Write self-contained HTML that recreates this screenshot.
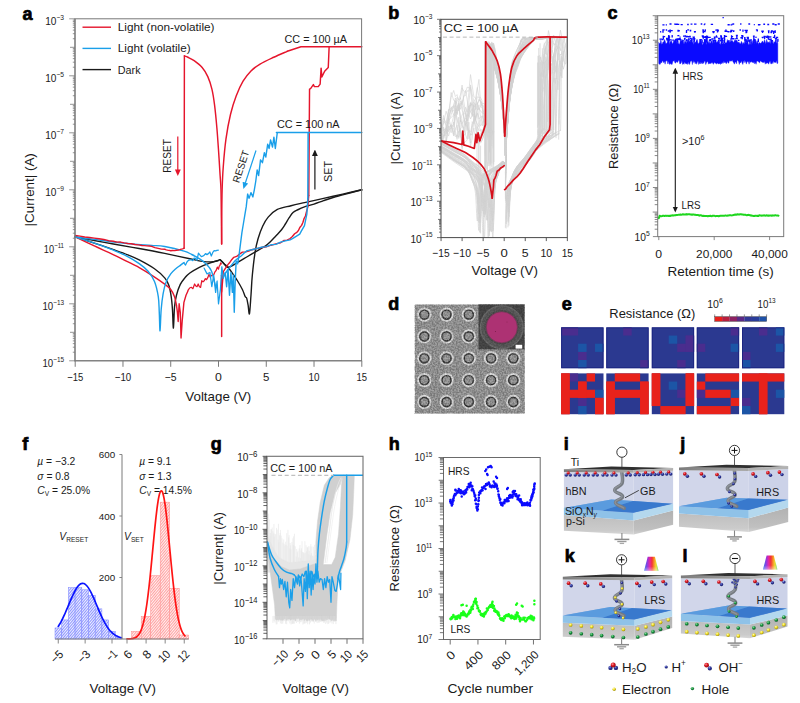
<!DOCTYPE html>
<html><head><meta charset="utf-8"><title>Figure</title>
<style>html,body{margin:0;padding:0;background:#fff;}svg{display:block;}</style>
</head><body>
<svg width="800" height="703" viewBox="0 0 800 703" font-family='"Liberation Sans", Arial, sans-serif'>
<rect width="800" height="703" fill="#fff"/>
<g>
<text x="22.5" y="19.5" font-size="18" font-weight="bold" fill="#000" stroke="#000" stroke-width="0.7">a</text>
<path d="M219.93 259.62 C220.65 260.34 222.88 262.62 224.23 263.9 C225.59 265.18 226.62 265.66 228.05 267.32 C229.49 268.98 231.24 271.6 232.83 273.88 C234.42 276.15 236.01 278.39 237.61 281 C239.2 283.61 241.11 286.94 242.38 289.55 C243.66 292.16 244.53 295.25 245.25 296.68 C245.97 298.1 246.2 296.68 246.68 298.1 C247.16 299.53 247.65 302.61 248.12 305.23 C248.58 307.84 248.98 315.44 249.45 313.77 C249.93 312.11 250.5 301.66 250.98 295.25 C251.46 288.84 251.63 282.47 252.32 275.3 C253 268.13 254.13 258.3 255.09 252.22 C256.04 246.13 256.79 243.14 258.05 238.82 C259.31 234.5 260.95 229.89 262.64 226.28 C264.32 222.67 265.73 219.96 268.18 217.16 C270.63 214.36 273.54 211.37 277.35 209.47 C281.15 207.56 286.49 206.9 291.01 205.76 C295.53 204.62 299.05 203.86 304.48 202.62 C309.91 201.39 317.22 199.78 323.59 198.35 C329.96 196.93 336.32 195.5 342.69 194.08 C349.06 192.65 358.62 190.51 361.8 189.8" fill="none" stroke="#1a1a1a" stroke-width="1.4" stroke-linejoin="round" stroke-linecap="round" />
<path d="M361.8 189.8 C358.62 190.66 347.47 193.65 342.69 194.93 C337.92 196.21 336.32 196.55 333.14 197.5 C329.96 198.44 326.77 199.54 323.59 200.63 C320.4 201.72 317.22 203.01 314.03 204.05 C310.85 205.09 307.19 205.95 304.48 206.9 C301.77 207.85 299.7 208.8 297.79 209.75 C295.88 210.7 294.45 211.27 293.02 212.6 C291.58 213.93 290.47 215.83 289.19 217.73 C287.92 219.63 286.65 222 285.37 224 C284.1 226 283.14 227.71 281.55 229.7 C279.96 231.7 277.57 234.07 275.82 235.97 C274.07 237.87 272.64 239.53 271.04 241.1 C269.45 242.67 268.65 243.71 266.27 245.38 C263.88 247.04 259.9 249.18 256.71 251.08 C253.53 252.98 250.34 254.87 247.16 256.77 C243.98 258.67 240.79 260.72 237.61 262.48 C234.42 264.23 230.28 267.08 228.05 267.32 C225.82 267.56 225.59 265.18 224.23 263.9 C222.88 262.62 220.65 260.34 219.93 259.62" fill="none" stroke="#1a1a1a" stroke-width="1.4" stroke-linejoin="round" stroke-linecap="round" />
<path d="M219.93 259.62 C218.9 259.96 216.35 261.29 213.72 261.62 C211.1 261.95 208.15 262.1 204.17 261.62 C200.19 261.14 196.42 260.15 189.84 258.77 C183.26 257.39 171.08 254.69 164.71 253.36 C158.35 252.03 156.99 251.79 151.63 250.79 C146.26 249.79 138.89 248.51 132.52 247.37 C126.15 246.23 119.78 245.09 113.41 243.95 C107.04 242.81 100.68 241.72 94.31 240.53 C87.94 239.34 78.38 237.44 75.2 236.83" fill="none" stroke="#1a1a1a" stroke-width="1.4" stroke-linejoin="round" stroke-linecap="round" />
<path d="M75.2 236.83 C78.38 237.87 87.91 240.96 94.31 243.09 C100.71 245.23 108.03 247.7 113.6 249.65 C119.18 251.6 123.48 253.07 127.74 254.78 C132.01 256.49 134.75 257.58 139.21 259.91 C143.67 262.24 150.24 265.75 154.49 268.75 C158.74 271.74 162.33 275.11 164.71 277.87 C167.1 280.62 167.74 282.14 168.82 285.27 C169.91 288.41 170.61 292.64 171.21 296.68 C171.82 300.71 172.09 304.27 172.45 309.5 C172.82 314.73 173.06 328.5 173.41 328.02 C173.76 327.55 174.05 312.11 174.55 306.65 C175.06 301.19 175.51 298.95 176.47 295.25 C177.42 291.55 178.85 287.37 180.29 284.42 C181.72 281.48 183.47 279.48 185.06 277.58 C186.66 275.68 187.45 274.73 189.84 273.02 C192.23 271.31 196.21 268.94 199.39 267.32 C202.58 265.7 205.76 264.47 208.95 263.33 C212.13 262.19 216.91 260.96 218.5 260.48" fill="none" stroke="#1a1a1a" stroke-width="1.4" stroke-linejoin="round" stroke-linecap="round" />
<path d="M361.8 46.73 L300.95 46.73 L287.28 51.29" fill="none" stroke="#e5152c" stroke-width="1.45" stroke-linejoin="round" stroke-linecap="round" />
<path d="M287.28 51.29 C285.02 52.29 278.26 55.14 273.72 57.27 C269.18 59.41 263.85 61.83 260.06 64.11 C256.27 66.39 253.82 68.1 250.98 70.95 C248.15 73.81 245.52 77.04 243.05 81.22 C240.58 85.4 238.26 90.53 236.17 96.03 C234.09 101.54 232.24 107.1 230.54 114.27 C228.83 121.45 227.16 130.38 225.95 139.07 C224.74 147.76 223.91 157.97 223.28 166.43 C222.64 174.89 222.39 181.16 222.13 189.8 C221.88 198.45 221.83 209.28 221.75 218.3 C221.67 227.33 221.67 239.68 221.65 243.95" fill="none" stroke="#e5152c" stroke-width="1.45" stroke-linejoin="round" stroke-linecap="round" />
<path d="M221.65 243.95 C221.6 239.68 221.48 227.33 221.37 218.3 C221.25 209.28 221.19 196.93 220.98 189.8 C220.78 182.68 220.51 181.73 220.12 175.55 C219.74 169.38 219.23 160.68 218.69 152.75 C218.15 144.82 217.56 135.89 216.88 127.95 C216.19 120.02 215.41 111.62 214.58 105.16 C213.76 98.69 213.04 93.94 211.91 89.19 C210.78 84.44 209.42 80.27 207.8 76.66 C206.18 73.05 204.44 70.19 202.16 67.53 C199.89 64.88 196.51 62.4 194.14 60.69 C191.77 58.98 189.55 58.08 187.93 57.27 C186.31 56.47 184.98 56.09 184.39 55.85" fill="none" stroke="#e5152c" stroke-width="1.45" stroke-linejoin="round" stroke-linecap="round" />
<path d="M184.39 55.85 L184.11 248.23" fill="none" stroke="#e5152c" stroke-width="1.45" stroke-linejoin="round" stroke-linecap="round" />
<path d="M75.2 236.83 C78.38 238.35 87.91 242.95 94.31 245.95 C100.71 248.94 107.24 251.74 113.6 254.78 C119.97 257.82 128.25 262.05 132.52 264.19 C136.79 266.32 135.98 265.75 139.21 267.61 C142.44 269.46 147.66 272.55 151.91 275.3 C156.16 278.06 161.58 281.76 164.71 284.14 C167.85 286.51 169.09 287.46 170.73 289.55 C172.37 291.64 173.6 294.06 174.55 296.68 C175.51 299.29 176.15 303.8 176.47 305.23" fill="none" stroke="#e5152c" stroke-width="1.4" stroke-linejoin="round" stroke-linecap="round" />
<path d="M176.47 305.23 L177.42 312.35 L178.18 321.47 L179.14 303.8 L180.29 312.35 L181.05 338 L182.2 320.9 L183.92 302.38 L186.02 295.25 L187.93 290.98" fill="none" stroke="#e5152c" stroke-width="1.4" stroke-linejoin="round" stroke-linecap="round" />
<path d="M187.93 290.26 L189.6 288.02 L191.27 287.29 L192.94 288.65 L194.62 283.98 L195.81 286.02 L197 286.67 L198.2 283.96 L199.39 286.78 L200.59 287.36 L201.78 280.63 L202.98 281.91 L204.17 280.83 L205.36 278.62 L206.56 279.66 L207.75 277.69 L208.95 274.38 L210.14 276.98 L211.33 275.66 L212.53 275.03 L213.72 274.75 L214.92 271.96 L216.11 270.5 L217.31 267.17 L218.5 269.16 L219.22 266.13 L219.93 265.31 L220.65 262.95 L221.37 263.9" fill="none" stroke="#e5152c" stroke-width="1.25" stroke-linejoin="round" stroke-linecap="round" />
<path d="M221.65 275.3 L221.65 336.58" fill="none" stroke="#e5152c" stroke-width="1.45" stroke-linejoin="round" stroke-linecap="round" />
<path d="M221.65 292.06 L222.19 285.56 L222.74 279.55 L223.28 271.74 L224.87 269.09 L226.46 266.83 L228.05 264.41 L229.96 262.2 L231.87 259.44 L233.79 257.32 L236.65 256.43 L239.52 254.14 L242.38 252.11 L245.57 251.89 L248.75 250.99 L251.94 249.71 L256.71 248.6 L261.49 247.52 L266.27 246.79 L271.04 245.21 L275.82 243.94 L280.6 242.72 L283.78 240.55 L286.97 240.12 L290.15 238.58 L292.38 236.54 L294.61 233.76 L296.84 232.33 L298.43 230.47 L300.02 227.17 L301.61 225.36 L302.89 222.46 L304.16 218.32 L305.44 216.01 L306.23 212.79 L307.03 209.7 L307.82 207.01 L308.14 203.33 L308.46 199.34 L308.78 195.5" fill="none" stroke="#e5152c" stroke-width="1.4" stroke-linejoin="round" stroke-linecap="round" />
<path d="M308.78 195.5 L309.54 89.19 L310.59 88.62 L313.36 84.63 L314.42 86.63 L318.24 86.63 L320.15 84.06 L321.1 68.11 L321.87 76.94 L324.64 71.24 L328.27 67.53 L329.13 46.73" fill="none" stroke="#e5152c" stroke-width="1.45" stroke-linejoin="round" stroke-linecap="round" />
<path d="M361.8 132.52 L276.39 132.52" fill="none" stroke="#1a9fe9" stroke-width="1.45" stroke-linejoin="round" stroke-linecap="round" />
<path d="M277.25 132.8 L275.34 148.47 L273.91 137.08 L272.48 147.05 L270.57 139.93 L269.13 148.47 L267.7 144.2 L265.79 157.03 L264.36 152.75 L262.45 162.73 L260.53 159.88 L258.62 175.55 L257.19 169.85 L255.76 181.25 L254.32 189.8 L252.89 196.93 L250.98 192.65 L249.07 198.35 L247.64 194.08 L246.2 206.9 L244.77 215.45 L243.34 224 L241.91 232.55 L240.47 243.95 L239.04 255.35 L237.61 263.9 L236.17 261.05 L235.22 281 L234.26 312.35 L233.31 275.3 L232.35 292.4 L230.92 272.45 L229.49 295.25 L228.05 269.6 L226.62 286.7 L225.19 272.45 L223.28 278.15" fill="none" stroke="#1a9fe9" stroke-width="1.4" stroke-linejoin="round" stroke-linecap="round" />
<path d="M223.28 278.15 L221.84 266.75 L220.41 289.55 L218.5 303.8 L217.07 281 L215.63 292.4 L213.72 275.3 L211.81 286.7 L209.9 272.45 L207.04 273.88 L204.17 268.18" fill="none" stroke="#1a9fe9" stroke-width="1.25" stroke-linejoin="round" stroke-linecap="round" />
<path d="M224.23 275.64 L226.14 272.25 L228.05 269.48 L229.96 267.06 L232.51 263.91 L235.06 260.79 L237.61 258.48 L240.79 256.26 L243.98 253.32 L247.16 250.66 L251.94 249.8 L256.71 248.56 L261.49 247.28 L266.27 246.65 L271.04 244.78 L275.82 244.33 L280.6 242.14 L285.37 240.86 L290.15 239.86 L293.33 238.11 L296.52 236.13 L299.7 234.08 L301.3 231.17 L302.89 228.32 L304.48 225.6 L305.28 221.57 L306.07 217.91 L306.87 214.2 L307.19 208.8 L307.51 203.8 L307.82 198.35" fill="none" stroke="#1a9fe9" stroke-width="1.4" stroke-linejoin="round" stroke-linecap="round" />
<path d="M307.82 198.35 L308.11 132.8" fill="none" stroke="#1a9fe9" stroke-width="1.45" stroke-linejoin="round" stroke-linecap="round" />
<path d="M215.63 286.7 C214.93 284.09 213.02 274.82 211.43 271.02 C209.84 267.22 207.98 265.89 206.08 263.9 C204.19 261.9 202.45 260.62 200.06 259.06 C197.67 257.49 194.41 255.82 191.75 254.5 C189.09 253.17 188.61 252.41 184.11 251.08 C179.6 249.75 170.13 247.47 164.71 246.52 C159.3 245.56 156.99 245.8 151.63 245.38 C146.26 244.95 138.89 244.52 132.52 243.95 C126.15 243.38 119.78 242.72 113.41 241.96 C107.04 241.2 100.68 240.25 94.31 239.39 C87.94 238.54 78.38 237.25 75.2 236.83" fill="none" stroke="#1a9fe9" stroke-width="1.4" stroke-linejoin="round" stroke-linecap="round" />
<path d="M75.2 236.83 C77.43 237.54 84.28 239.68 88.57 241.1 C92.87 242.53 96.85 243.86 100.99 245.38 C105.13 246.89 109.19 248.46 113.41 250.22 C117.63 251.98 122.01 253.69 126.31 255.92 C130.61 258.15 135.58 261.05 139.21 263.62 C142.84 266.18 145.54 268.32 148.09 271.31 C150.64 274.3 152.79 277.3 154.49 281.57 C156.2 285.85 157.52 291.83 158.31 296.96 C159.11 302.09 158.98 306.7 159.27 312.35 C159.56 318 159.72 331.35 160.03 330.88 C160.35 330.4 160.67 315.68 161.18 309.5 C161.69 303.32 162.29 298.34 163.09 293.83 C163.89 289.31 164.68 285.75 165.96 282.43 C167.23 279.1 169.14 276.11 170.73 273.88 C172.33 271.64 173.92 270.45 175.51 269.03 C177.1 267.6 178.85 266.42 180.29 265.32 C181.72 264.23 183.47 262.95 184.11 262.48" fill="none" stroke="#1a9fe9" stroke-width="1.4" stroke-linejoin="round" stroke-linecap="round" />
<path d="M184.11 263.32 L185.54 264.99 L186.97 261.96 L188.41 260.34 L189.84 259.92 L191.27 259.82 L192.71 260.58 L194.14 258.05 L195.57 258.49 L197 260.24 L198.44 253.21 L199.87 254.95 L201.3 256.57 L202.71 256.16 L204.12 255.28 L205.53 253.63 L206.94 254.62 L208.4 253.64 L209.85 252 L211.31 256 L212.77 252.46 L214.15 250.67 L215.54 250.93 L216.92 250.31 L218.31 250.22" fill="none" stroke="#1a9fe9" stroke-width="1.25" stroke-linejoin="round" stroke-linecap="round" />
<path d="M184.11 248.16 L182.68 248.85 L181.24 249.17 L179.81 249.64 L178.38 249.99 L176.47 250.24 L174.55 250.64 L172.64 250.54 L170.73 250.76 L169.23 250.35 L167.72 250.18 L166.22 249.91 L164.71 249.23 L161.44 249.15 L158.17 248.35 L154.9 247.64 L151.63 246.38 L149.24 246.01 L146.85 245.87 L144.46 245.61 L142.07 245.45 L138.49 244.86 L134.91 244.51 L131.33 243.72 L127.74 243.46 L124.16 242.91 L120.58 242.07 L117 242.1 L113.41 241.24 L108.64 240.69 L103.86 239.52 L99.08 238.78 L94.31 238.16 L89.53 237.51 L84.75 236.98 L79.98 236.17 L75.2 235.4" fill="none" stroke="#e5152c" stroke-width="1.4" stroke-linejoin="round" stroke-linecap="round" />
<rect x="75" y="18.8" width="286.6" height="342" fill="none" stroke="#787878" stroke-width="1"/>
<line x1="75" y1="18.8" x2="75" y2="361.3" stroke="#7a7a7a" stroke-width="1.1" />
<line x1="74.5" y1="360.8" x2="361.6" y2="360.8" stroke="#7a7a7a" stroke-width="1.1" />
<path d="M69.2 18.8H75M72.8 38.72H75M72.8 33.7H75M72.8 30.14H75M72.8 27.38H75M72.8 25.12H75M72.8 23.21H75M72.8 21.56H75M72.8 20.1H75M70 47.3H75M72.8 67.22H75M72.8 62.2H75M72.8 58.64H75M72.8 55.88H75M72.8 53.62H75M72.8 51.71H75M72.8 50.06H75M72.8 48.6H75M69.2 75.8H75M72.8 95.72H75M72.8 90.7H75M72.8 87.14H75M72.8 84.38H75M72.8 82.12H75M72.8 80.21H75M72.8 78.56H75M72.8 77.1H75M70 104.3H75M72.8 124.22H75M72.8 119.2H75M72.8 115.64H75M72.8 112.88H75M72.8 110.62H75M72.8 108.71H75M72.8 107.06H75M72.8 105.6H75M69.2 132.8H75M72.8 152.72H75M72.8 147.7H75M72.8 144.14H75M72.8 141.38H75M72.8 139.12H75M72.8 137.21H75M72.8 135.56H75M72.8 134.1H75M70 161.3H75M72.8 181.22H75M72.8 176.2H75M72.8 172.64H75M72.8 169.88H75M72.8 167.62H75M72.8 165.71H75M72.8 164.06H75M72.8 162.6H75M69.2 189.8H75M72.8 209.72H75M72.8 204.7H75M72.8 201.14H75M72.8 198.38H75M72.8 196.12H75M72.8 194.21H75M72.8 192.56H75M72.8 191.1H75M70 218.3H75M72.8 238.22H75M72.8 233.2H75M72.8 229.64H75M72.8 226.88H75M72.8 224.62H75M72.8 222.71H75M72.8 221.06H75M72.8 219.6H75M69.2 246.8H75M72.8 266.72H75M72.8 261.7H75M72.8 258.14H75M72.8 255.38H75M72.8 253.12H75M72.8 251.21H75M72.8 249.56H75M72.8 248.1H75M70 275.3H75M72.8 295.22H75M72.8 290.2H75M72.8 286.64H75M72.8 283.88H75M72.8 281.62H75M72.8 279.71H75M72.8 278.06H75M72.8 276.6H75M69.2 303.8H75M72.8 323.72H75M72.8 318.7H75M72.8 315.14H75M72.8 312.38H75M72.8 310.12H75M72.8 308.21H75M72.8 306.56H75M72.8 305.1H75M70 332.3H75M72.8 352.22H75M72.8 347.2H75M72.8 343.64H75M72.8 340.88H75M72.8 338.62H75M72.8 336.71H75M72.8 335.06H75M72.8 333.6H75M69.2 360.8H75" stroke="#7a7a7a" stroke-width="0.8" fill="none"/>
<text x="64" y="24.76" font-size="11" text-anchor="end" fill="#1a1a1a"  textLength="18.84" lengthAdjust="spacingAndGlyphs">10<tspan font-size="7.26" dy="-4.84">−3</tspan></text>
<text x="64" y="81.76" font-size="11" text-anchor="end" fill="#1a1a1a"  textLength="18.84" lengthAdjust="spacingAndGlyphs">10<tspan font-size="7.26" dy="-4.84">−5</tspan></text>
<text x="64" y="138.76" font-size="11" text-anchor="end" fill="#1a1a1a"  textLength="18.84" lengthAdjust="spacingAndGlyphs">10<tspan font-size="7.26" dy="-4.84">−7</tspan></text>
<text x="64" y="195.76" font-size="11" text-anchor="end" fill="#1a1a1a"  textLength="18.84" lengthAdjust="spacingAndGlyphs">10<tspan font-size="7.26" dy="-4.84">−9</tspan></text>
<text x="64" y="252.76" font-size="11" text-anchor="end" fill="#1a1a1a"  textLength="20.15" lengthAdjust="spacingAndGlyphs">10<tspan font-size="7.26" dy="-4.84">−11</tspan></text>
<text x="64" y="309.76" font-size="11" text-anchor="end" fill="#1a1a1a"  textLength="21.6" lengthAdjust="spacingAndGlyphs">10<tspan font-size="7.26" dy="-4.84">−13</tspan></text>
<text x="64" y="366.76" font-size="11" text-anchor="end" fill="#1a1a1a"  textLength="21.6" lengthAdjust="spacingAndGlyphs">10<tspan font-size="7.26" dy="-4.84">−15</tspan></text>
<line x1="75.2" y1="360.8" x2="75.2" y2="366.8" stroke="#7a7a7a" stroke-width="1" />
<text x="75.2" y="381.2" font-size="11" text-anchor="middle" fill="#1a1a1a"  textLength="16.06" lengthAdjust="spacingAndGlyphs">−15</text>
<line x1="122.97" y1="360.8" x2="122.97" y2="366.8" stroke="#7a7a7a" stroke-width="1" />
<text x="122.97" y="381.2" font-size="11" text-anchor="middle" fill="#1a1a1a"  textLength="16.5" lengthAdjust="spacingAndGlyphs">−10</text>
<line x1="170.73" y1="360.8" x2="170.73" y2="366.8" stroke="#7a7a7a" stroke-width="1" />
<text x="170.73" y="381.2" font-size="11" text-anchor="middle" fill="#1a1a1a"  textLength="11.88" lengthAdjust="spacingAndGlyphs">−5</text>
<line x1="218.5" y1="360.8" x2="218.5" y2="366.8" stroke="#7a7a7a" stroke-width="1" />
<text x="218.5" y="381.2" font-size="11" text-anchor="middle" fill="#1a1a1a"  textLength="6.82" lengthAdjust="spacingAndGlyphs">0</text>
<line x1="266.27" y1="360.8" x2="266.27" y2="366.8" stroke="#7a7a7a" stroke-width="1" />
<text x="266.27" y="381.2" font-size="11" text-anchor="middle" fill="#1a1a1a"  textLength="6.38" lengthAdjust="spacingAndGlyphs">5</text>
<line x1="314.03" y1="360.8" x2="314.03" y2="366.8" stroke="#7a7a7a" stroke-width="1" />
<text x="314.03" y="381.2" font-size="11" text-anchor="middle" fill="#1a1a1a"  textLength="11" lengthAdjust="spacingAndGlyphs">10</text>
<line x1="361.8" y1="360.8" x2="361.8" y2="366.8" stroke="#7a7a7a" stroke-width="1" />
<text x="361.8" y="381.2" font-size="11" text-anchor="middle" fill="#1a1a1a"  textLength="10.56" lengthAdjust="spacingAndGlyphs">15</text>
<text x="218.3" y="400.5" font-size="13" text-anchor="middle" fill="#1a1a1a"  textLength="66" lengthAdjust="spacingAndGlyphs">Voltage (V)</text>
<text transform="translate(34,189.8) rotate(-90)" font-size="13.2" text-anchor="middle" fill="#1a1a1a" textLength="73.2" lengthAdjust="spacingAndGlyphs">|Current| (A)</text>
<line x1="82.5" y1="27.2" x2="111" y2="27.2" stroke="#e5152c" stroke-width="1.4" />
<text x="117.8" y="31.1" font-size="11.2" text-anchor="start" fill="#1a1a1a"  textLength="96.7" lengthAdjust="spacingAndGlyphs">Light (non-volatile)</text>
<line x1="82.5" y1="48.4" x2="111" y2="48.4" stroke="#1a9fe9" stroke-width="1.4" />
<text x="117.8" y="52.3" font-size="11.2" text-anchor="start" fill="#1a1a1a"  textLength="72.8" lengthAdjust="spacingAndGlyphs">Light (volatile)</text>
<line x1="82.5" y1="69.6" x2="111" y2="69.6" stroke="#1a1a1a" stroke-width="1.4" />
<text x="117.8" y="73.5" font-size="11.2" text-anchor="start" fill="#1a1a1a"  textLength="22.8" lengthAdjust="spacingAndGlyphs">Dark</text>
<text x="284.5" y="42.5" font-size="10.8" text-anchor="start" fill="#1a1a1a"  textLength="62.6" lengthAdjust="spacingAndGlyphs">CC = 100 µA</text>
<text x="277" y="128" font-size="10.8" text-anchor="start" fill="#1a1a1a"  textLength="62.6" lengthAdjust="spacingAndGlyphs">CC = 100 nA</text>
<defs><marker id="ar" viewBox="0 0 10 10" refX="7" refY="5" markerWidth="5.5" markerHeight="5.5" orient="auto-start-reverse"><path d="M0 0.5L10 5L0 9.5z" fill="context-stroke"/></marker></defs>
<line x1="177.8" y1="136.5" x2="177.8" y2="174" stroke="#e5152c" stroke-width="1.2" marker-end="url(#ar)"/>
<text transform="translate(170.6,156) rotate(-90)" font-size="10" text-anchor="middle" fill="#1a1a1a" textLength="33.6" lengthAdjust="spacingAndGlyphs">RESET</text>
<line x1="256" y1="150.5" x2="244" y2="187" stroke="#1a9fe9" stroke-width="1.2" marker-end="url(#ar)"/>
<text transform="translate(244.3,167.5) rotate(-72)" font-size="10" text-anchor="middle" fill="#1a1a1a" textLength="33.6" lengthAdjust="spacingAndGlyphs">RESET</text>
<line x1="314.9" y1="189.5" x2="314.9" y2="151.5" stroke="#1a1a1a" stroke-width="1.2" marker-end="url(#ar)"/>
<text transform="translate(331.8,171.5) rotate(-90)" font-size="10" text-anchor="middle" fill="#1a1a1a" textLength="21" lengthAdjust="spacingAndGlyphs">SET</text>
</g>
<g>
<text x="388.2" y="18.8" font-size="18" font-weight="bold" fill="#000" stroke="#000" stroke-width="0.7">b</text>
<clipPath id="cb"><rect x="441" y="19.3" width="126.3" height="218.3"/></clipPath>
<g clip-path="url(#cb)">
<path d="M567.35 37.49 C563.87 37.49 551.03 37.42 546.5 37.49 C541.97 37.56 542.27 37.71 540.15 37.93 C538.04 38.15 535.92 38.42 533.81 38.8 C531.69 39.17 530.33 37.21 527.46 40.16 C524.6 43.11 519.11 51.35 516.61 56.5 C514.11 61.65 513.72 64.52 512.48 71.06 C511.23 77.59 510.06 87.35 509.17 95.7 C508.27 104.06 507.64 112.08 507.1 121.17 C506.55 130.27 506.16 141.39 505.88 150.28 C505.61 159.17 505.53 170.47 505.46 174.5" fill="none" stroke="#d2d2d2" stroke-width="0.7" stroke-linejoin="round" stroke-linecap="round" />
<path d="M505.46 155.74 C505.25 151.19 504.76 137.24 504.2 128.45 C503.64 119.66 502.96 110.86 502.13 102.98 C501.3 95.1 500.27 87.52 499.23 81.15 C498.2 74.78 497.01 68.86 495.92 64.78 C494.84 60.7 493.72 59.55 492.71 56.68 C491.69 53.82 490.31 49.1 489.83 47.59" fill="none" stroke="#d2d2d2" stroke-width="0.7" stroke-linejoin="round" stroke-linecap="round" />
<path d="M489.83 47.59 L489.83 165.53" fill="none" stroke="#d2d2d2" stroke-width="0.7" stroke-linejoin="round" stroke-linecap="round" />
<path d="M441.05 150.99 C443.16 152.46 449.47 156.93 453.68 159.81 C457.89 162.7 462.07 164.73 466.31 168.32 C470.55 171.9 476.3 177.15 479.14 181.33 C481.98 185.5 482.3 187.99 483.35 193.39 C484.4 198.79 484.75 214.86 485.46 213.74 C486.16 212.62 486.65 193.3 487.56 186.66 C488.47 180.03 488.58 178.04 490.93 173.93 C493.28 169.82 499.46 163.83 501.67 162.01 C503.89 160.19 503.78 162.85 504.2 163.01" fill="none" stroke="#d2d2d2" stroke-width="0.7" stroke-linejoin="round" stroke-linecap="round" />
<path d="M441.05 127.83 L443.58 115.46 L446.1 127.62 L448.63 136.06 L451.15 126.12 L453.68 132.59 L455.36 136.62 L457.05 135.05 L458.73 137.15 L460.42 120.12 L462.1 125.78 L463.78 127.85 L465.47 134.67 L467.15 139.01 L468.84 122.14 L470.52 143 L472.2 121.69 L473.89 123.71 L475.57 104.2 L477.26 103.91 L478.94 100.37 L481.12 101.19 L483.3 110.43 L485.48 121 L487.65 125.26 L489.83 132.09" fill="none" stroke="#d2d2d2" stroke-width="0.6" stroke-linejoin="round" stroke-linecap="round" />
<path d="M507.96 226.98 C508.24 220.56 508.52 197.95 509.65 188.48 C510.77 179.01 512.12 175.5 514.73 170.17 C517.33 164.84 521.74 161.2 525.25 156.5 C528.76 151.79 531.84 146.64 535.77 141.94 C539.71 137.25 546.7 130.6 548.89 128.33" fill="none" stroke="#d2d2d2" stroke-width="0.7" stroke-linejoin="round" stroke-linecap="round" />
<path d="M548.89 131.73 L549.17 113.13 L549.45 86.1 L549.73 55.64 L550.29 65.51 L550.85 47.65 L551.41 53.6 L552.11 50.12 L552.82 52.95 L553.52 56.47 L554.92 49.15 L556.32 45.43 L557.73 37.49" fill="none" stroke="#d2d2d2" stroke-width="0.7" stroke-linejoin="round" stroke-linecap="round" />
<path d="M567.35 37.49 C561.99 37.49 541.31 37.42 535.17 37.49 C529.04 37.57 532.08 37.71 530.53 37.93 C528.98 38.16 527.43 38.44 525.88 38.82 C524.33 39.2 522.71 36.36 521.24 40.22 C519.76 44.08 518.43 55.91 517.01 61.96 C515.59 68.01 514.02 70.89 512.74 76.51 C511.46 82.14 510.25 88.26 509.32 95.7 C508.4 103.15 507.76 112.08 507.19 121.17 C506.62 130.27 506.17 138.38 505.88 150.28 C505.6 162.18 505.53 185.52 505.46 192.57" fill="none" stroke="#d2d2d2" stroke-width="0.7" stroke-linejoin="round" stroke-linecap="round" />
<path d="M505.46 155.74 C505.25 151.19 504.77 137.24 504.2 128.45 C503.63 119.66 502.92 110.86 502.07 102.98 C501.21 95.1 500.14 87.52 499.08 81.15 C498.01 74.78 497.24 69.77 495.66 64.78 C494.08 59.79 491.21 55 489.59 51.23 C487.97 47.45 486.55 43.65 485.94 42.13" fill="none" stroke="#d2d2d2" stroke-width="0.7" stroke-linejoin="round" stroke-linecap="round" />
<path d="M485.94 42.13 L485.94 162.93" fill="none" stroke="#d2d2d2" stroke-width="0.7" stroke-linejoin="round" stroke-linecap="round" />
<path d="M441.05 146.63 C443.16 147.92 449.47 151.75 453.68 154.36 C457.89 156.98 463.42 158.64 466.31 162.32 C469.2 166 469.54 171.61 471.03 176.42 C472.51 181.24 474.18 183.78 475.24 191.21 C476.29 198.63 476.64 221.74 477.34 220.98 C478.04 220.23 478.53 194.51 479.45 186.66 C480.36 178.82 479.11 177.13 482.81 173.93 C486.52 170.73 498.11 169.29 501.67 167.47 C505.24 165.65 503.78 163.76 504.2 163.01" fill="none" stroke="#d2d2d2" stroke-width="0.7" stroke-linejoin="round" stroke-linecap="round" />
<path d="M507.83 211.86 C508.11 207.97 508.37 194.22 509.51 188.48 C510.66 182.75 512.1 181.26 514.73 177.45 C517.35 173.63 521.74 169.99 525.25 165.59 C528.76 161.19 531.15 156.04 535.77 151.04 C540.4 146.04 550.14 138.18 553.01 135.61" fill="none" stroke="#d2d2d2" stroke-width="0.7" stroke-linejoin="round" stroke-linecap="round" />
<path d="M553.01 128.01 L553.29 126.48 L553.57 117.74 L553.85 107.45 L554.41 83.21 L554.97 63.24 L555.53 52.58 L556.24 47.16 L556.94 45.39 L557.64 48.78 L559.04 40.17 L560.45 30.17 L561.85 37.49" fill="none" stroke="#d2d2d2" stroke-width="0.7" stroke-linejoin="round" stroke-linecap="round" />
<path d="M567.35 37.49 C562.95 37.49 546.29 37.42 540.97 37.49 C535.66 37.56 537.29 37.71 535.46 37.91 C533.62 38.11 531.78 38.37 529.94 38.71 C528.1 39.04 526.89 36.36 524.42 39.94 C521.95 43.52 517.28 54.36 515.12 60.16 C512.97 65.95 512.57 68.79 511.48 74.71 C510.39 80.64 509.36 87.96 508.57 95.7 C507.78 103.45 507.2 112.08 506.75 121.17 C506.3 130.27 506.1 137.47 505.88 150.28 C505.67 163.09 505.53 190.07 505.46 198.02" fill="none" stroke="#d2d2d2" stroke-width="0.7" stroke-linejoin="round" stroke-linecap="round" />
<path d="M505.46 155.74 C505.25 151.19 504.71 137.24 504.2 128.45 C503.69 119.66 503.11 110.86 502.38 102.98 C501.65 95.1 500.74 87.52 499.83 81.15 C498.92 74.78 497.91 69.47 496.92 64.78 C495.92 60.09 494.8 56.5 493.85 53.03 C492.91 49.55 491.7 45.45 491.27 43.93" fill="none" stroke="#d2d2d2" stroke-width="0.7" stroke-linejoin="round" stroke-linecap="round" />
<path d="M491.27 43.93 L491.27 139.08" fill="none" stroke="#d2d2d2" stroke-width="0.7" stroke-linejoin="round" stroke-linecap="round" />
<path d="M441.05 145.97 C443.16 147.23 449.47 150.96 453.68 153.53 C457.89 156.1 462.38 157.71 466.31 161.4 C470.24 165.09 474.74 170.76 477.26 175.67 C479.79 180.58 480.42 186.11 481.47 190.87 C482.53 195.64 482.88 204.98 483.58 204.28 C484.28 203.57 484.77 191.72 485.68 186.66 C486.59 181.61 486.39 177.43 489.05 173.93 C491.72 170.43 499.15 167.49 501.67 165.67 C504.2 163.85 503.78 163.46 504.2 163.01" fill="none" stroke="#d2d2d2" stroke-width="0.7" stroke-linejoin="round" stroke-linecap="round" />
<path d="M441.05 138.4 L443.58 121.09 L446.1 124.49 L448.63 112.01 L451.15 97.4 L453.68 90.44 L455.36 96.52 L457.05 94.63 L458.73 102.73 L460.42 97.67 L462.1 105.05 L463.78 115.93 L465.47 125.14 L467.15 122.36 L468.84 138.74 L470.52 133.59 L472.2 135.04 L473.89 128.13 L475.57 140.78 L477.26 126.77 L478.94 130.35 L481.41 129.79 L483.87 130.94 L486.34 128.46 L488.8 132.92 L491.27 132.09" fill="none" stroke="#d2d2d2" stroke-width="0.6" stroke-linejoin="round" stroke-linecap="round" />
<path d="M508.87 211.4 C509.15 207.58 509.58 194.54 510.56 188.48 C511.53 182.42 512.28 179.36 514.73 175.04 C517.17 170.73 521.74 167.09 525.25 162.59 C528.76 158.09 530.2 152.93 535.77 148.04 C541.35 143.14 554.86 135.68 558.68 133.2" fill="none" stroke="#d2d2d2" stroke-width="0.7" stroke-linejoin="round" stroke-linecap="round" />
<path d="M558.68 139.25 L558.96 107.21 L559.24 84.11 L559.52 60.94 L560.09 62.07 L560.65 63.75 L561.21 72.49 L561.91 77.98 L562.61 66.06 L563.31 69.22 L564.66 64.27 L566 52.04 L567.35 37.49" fill="none" stroke="#d2d2d2" stroke-width="0.7" stroke-linejoin="round" stroke-linecap="round" />
<path d="M567.35 37.49 C563.14 37.49 547.23 37.42 542.07 37.49 C536.91 37.56 538.28 37.7 536.39 37.9 C534.5 38.09 532.6 38.33 530.71 38.65 C528.82 38.97 527.78 36.18 525.03 39.81 C522.28 43.44 516.58 54.57 514.22 60.43 C511.86 66.29 511.88 69.11 510.88 74.98 C509.88 80.86 508.93 88.01 508.21 95.7 C507.49 103.4 506.93 112.08 506.54 121.17 C506.15 130.27 506.06 144.25 505.88 150.28 C505.7 156.31 505.53 156.19 505.46 157.37" fill="none" stroke="#d2d2d2" stroke-width="0.7" stroke-linejoin="round" stroke-linecap="round" />
<path d="M505.46 155.74 C505.25 151.19 504.69 137.24 504.2 128.45 C503.71 119.66 503.2 110.86 502.53 102.98 C501.86 95.1 501.03 87.52 500.19 81.15 C499.36 74.78 498.48 69.51 497.52 64.78 C496.55 60.05 495.33 56.27 494.4 52.75 C493.47 49.23 492.36 45.18 491.95 43.66" fill="none" stroke="#d2d2d2" stroke-width="0.7" stroke-linejoin="round" stroke-linecap="round" />
<path d="M491.95 43.66 L491.95 139.45" fill="none" stroke="#d2d2d2" stroke-width="0.7" stroke-linejoin="round" stroke-linecap="round" />
<path d="M441.05 142.43 C443.16 143.55 449.47 146.76 453.68 149.11 C457.89 151.47 463.17 152.78 466.31 156.55 C469.45 160.31 470.77 166.27 472.51 171.7 C474.24 177.12 475.66 179.31 476.72 189.11 C477.77 198.9 478.12 230.89 478.82 230.48 C479.52 230.07 480.01 196.09 480.93 186.66 C481.84 177.24 480.84 177.38 484.29 173.93 C487.75 170.48 498.36 167.76 501.67 165.94 C504.99 164.12 503.78 163.5 504.2 163.01" fill="none" stroke="#d2d2d2" stroke-width="0.7" stroke-linejoin="round" stroke-linecap="round" />
<path d="M506.93 221.57 C507.21 216.05 507.31 196.18 508.61 188.48 C509.91 180.79 511.95 179.65 514.73 175.41 C517.5 171.17 521.74 167.53 525.25 163.04 C528.76 158.56 531.09 153.4 535.77 148.49 C540.46 143.58 550.43 136.05 553.36 133.57" fill="none" stroke="#d2d2d2" stroke-width="0.7" stroke-linejoin="round" stroke-linecap="round" />
<path d="M553.36 135.08 L553.64 114.98 L553.92 93.84 L554.2 78.09 L554.76 79.92 L555.32 83.62 L555.89 78.01 L556.59 79.14 L557.29 70 L557.99 52.78 L559.39 46.6 L560.8 50.74 L562.2 37.49" fill="none" stroke="#d2d2d2" stroke-width="0.7" stroke-linejoin="round" stroke-linecap="round" />
<path d="M567.35 37.49 C565.82 37.49 561.07 37.42 558.2 37.49 C555.32 37.56 552.8 37.71 550.1 37.91 C547.4 38.12 544.7 38.38 542 38.72 C539.3 39.06 538.33 36.3 533.9 39.98 C529.46 43.65 519.08 54.88 515.38 60.77 C511.67 66.66 512.77 69.5 511.65 75.33 C510.53 81.15 509.48 88.06 508.67 95.7 C507.86 103.35 507.27 112.08 506.81 121.17 C506.34 130.27 506.11 143.03 505.88 150.28 C505.66 157.53 505.53 162.28 505.46 164.68" fill="none" stroke="#d2d2d2" stroke-width="0.7" stroke-linejoin="round" stroke-linecap="round" />
<path d="M505.46 155.74 C505.25 151.19 504.72 137.24 504.2 128.45 C503.68 119.66 503.08 110.86 502.34 102.98 C501.59 95.1 500.66 87.52 499.73 81.15 C498.8 74.78 498.1 69.57 496.75 64.78 C495.4 59.99 493.01 55.99 491.63 52.41 C490.25 48.84 489.01 44.83 488.49 43.32" fill="none" stroke="#d2d2d2" stroke-width="0.7" stroke-linejoin="round" stroke-linecap="round" />
<path d="M488.49 43.32 L488.49 160.1" fill="none" stroke="#d2d2d2" stroke-width="0.7" stroke-linejoin="round" stroke-linecap="round" />
<path d="M441.05 146.06 C443.16 147.33 449.47 151.07 453.68 153.65 C457.89 156.23 461.02 157.85 466.31 161.53 C471.6 165.22 481.53 170.88 485.42 175.78 C489.31 180.68 488.58 181.54 489.63 190.92 C490.68 200.3 491.03 232.75 491.74 232.04 C492.44 231.33 492.93 196.35 493.84 186.66 C494.75 176.98 495.9 177.33 497.21 173.93 C498.51 170.53 500.51 168.1 501.67 166.28 C502.84 164.47 503.78 163.56 504.2 163.01" fill="none" stroke="#d2d2d2" stroke-width="0.7" stroke-linejoin="round" stroke-linecap="round" />
<path d="M441.05 133.59 L443.58 135.37 L446.1 135.78 L448.63 109.66 L451.15 108.39 L453.68 105.01 L455.36 97.93 L457.05 104.28 L458.73 108.93 L460.42 102.84 L462.1 109.86 L463.78 117.11 L465.47 125.11 L467.15 126.14 L468.84 130.67 L470.52 131.9 L472.2 124.51 L473.89 120.09 L475.57 105.47 L477.26 90.02 L478.94 79.41 L480.85 106.64 L482.76 108.7 L484.67 115.89 L486.58 109.43 L488.49 132.09" fill="none" stroke="#d2d2d2" stroke-width="0.6" stroke-linejoin="round" stroke-linecap="round" />
<path d="M505.94 219.11 C506.22 214 506.16 195.69 507.62 188.48 C509.09 181.28 511.79 180.01 514.73 175.86 C517.66 171.72 521.74 168.08 525.25 163.61 C528.76 159.15 533.25 153.99 535.77 149.06 C538.3 144.13 539.63 136.53 540.4 134.02" fill="none" stroke="#d2d2d2" stroke-width="0.7" stroke-linejoin="round" stroke-linecap="round" />
<path d="M540.4 134.57 L540.68 113.37 L540.96 97.54 L541.24 71.87 L541.81 72.4 L542.37 77.28 L542.93 69.93 L543.63 77.51 L544.33 70.34 L545.03 61.9 L546.44 60.94 L547.84 53.8 L549.24 37.49" fill="none" stroke="#d2d2d2" stroke-width="0.7" stroke-linejoin="round" stroke-linecap="round" />
<path d="M567.35 37.49 C564.27 37.49 553.06 37.42 548.86 37.49 C544.66 37.56 544.39 37.71 542.16 37.91 C539.93 38.11 537.69 38.37 535.46 38.71 C533.23 39.05 532.14 36.65 528.76 39.95 C525.39 43.26 518.08 53.03 515.21 58.55 C512.34 64.08 512.64 66.91 511.54 73.11 C510.44 79.3 509.4 87.69 508.6 95.7 C507.81 103.72 507.22 112.08 506.77 121.17 C506.32 130.27 506.1 139.76 505.88 150.28 C505.67 160.8 505.53 178.64 505.46 184.31" fill="none" stroke="#d2d2d2" stroke-width="0.7" stroke-linejoin="round" stroke-linecap="round" />
<path d="M505.46 155.74 C505.25 151.19 504.72 137.24 504.2 128.45 C503.68 119.66 503.1 110.86 502.37 102.98 C501.63 95.1 500.71 87.52 499.8 81.15 C498.88 74.78 498.65 69.2 496.86 64.78 C495.07 60.36 491 57.84 489.07 54.63 C487.14 51.43 485.92 47.05 485.29 45.54" fill="none" stroke="#d2d2d2" stroke-width="0.7" stroke-linejoin="round" stroke-linecap="round" />
<path d="M485.29 45.54 L485.29 153.32" fill="none" stroke="#d2d2d2" stroke-width="0.7" stroke-linejoin="round" stroke-linecap="round" />
<path d="M441.05 148.29 C443.16 149.65 449.47 153.72 453.68 156.44 C457.89 159.15 460.81 160.96 466.31 164.6 C471.81 168.24 482.58 173.71 486.67 178.29 C490.77 182.86 489.83 185.06 490.88 192.04 C491.93 199.01 492.29 221.01 492.99 220.12 C493.69 219.22 494.18 194.36 495.09 186.66 C496 178.97 497.36 177.7 498.46 173.93 C499.56 170.16 500.72 165.88 501.67 164.06 C502.63 162.24 503.78 163.19 504.2 163.01" fill="none" stroke="#d2d2d2" stroke-width="0.7" stroke-linejoin="round" stroke-linecap="round" />
<path d="M508.48 219.43 C508.77 214.27 509.13 196.24 510.17 188.48 C511.21 180.73 512.21 177.66 514.73 172.9 C517.24 168.14 521.74 164.5 525.25 159.91 C528.76 155.32 533.43 150.17 535.77 145.36 C538.12 140.55 538.72 133.45 539.31 131.06" fill="none" stroke="#d2d2d2" stroke-width="0.7" stroke-linejoin="round" stroke-linecap="round" />
<path d="M539.31 132.92 L539.59 122.52 L539.87 118.7 L540.16 107.47 L540.72 88.14 L541.28 73.11 L541.84 59.78 L542.54 54.35 L543.24 50.42 L543.94 44.79 L545.35 43.06 L546.75 39.39 L548.15 37.49" fill="none" stroke="#d2d2d2" stroke-width="0.7" stroke-linejoin="round" stroke-linecap="round" />
<path d="M567.35 37.49 C563.51 37.49 549.16 37.42 544.32 37.49 C539.47 37.57 540.3 37.71 538.3 37.94 C536.29 38.17 534.29 38.46 532.28 38.85 C530.28 39.24 528.73 37.31 526.26 40.29 C523.8 43.28 519.69 51.59 517.48 56.75 C515.28 61.92 514.38 64.82 513.06 71.31 C511.73 77.8 510.47 87.39 509.51 95.7 C508.55 104.02 507.9 112.08 507.3 121.17 C506.69 130.27 506.19 137.73 505.88 150.28 C505.58 162.83 505.53 188.79 505.46 196.49" fill="none" stroke="#d2d2d2" stroke-width="0.7" stroke-linejoin="round" stroke-linecap="round" />
<path d="M505.46 155.74 C505.25 151.19 504.78 137.24 504.2 128.45 C503.62 119.66 502.87 110.86 501.99 102.98 C501.1 95.1 499.99 87.52 498.89 81.15 C497.78 74.78 495.87 68.9 495.34 64.78 C494.82 60.66 496.02 59.34 495.73 56.43 C495.44 53.52 493.97 48.85 493.61 47.34" fill="none" stroke="#d2d2d2" stroke-width="0.7" stroke-linejoin="round" stroke-linecap="round" />
<path d="M493.61 47.34 L493.61 172.17" fill="none" stroke="#d2d2d2" stroke-width="0.7" stroke-linejoin="round" stroke-linecap="round" />
<path d="M441.05 149.9 C443.16 151.32 449.47 155.63 453.68 158.45 C457.89 161.26 460.8 163.2 466.31 166.81 C471.82 170.42 482.63 175.76 486.73 180.1 C490.84 184.43 489.89 184.38 490.94 192.84 C491.99 201.3 492.34 231.86 493.05 230.83 C493.75 229.8 494.24 196.15 495.15 186.66 C496.06 177.18 497.43 178 498.52 173.93 C499.61 169.86 500.73 164.09 501.67 162.27 C502.62 160.45 503.78 162.89 504.2 163.01" fill="none" stroke="#d2d2d2" stroke-width="0.7" stroke-linejoin="round" stroke-linecap="round" />
<path d="M441.05 122.7 L443.58 130.28 L446.1 132.63 L448.63 128.72 L451.15 124.79 L453.68 127.16 L455.36 115.32 L457.05 105.89 L458.73 110.89 L460.42 101.17 L462.1 104.75 L463.78 96.86 L465.47 90.36 L467.15 99.54 L468.84 113.86 L470.52 105.29 L472.2 103.99 L473.89 110.66 L475.57 120.72 L477.26 124.23 L478.94 126.27 L481.87 134.15 L484.81 131.6 L487.74 129.3 L490.68 133.73 L493.61 132.09" fill="none" stroke="#d2d2d2" stroke-width="0.6" stroke-linejoin="round" stroke-linecap="round" />
<path d="M505.78 202.3 C506.06 199.99 505.97 193.78 507.46 188.48 C508.96 183.18 511.76 175.77 514.73 170.51 C517.69 165.25 521.74 161.61 525.25 156.92 C528.76 152.23 532.91 147.07 535.77 142.36 C538.64 137.65 541.32 130.95 542.42 128.67" fill="none" stroke="#d2d2d2" stroke-width="0.7" stroke-linejoin="round" stroke-linecap="round" />
<path d="M542.42 138.71 L542.71 130.27 L542.99 124.77 L543.27 110.64 L543.83 103.42 L544.39 95.97 L544.95 80.91 L545.65 77.86 L546.35 67.47 L547.06 60.21 L548.46 49.37 L549.86 54.04 L551.27 37.49" fill="none" stroke="#d2d2d2" stroke-width="0.7" stroke-linejoin="round" stroke-linecap="round" />
<path d="M567.35 37.49 C562.6 37.49 544.44 37.41 538.82 37.49 C533.2 37.57 535.36 37.72 533.63 37.97 C531.9 38.21 530.17 38.53 528.44 38.97 C526.7 39.41 524.74 37.02 523.24 40.59 C521.75 44.15 520.94 54.65 519.47 60.37 C517.99 66.09 515.9 69.03 514.38 74.92 C512.85 80.81 511.41 88 510.31 95.7 C509.2 103.41 508.5 112.08 507.76 121.17 C507.02 130.27 506.27 137.07 505.88 150.28 C505.5 163.49 505.53 192.1 505.46 200.46" fill="none" stroke="#d2d2d2" stroke-width="0.7" stroke-linejoin="round" stroke-linecap="round" />
<path d="M505.46 155.74 C505.25 151.19 504.83 137.24 504.2 128.45 C503.57 119.66 502.67 110.86 501.66 102.98 C500.64 95.1 499.37 87.52 498.09 81.15 C496.82 74.78 494.85 69.5 494.02 64.78 C493.2 60.06 493.74 56.33 493.13 52.82 C492.52 49.31 490.82 45.24 490.36 43.72" fill="none" stroke="#d2d2d2" stroke-width="0.7" stroke-linejoin="round" stroke-linecap="round" />
<path d="M490.36 43.72 L490.36 161.69" fill="none" stroke="#d2d2d2" stroke-width="0.7" stroke-linejoin="round" stroke-linecap="round" />
<path d="M441.05 143.36 C443.16 144.52 449.47 147.87 453.68 150.28 C457.89 152.69 462.25 154.08 466.31 157.83 C470.37 161.57 475.37 167.45 478.03 172.74 C480.68 178.03 481.18 178.6 482.24 189.57 C483.29 200.55 483.64 239.08 484.34 238.6 C485.04 238.11 485.53 197.44 486.45 186.66 C487.36 175.89 487.28 177.39 489.81 173.93 C492.35 170.47 499.28 167.7 501.67 165.88 C504.07 164.06 503.78 163.49 504.2 163.01" fill="none" stroke="#d2d2d2" stroke-width="0.7" stroke-linejoin="round" stroke-linecap="round" />
<path d="M508.79 192.83 C509.07 192.11 509.49 191.4 510.48 188.48 C511.47 185.56 512.26 179.58 514.73 175.32 C517.19 171.07 521.74 167.43 525.25 162.94 C528.76 158.45 530.15 153.3 535.77 148.39 C541.4 143.48 555.12 135.97 558.99 133.48" fill="none" stroke="#d2d2d2" stroke-width="0.7" stroke-linejoin="round" stroke-linecap="round" />
<path d="M558.99 124.05 L559.27 111.17 L559.55 97.99 L559.83 79.79 L560.39 72.1 L560.96 66.17 L561.52 56.22 L562.22 67.17 L562.92 59.89 L563.62 60.17 L564.86 46.17 L566.11 42.85 L567.35 37.49" fill="none" stroke="#d2d2d2" stroke-width="0.7" stroke-linejoin="round" stroke-linecap="round" />
<path d="M567.35 37.49 C564.69 37.49 555.22 37.41 551.38 37.49 C547.53 37.57 546.66 37.72 544.3 37.97 C541.94 38.21 539.58 38.53 537.22 38.97 C534.86 39.4 533.11 36.75 530.15 40.58 C527.18 44.41 522.05 55.96 519.42 61.94 C516.79 67.93 515.87 70.87 514.35 76.5 C512.82 82.12 511.39 88.26 510.29 95.7 C509.19 103.15 508.49 112.08 507.75 121.17 C507.02 130.27 506.27 144.24 505.88 150.28 C505.5 156.32 505.53 156.24 505.46 157.43" fill="none" stroke="#d2d2d2" stroke-width="0.7" stroke-linejoin="round" stroke-linecap="round" />
<path d="M505.46 155.74 C505.25 151.19 504.83 137.24 504.2 128.45 C503.57 119.66 502.68 110.86 501.66 102.98 C500.65 95.1 499.38 87.52 498.11 81.15 C496.84 74.78 495.63 69.76 494.05 64.78 C492.47 59.79 490.19 55.01 488.64 51.24 C487.09 47.47 485.4 43.66 484.75 42.15" fill="none" stroke="#d2d2d2" stroke-width="0.7" stroke-linejoin="round" stroke-linecap="round" />
<path d="M484.75 42.15 L484.75 172.96" fill="none" stroke="#d2d2d2" stroke-width="0.7" stroke-linejoin="round" stroke-linecap="round" />
<path d="M441.05 150.22 C443.16 151.66 449.47 156.01 453.68 158.85 C457.89 161.69 461.72 163.65 466.31 167.25 C470.9 170.85 478.04 176.17 481.23 180.46 C484.42 184.75 484.39 186.38 485.44 193 C486.5 199.62 486.85 221.24 487.55 220.18 C488.25 219.13 488.74 194.37 489.65 186.66 C490.57 178.95 491.02 177.13 493.02 173.93 C495.02 170.73 499.81 169.27 501.67 167.45 C503.54 165.64 503.78 163.75 504.2 163.01" fill="none" stroke="#d2d2d2" stroke-width="0.7" stroke-linejoin="round" stroke-linecap="round" />
<path d="M441.05 137.19 L443.58 145.31 L446.1 141.2 L448.63 122.16 L451.15 126.5 L453.68 125.03 L455.36 107.12 L457.05 100.84 L458.73 98.69 L460.42 94.91 L462.1 85.09 L463.78 101.53 L465.47 111.9 L467.15 123.1 L468.84 132.72 L470.52 146 L472.2 138.65 L473.89 120.62 L475.57 119 L477.26 110.57 L478.94 104.84 L480.1 114.19 L481.27 118.99 L482.43 125.79 L483.59 119.78 L484.75 132.09" fill="none" stroke="#d2d2d2" stroke-width="0.6" stroke-linejoin="round" stroke-linecap="round" />
<path d="M508.14 195.75 C508.43 194.54 508.73 191.54 509.83 188.48 C510.93 185.43 512.15 181.24 514.73 177.42 C517.3 173.6 521.74 169.97 525.25 165.56 C528.76 161.16 533.15 156.01 535.77 151.01 C538.4 146.01 540.13 138.15 541 135.58" fill="none" stroke="#d2d2d2" stroke-width="0.7" stroke-linejoin="round" stroke-linecap="round" />
<path d="M541 127.14 L541.28 112.11 L541.57 91.51 L541.85 71.18 L542.41 68.48 L542.97 62 L543.53 64.15 L544.23 58.76 L544.93 52.99 L545.64 46.65 L547.04 44.7 L548.44 30.56 L549.85 37.49" fill="none" stroke="#d2d2d2" stroke-width="0.7" stroke-linejoin="round" stroke-linecap="round" />
<path d="M567.35 37.49 C565.4 37.49 558.91 37.41 555.67 37.49 C552.44 37.57 550.53 37.72 547.95 37.97 C545.38 38.21 542.81 38.53 540.23 38.96 C537.66 39.4 535.99 37.41 532.51 40.57 C529.03 43.73 522.4 52.62 519.36 57.94 C516.33 63.26 515.82 66.2 514.31 72.49 C512.79 78.79 511.36 87.59 510.26 95.7 C509.17 103.82 508.47 112.08 507.74 121.17 C507.01 130.27 506.26 140.1 505.88 150.28 C505.5 160.46 505.53 176.92 505.46 182.24" fill="none" stroke="#d2d2d2" stroke-width="0.7" stroke-linejoin="round" stroke-linecap="round" />
<path d="M505.46 155.74 C505.25 151.19 504.83 137.24 504.2 128.45 C503.57 119.66 502.68 110.86 501.67 102.98 C500.66 95.1 499.4 87.52 498.14 81.15 C496.87 74.78 495.27 69.1 494.09 64.78 C492.92 60.46 492.14 58.35 491.1 55.25 C490.05 52.14 488.37 47.67 487.82 46.15" fill="none" stroke="#d2d2d2" stroke-width="0.7" stroke-linejoin="round" stroke-linecap="round" />
<path d="M487.82 46.15 L487.82 137.98" fill="none" stroke="#d2d2d2" stroke-width="0.7" stroke-linejoin="round" stroke-linecap="round" />
<path d="M441.05 148.92 C443.16 150.3 449.47 154.46 453.68 157.21 C457.89 159.97 461.08 161.83 466.31 165.46 C471.54 169.09 481.23 174.51 485.06 178.99 C488.89 183.47 488.22 186.14 489.27 192.35 C490.32 198.55 490.67 217.18 491.38 216.23 C492.08 215.28 492.57 193.71 493.48 186.66 C494.39 179.61 495.48 177.8 496.85 173.93 C498.21 170.06 500.45 165.27 501.67 163.45 C502.9 161.63 503.78 163.09 504.2 163.01" fill="none" stroke="#d2d2d2" stroke-width="0.7" stroke-linejoin="round" stroke-linecap="round" />
<path d="M507.73 192.36 C508.01 191.72 508.25 191.86 509.42 188.48 C510.58 185.1 512.09 177.02 514.73 172.08 C517.36 167.15 521.74 163.51 525.25 158.89 C528.76 154.26 529.89 149.11 535.77 144.33 C541.66 139.56 556.44 132.59 560.57 130.24" fill="none" stroke="#d2d2d2" stroke-width="0.7" stroke-linejoin="round" stroke-linecap="round" />
<path d="M560.57 130.44 L560.85 118.47 L561.13 84.97 L561.41 67.74 L561.98 62.8 L562.54 65.76 L563.1 50.77 L563.8 57.8 L564.5 62.32 L565.2 64.27 L565.92 63.08 L566.63 46.91 L567.35 37.49" fill="none" stroke="#d2d2d2" stroke-width="0.7" stroke-linejoin="round" stroke-linecap="round" />
<path d="M567.35 37.49 C562.09 37.49 541.84 37.41 535.79 37.49 C529.74 37.57 532.63 37.72 531.05 37.96 C529.47 38.2 527.89 38.51 526.31 38.94 C524.73 39.37 522.8 37.1 521.57 40.51 C520.35 43.92 520.22 53.83 518.97 59.41 C517.71 64.98 515.52 67.91 514.04 73.96 C512.57 80.01 511.17 87.84 510.11 95.7 C509.04 103.57 508.35 112.08 507.65 121.17 C506.94 130.27 506.25 142.63 505.88 150.28 C505.52 157.93 505.53 164.29 505.46 167.1" fill="none" stroke="#d2d2d2" stroke-width="0.7" stroke-linejoin="round" stroke-linecap="round" />
<path d="M505.46 155.74 C505.25 151.19 504.82 137.24 504.2 128.45 C503.58 119.66 502.72 110.86 501.74 102.98 C500.75 95.1 499.52 87.52 498.29 81.15 C497.06 74.78 495.26 69.34 494.36 64.78 C493.45 60.22 493.59 57.13 492.87 53.78 C492.15 50.43 490.51 46.2 490.04 44.68" fill="none" stroke="#d2d2d2" stroke-width="0.7" stroke-linejoin="round" stroke-linecap="round" />
<path d="M490.04 44.68 L490.04 172.57" fill="none" stroke="#d2d2d2" stroke-width="0.7" stroke-linejoin="round" stroke-linecap="round" />
<path d="M441.05 144.03 C443.16 145.21 449.47 148.66 453.68 151.11 C457.89 153.56 461.82 155.01 466.31 158.74 C470.8 162.47 477.55 168.3 480.65 173.49 C483.74 178.69 483.8 182.12 484.86 189.91 C485.91 197.7 486.26 220.78 486.96 220.24 C487.66 219.7 488.15 194.38 489.07 186.66 C489.98 178.94 490.33 177.55 492.43 173.93 C494.54 170.3 499.71 166.74 501.67 164.92 C503.64 163.1 503.78 163.33 504.2 163.01" fill="none" stroke="#d2d2d2" stroke-width="0.7" stroke-linejoin="round" stroke-linecap="round" />
<path d="M441.05 144.23 L443.58 134.74 L446.1 128.73 L448.63 119.63 L451.15 109.38 L453.68 105.79 L455.36 100.74 L457.05 114.92 L458.73 106.82 L460.42 116.04 L462.1 128.28 L463.78 114.25 L465.47 113.15 L467.15 116.55 L468.84 108.56 L470.52 102.07 L472.2 103.73 L473.89 101.68 L475.57 98.64 L477.26 87.56 L478.94 96.51 L481.16 104.95 L483.38 105.57 L485.6 115.69 L487.82 121.08 L490.04 132.09" fill="none" stroke="#d2d2d2" stroke-width="0.6" stroke-linejoin="round" stroke-linecap="round" />
<path d="M506.12 228.09 C506.4 221.49 506.37 197.49 507.8 188.48 C509.24 179.47 511.82 178.57 514.73 174.04 C517.63 169.52 521.74 165.88 525.25 161.34 C528.76 156.79 530.65 151.64 535.77 146.78 C540.9 141.93 552.65 134.63 556.03 132.2" fill="none" stroke="#d2d2d2" stroke-width="0.7" stroke-linejoin="round" stroke-linecap="round" />
<path d="M556.03 137.74 L556.31 118.63 L556.59 113.52 L556.87 98.27 L557.43 84.84 L557.99 77.91 L558.55 67.79 L559.25 64.14 L559.96 63.18 L560.66 70.86 L562.06 57.37 L563.46 48.77 L564.87 37.49" fill="none" stroke="#d2d2d2" stroke-width="0.7" stroke-linejoin="round" stroke-linecap="round" />
<path d="M567.35 37.49 C565.49 37.49 559.35 37.42 556.2 37.49 C553.04 37.56 551 37.71 548.4 37.93 C545.8 38.14 543.2 38.42 540.6 38.79 C538 39.16 536.82 36.92 532.8 40.14 C528.78 43.36 519.87 52.67 516.46 58.09 C513.06 63.51 513.6 66.37 512.38 72.64 C511.15 78.91 509.99 87.62 509.11 95.7 C508.22 103.79 507.6 112.08 507.06 121.17 C506.52 130.27 506.15 139.42 505.88 150.28 C505.62 161.14 505.53 180.34 505.46 186.35" fill="none" stroke="#d2d2d2" stroke-width="0.7" stroke-linejoin="round" stroke-linecap="round" />
<path d="M505.46 155.74 C505.25 151.19 504.75 137.24 504.2 128.45 C503.65 119.66 502.97 110.86 502.16 102.98 C501.34 95.1 500.32 87.52 499.29 81.15 C498.27 74.78 496.68 69.12 496.02 64.78 C495.37 60.44 495.86 58.23 495.39 55.1 C494.91 51.97 493.55 47.52 493.18 46" fill="none" stroke="#d2d2d2" stroke-width="0.7" stroke-linejoin="round" stroke-linecap="round" />
<path d="M493.18 46 L493.18 143.64" fill="none" stroke="#d2d2d2" stroke-width="0.7" stroke-linejoin="round" stroke-linecap="round" />
<path d="M441.05 151.15 C443.16 152.63 449.47 157.12 453.68 160.01 C457.89 162.91 462.95 164.95 466.31 168.54 C469.67 172.12 471.9 177.35 473.86 181.51 C475.82 185.66 477.02 186.65 478.07 193.47 C479.13 200.29 479.48 223.56 480.18 222.43 C480.88 221.29 481.37 194.75 482.28 186.66 C483.2 178.58 482.42 177.77 485.65 173.93 C488.88 170.09 498.58 165.42 501.67 163.6 C504.77 161.78 503.78 163.11 504.2 163.01" fill="none" stroke="#d2d2d2" stroke-width="0.7" stroke-linejoin="round" stroke-linecap="round" />
<path d="M506.37 223.55 C506.66 217.71 506.67 197.03 508.06 188.48 C509.45 179.94 511.86 177.18 514.73 172.28 C517.59 167.39 521.74 163.76 525.25 159.14 C528.76 154.52 533.03 149.37 535.77 144.59 C538.52 139.8 540.75 132.8 541.74 130.44" fill="none" stroke="#d2d2d2" stroke-width="0.7" stroke-linejoin="round" stroke-linecap="round" />
<path d="M541.74 131.16 L542.02 113.69 L542.3 103.16 L542.59 85.81 L543.15 83.27 L543.71 69.33 L544.27 55.06 L544.97 51 L545.67 47.45 L546.37 43.88 L547.78 42.84 L549.18 42.05 L550.58 37.49" fill="none" stroke="#d2d2d2" stroke-width="0.7" stroke-linejoin="round" stroke-linecap="round" />
<path d="M567.35 37.49 C563.63 37.49 549.79 37.42 545.05 37.49 C540.32 37.56 540.97 37.71 538.93 37.9 C536.88 38.1 534.84 38.35 532.8 38.68 C530.75 39.01 529.68 36.26 526.67 39.88 C523.66 43.5 517.31 54.55 514.74 60.39 C512.17 66.23 512.28 69.06 511.23 74.94 C510.17 80.83 509.18 88 508.42 95.7 C507.65 103.41 507.08 112.08 506.66 121.17 C506.24 130.27 506.08 139.03 505.88 150.28 C505.68 161.53 505.53 182.3 505.46 188.7" fill="none" stroke="#d2d2d2" stroke-width="0.7" stroke-linejoin="round" stroke-linecap="round" />
<path d="M505.46 155.74 C505.25 151.19 504.7 137.24 504.2 128.45 C503.7 119.66 503.15 110.86 502.44 102.98 C501.74 95.1 500.86 87.52 499.98 81.15 C499.11 74.78 497.88 69.5 497.17 64.78 C496.46 60.05 496.32 56.31 495.73 52.8 C495.14 49.28 493.96 45.22 493.61 43.7" fill="none" stroke="#d2d2d2" stroke-width="0.7" stroke-linejoin="round" stroke-linecap="round" />
<path d="M493.61 43.7 L493.61 164.19" fill="none" stroke="#d2d2d2" stroke-width="0.7" stroke-linejoin="round" stroke-linecap="round" />
<path d="M441.05 147.29 C443.16 148.61 449.47 152.53 453.68 155.19 C457.89 157.84 462.34 159.57 466.31 163.23 C470.28 166.89 474.93 172.45 477.49 177.16 C480.06 181.88 480.65 185.41 481.7 191.54 C482.75 197.66 483.1 214.73 483.81 213.92 C484.51 213.11 485 193.33 485.91 186.66 C486.82 180 486.65 177.39 489.28 173.93 C491.91 170.47 499.19 167.72 501.67 165.9 C504.16 164.08 503.78 163.5 504.2 163.01" fill="none" stroke="#d2d2d2" stroke-width="0.7" stroke-linejoin="round" stroke-linecap="round" />
<path d="M441.05 143.68 L443.58 140.14 L446.1 143.98 L448.63 126.15 L451.15 125.93 L453.68 136.03 L455.36 108.36 L457.05 110.73 L458.73 109.83 L460.42 105.39 L462.1 102.3 L463.78 95.83 L465.47 95.61 L467.15 90.8 L468.84 91.15 L470.52 74.59 L472.2 85.98 L473.89 96.75 L475.57 97.96 L477.26 104.26 L478.94 118.98 L481.87 115.84 L484.81 125.51 L487.74 129.32 L490.68 130.37 L493.61 132.09" fill="none" stroke="#d2d2d2" stroke-width="0.6" stroke-linejoin="round" stroke-linecap="round" />
<path d="M505.36 227.36 C505.64 220.88 505.48 197.15 507.04 188.48 C508.6 179.81 511.69 179.6 514.73 175.35 C517.76 171.1 521.74 167.46 525.25 162.97 C528.76 158.48 530.75 153.33 535.77 148.42 C540.8 143.51 552.15 136 555.42 133.51" fill="none" stroke="#d2d2d2" stroke-width="0.7" stroke-linejoin="round" stroke-linecap="round" />
<path d="M555.42 134.12 L555.71 108.9 L555.99 80.91 L556.27 63.66 L556.83 74.42 L557.39 79.31 L557.95 89.86 L558.65 80.49 L559.35 61.21 L560.06 54.52 L561.46 54.59 L562.86 40.1 L564.27 37.49" fill="none" stroke="#d2d2d2" stroke-width="0.7" stroke-linejoin="round" stroke-linecap="round" />
<path d="M567.35 37.49 C562.31 37.49 542.97 37.42 537.1 37.49 C531.24 37.56 533.81 37.7 532.17 37.89 C530.52 38.08 528.88 38.32 527.23 38.62 C525.59 38.93 524.54 36.63 522.3 39.74 C520.06 42.85 515.74 51.95 513.79 57.3 C511.84 62.65 511.55 65.45 510.6 71.85 C509.64 78.25 508.73 87.48 508.04 95.7 C507.34 103.93 506.8 112.08 506.44 121.17 C506.08 130.27 506.05 140.39 505.88 150.28 C505.72 160.17 505.53 175.49 505.46 180.53" fill="none" stroke="#d2d2d2" stroke-width="0.7" stroke-linejoin="round" stroke-linecap="round" />
<path d="M505.46 155.74 C505.25 151.19 504.68 137.24 504.2 128.45 C503.72 119.66 503.24 110.86 502.6 102.98 C501.96 95.1 501.16 87.52 500.36 81.15 C499.56 74.78 499.4 68.99 497.8 64.78 C496.2 60.57 492.5 58.89 490.76 55.89 C489.03 52.89 487.97 48.31 487.41 46.79" fill="none" stroke="#d2d2d2" stroke-width="0.7" stroke-linejoin="round" stroke-linecap="round" />
<path d="M487.41 46.79 L487.41 172.8" fill="none" stroke="#d2d2d2" stroke-width="0.7" stroke-linejoin="round" stroke-linecap="round" />
<path d="M441.05 142.93 C443.16 144.06 449.47 147.35 453.68 149.73 C457.89 152.11 461.17 153.47 466.31 157.22 C471.45 160.98 480.76 166.9 484.49 172.25 C488.22 177.61 487.65 179.58 488.7 189.35 C489.75 199.12 490.1 231.32 490.81 230.87 C491.51 230.42 492 196.15 492.91 186.66 C493.82 177.17 494.82 177.9 496.28 173.93 C497.74 169.95 500.35 164.63 501.67 162.81 C502.99 160.99 503.78 162.98 504.2 163.01" fill="none" stroke="#d2d2d2" stroke-width="0.7" stroke-linejoin="round" stroke-linecap="round" />
<path d="M507.8 199.13 C508.08 197.35 508.33 193.13 509.48 188.48 C510.64 183.83 512.1 176.34 514.73 171.23 C517.35 166.12 521.74 162.48 525.25 157.82 C528.76 153.16 531.34 148.01 535.77 143.27 C540.21 138.53 549.19 131.7 551.87 129.39" fill="none" stroke="#d2d2d2" stroke-width="0.7" stroke-linejoin="round" stroke-linecap="round" />
<path d="M551.87 133.81 L552.15 108.48 L552.43 91.85 L552.71 56.25 L553.28 56.92 L553.84 63.01 L554.4 64.38 L555.1 59.97 L555.8 61.19 L556.5 68.87 L557.91 58.63 L559.31 42.34 L560.71 37.49" fill="none" stroke="#d2d2d2" stroke-width="0.7" stroke-linejoin="round" stroke-linecap="round" />
<path d="M567.35 37.49 C564.74 37.49 555.5 37.42 551.71 37.49 C547.92 37.56 546.96 37.71 544.58 37.93 C542.21 38.15 539.83 38.43 537.46 38.8 C535.08 39.17 533.8 36.3 530.33 40.17 C526.86 44.03 519.63 55.92 516.65 61.99 C513.68 68.05 513.75 70.92 512.5 76.54 C511.26 82.16 510.08 88.27 509.18 95.7 C508.28 103.14 507.66 112.08 507.11 121.17 C506.56 130.27 506.16 138.3 505.88 150.28 C505.61 162.26 505.53 185.94 505.46 193.07" fill="none" stroke="#d2d2d2" stroke-width="0.7" stroke-linejoin="round" stroke-linecap="round" />
<path d="M505.46 155.74 C505.25 151.19 504.76 137.24 504.2 128.45 C503.64 119.66 502.95 110.86 502.12 102.98 C501.29 95.1 500.26 87.52 499.22 81.15 C498.18 74.78 497.47 69.77 495.9 64.78 C494.32 59.79 491.38 54.98 489.75 51.2 C488.13 47.42 486.75 43.62 486.14 42.1" fill="none" stroke="#d2d2d2" stroke-width="0.7" stroke-linejoin="round" stroke-linecap="round" />
<path d="M486.14 42.1 L486.14 161.54" fill="none" stroke="#d2d2d2" stroke-width="0.7" stroke-linejoin="round" stroke-linecap="round" />
<path d="M441.05 147.62 C443.16 148.95 449.47 152.92 453.68 155.6 C457.89 158.27 462.53 160.02 466.31 163.68 C470.09 167.34 473.97 172.86 476.34 177.53 C478.72 182.2 479.5 186.16 480.55 191.7 C481.6 197.24 481.96 211.63 482.66 210.79 C483.36 209.95 483.85 192.81 484.76 186.66 C485.67 180.52 485.31 177.12 488.13 173.93 C490.95 170.73 499 169.32 501.67 167.5 C504.35 165.68 503.78 163.76 504.2 163.01" fill="none" stroke="#d2d2d2" stroke-width="0.7" stroke-linejoin="round" stroke-linecap="round" />
<path d="M441.05 145.41 L443.58 135.9 L446.1 133.1 L448.63 122.41 L451.15 114.75 L453.68 105.6 L455.36 112.06 L457.05 113.17 L458.73 103.8 L460.42 109.29 L462.1 100.7 L463.78 107.82 L465.47 114.19 L467.15 120.99 L468.84 114.49 L470.52 119.01 L472.2 115.58 L473.89 102.32 L475.57 105.11 L477.26 96.87 L478.94 97.32 L480.38 97.14 L481.82 100.23 L483.26 117.63 L484.7 126.07 L486.14 132.09" fill="none" stroke="#d2d2d2" stroke-width="0.6" stroke-linejoin="round" stroke-linecap="round" />
<path d="M508.86 225.33 C509.14 219.19 509.56 196.46 510.54 188.48 C511.52 180.51 512.27 181.29 514.73 177.48 C517.18 173.67 521.74 170.04 525.25 165.64 C528.76 161.24 531.74 156.08 535.77 151.08 C539.81 146.08 547.18 138.21 549.46 135.64" fill="none" stroke="#d2d2d2" stroke-width="0.7" stroke-linejoin="round" stroke-linecap="round" />
<path d="M549.46 129.89 L549.74 111.61 L550.02 82.92 L550.3 57.55 L550.86 62.07 L551.43 54.07 L551.99 57.82 L552.69 63.55 L553.39 70.14 L554.09 69.21 L555.5 60.3 L556.9 45.66 L558.3 37.49" fill="none" stroke="#d2d2d2" stroke-width="0.7" stroke-linejoin="round" stroke-linecap="round" />
<path d="M567.35 37.49 C564.13 37.49 552.35 37.42 548.04 37.49 C543.72 37.56 543.65 37.71 541.46 37.92 C539.27 38.13 537.08 38.4 534.89 38.76 C532.69 39.12 531.45 37.11 528.31 40.08 C525.17 43.05 518.75 51.41 516.05 56.59 C513.35 61.76 513.29 64.62 512.1 71.14 C510.92 77.66 509.8 87.37 508.94 95.7 C508.08 104.04 507.47 112.08 506.97 121.17 C506.46 130.27 506.13 143.6 505.88 150.28 C505.63 156.96 505.53 159.4 505.46 161.23" fill="none" stroke="#d2d2d2" stroke-width="0.7" stroke-linejoin="round" stroke-linecap="round" />
<path d="M505.46 155.74 C505.25 151.19 504.74 137.24 504.2 128.45 C503.66 119.66 503.01 110.86 502.22 102.98 C501.43 95.1 500.45 87.52 499.46 81.15 C498.47 74.78 497.34 68.87 496.3 64.78 C495.26 60.69 494.19 59.48 493.22 56.6 C492.24 53.72 490.93 49.02 490.47 47.5" fill="none" stroke="#d2d2d2" stroke-width="0.7" stroke-linejoin="round" stroke-linecap="round" />
<path d="M490.47 47.5 L490.47 137.69" fill="none" stroke="#d2d2d2" stroke-width="0.7" stroke-linejoin="round" stroke-linecap="round" />
<path d="M441.05 149.24 C443.16 150.64 449.47 154.85 453.68 157.62 C457.89 160.4 460.85 162.28 466.31 165.91 C471.77 169.53 482.37 174.92 486.42 179.36 C490.47 183.79 489.58 185.57 490.63 192.51 C491.68 199.45 492.03 221.97 492.74 220.99 C493.44 220.02 493.93 194.51 494.84 186.66 C495.75 178.82 497.07 178.02 498.21 173.93 C499.35 169.84 500.68 163.92 501.67 162.1 C502.67 160.28 503.78 162.86 504.2 163.01" fill="none" stroke="#d2d2d2" stroke-width="0.7" stroke-linejoin="round" stroke-linecap="round" />
<path d="M508.06 220.74 C508.34 215.37 508.64 196.89 509.75 188.48 C510.86 180.07 512.14 175.59 514.73 170.28 C517.31 164.98 521.74 161.34 525.25 156.64 C528.76 151.94 531.83 146.78 535.77 142.09 C539.72 137.39 546.73 130.72 548.92 128.44" fill="none" stroke="#d2d2d2" stroke-width="0.7" stroke-linejoin="round" stroke-linecap="round" />
<path d="M548.92 140.7 L549.2 108.72 L549.48 84.38 L549.76 60.05 L550.32 54.44 L550.88 51 L551.44 51.82 L552.14 47.54 L552.84 45.78 L553.55 42.96 L554.95 45.25 L556.35 41.52 L557.76 37.49" fill="none" stroke="#d2d2d2" stroke-width="0.7" stroke-linejoin="round" stroke-linecap="round" />
<path d="M567.35 37.49 C565.34 37.49 558.57 37.41 555.29 37.49 C552 37.57 550.18 37.72 547.62 37.97 C545.07 38.21 542.52 38.53 539.96 38.97 C537.41 39.4 535.72 37.05 532.3 40.58 C528.87 44.11 522.41 54.44 519.42 60.13 C516.43 65.81 515.87 68.75 514.35 74.68 C512.82 80.61 511.39 87.96 510.29 95.7 C509.19 103.45 508.49 112.08 507.75 121.17 C507.02 130.27 506.27 139.58 505.88 150.28 C505.5 160.98 505.53 179.52 505.46 185.37" fill="none" stroke="#d2d2d2" stroke-width="0.7" stroke-linejoin="round" stroke-linecap="round" />
<path d="M505.46 155.74 C505.25 151.19 504.83 137.24 504.2 128.45 C503.57 119.66 502.68 110.86 501.66 102.98 C500.65 95.1 499.38 87.52 498.11 81.15 C496.84 74.78 494.66 69.46 494.05 64.78 C493.45 60.1 494.83 56.53 494.5 53.06 C494.17 49.59 492.47 45.48 492.07 43.96" fill="none" stroke="#d2d2d2" stroke-width="0.7" stroke-linejoin="round" stroke-linecap="round" />
<path d="M492.07 43.96 L492.07 170.16" fill="none" stroke="#d2d2d2" stroke-width="0.7" stroke-linejoin="round" stroke-linecap="round" />
<path d="M441.05 150.69 C443.16 152.14 449.47 156.56 453.68 159.43 C457.89 162.3 462.27 164.3 466.31 167.89 C470.35 171.49 475.3 176.76 477.94 180.98 C480.59 185.21 481.1 187.2 482.15 193.23 C483.21 199.27 483.56 218.31 484.26 217.21 C484.96 216.12 485.45 193.88 486.36 186.66 C487.28 179.45 487.18 177.43 489.73 173.93 C492.28 170.43 499.26 167.46 501.67 165.64 C504.09 163.82 503.78 163.45 504.2 163.01" fill="none" stroke="#d2d2d2" stroke-width="0.7" stroke-linejoin="round" stroke-linecap="round" />
<path d="M441.05 139.52 L443.58 138.23 L446.1 128.82 L448.63 118.49 L451.15 126.21 L453.68 115.93 L455.36 114.41 L457.05 130.18 L458.73 132.1 L460.42 128.14 L462.1 149.61 L463.78 133.8 L465.47 127.16 L467.15 114.27 L468.84 103.11 L470.52 86.69 L472.2 108.23 L473.89 112.47 L475.57 119.83 L477.26 131.97 L478.94 139.55 L481.57 141.12 L484.19 134.47 L486.82 134.73 L489.44 122.81 L492.07 132.09" fill="none" stroke="#d2d2d2" stroke-width="0.6" stroke-linejoin="round" stroke-linecap="round" />
<path d="M508.41 222.21 C508.69 216.59 509.04 196.35 510.09 188.48 C511.15 180.61 512.2 179.33 514.73 175 C517.25 170.68 521.74 167.04 525.25 162.54 C528.76 158.03 531.48 152.88 535.77 147.98 C540.07 143.09 548.48 135.63 551.02 133.16" fill="none" stroke="#d2d2d2" stroke-width="0.7" stroke-linejoin="round" stroke-linecap="round" />
<path d="M551.02 130.4 L551.3 123.44 L551.58 114.73 L551.86 96.57 L552.43 84.09 L552.99 77.45 L553.55 56.36 L554.25 64.56 L554.95 72.29 L555.65 69.69 L557.06 63.76 L558.46 45.33 L559.86 37.49" fill="none" stroke="#d2d2d2" stroke-width="0.7" stroke-linejoin="round" stroke-linecap="round" />
<path d="M567.35 37.49 C564.64 37.49 554.97 37.41 551.08 37.49 C547.2 37.57 546.4 37.72 544.05 37.96 C541.71 38.2 539.36 38.52 537.02 38.94 C534.67 39.37 532.99 37.39 529.99 40.51 C526.98 43.64 521.63 52.42 518.98 57.71 C516.32 63 515.53 65.93 514.05 72.26 C512.57 78.59 511.18 87.55 510.11 95.7 C509.04 103.86 508.35 112.08 507.65 121.17 C506.94 130.27 506.25 144.11 505.88 150.28 C505.52 156.45 505.53 156.88 505.46 158.2" fill="none" stroke="#d2d2d2" stroke-width="0.7" stroke-linejoin="round" stroke-linecap="round" />
<path d="M505.46 155.74 C505.25 151.19 504.82 137.24 504.2 128.45 C503.58 119.66 502.72 110.86 501.74 102.98 C500.75 95.1 499.52 87.52 498.29 81.15 C497.06 74.78 495.33 69.06 494.35 64.78 C493.36 60.5 493.19 58.55 492.37 55.48 C491.55 52.41 489.91 47.9 489.41 46.38" fill="none" stroke="#d2d2d2" stroke-width="0.7" stroke-linejoin="round" stroke-linecap="round" />
<path d="M489.41 46.38 L489.41 151.53" fill="none" stroke="#d2d2d2" stroke-width="0.7" stroke-linejoin="round" stroke-linecap="round" />
<path d="M441.05 143.92 C443.16 145.1 449.47 148.53 453.68 150.97 C457.89 153.42 460.84 154.86 466.31 158.59 C471.78 162.33 482.44 168.16 486.5 173.37 C490.57 178.58 489.66 179.17 490.71 189.85 C491.77 200.54 492.12 238.01 492.82 237.48 C493.52 236.95 494.01 197.26 494.92 186.66 C495.84 176.07 497.17 177.84 498.29 173.93 C499.42 170.02 500.69 165.04 501.67 163.22 C502.66 161.4 503.78 163.05 504.2 163.01" fill="none" stroke="#d2d2d2" stroke-width="0.7" stroke-linejoin="round" stroke-linecap="round" />
<path d="M507.24 197.81 C507.52 196.26 507.68 192.82 508.93 188.48 C510.17 184.14 512 176.77 514.73 171.78 C517.45 166.78 521.74 163.14 525.25 158.5 C528.76 153.87 533.11 148.71 535.77 143.95 C538.44 139.19 540.31 132.27 541.21 129.94" fill="none" stroke="#d2d2d2" stroke-width="0.7" stroke-linejoin="round" stroke-linecap="round" />
<path d="M541.21 133.55 L541.5 120.92 L541.78 100.9 L542.06 78.56 L542.62 91.91 L543.18 89.04 L543.74 70.52 L544.44 72.84 L545.14 69.21 L545.85 65.95 L547.25 56.56 L548.65 44.6 L550.06 37.49" fill="none" stroke="#d2d2d2" stroke-width="0.7" stroke-linejoin="round" stroke-linecap="round" />
<path d="M567.35 37.49 C565.81 37.49 561.02 37.41 558.13 37.49 C555.25 37.57 552.74 37.72 550.04 37.96 C547.35 38.2 544.65 38.52 541.95 38.94 C539.26 39.37 537.68 36.88 533.86 40.52 C530.05 44.17 522.34 55 519.05 60.8 C515.75 66.61 515.58 69.54 514.1 75.35 C512.61 81.17 511.21 88.07 510.14 95.7 C509.07 103.34 508.37 112.08 507.66 121.17 C506.95 130.27 506.25 140.91 505.88 150.28 C505.52 159.65 505.53 172.86 505.46 177.38" fill="none" stroke="#d2d2d2" stroke-width="0.7" stroke-linejoin="round" stroke-linecap="round" />
<path d="M505.46 155.74 C505.25 151.19 504.82 137.24 504.2 128.45 C503.58 119.66 502.72 110.86 501.73 102.98 C500.74 95.1 499.5 87.52 498.26 81.15 C497.02 74.78 494.79 69.57 494.3 64.78 C493.82 59.98 495.54 55.97 495.35 52.39 C495.15 48.8 493.5 44.81 493.13 43.29" fill="none" stroke="#d2d2d2" stroke-width="0.7" stroke-linejoin="round" stroke-linecap="round" />
<path d="M493.13 43.29 L493.13 147.87" fill="none" stroke="#d2d2d2" stroke-width="0.7" stroke-linejoin="round" stroke-linecap="round" />
<path d="M441.05 147.41 C443.16 148.73 449.47 152.67 453.68 155.33 C457.89 157.99 462.94 159.73 466.31 163.39 C469.68 167.05 471.94 172.59 473.9 177.29 C475.87 181.99 477.06 184.84 478.11 191.59 C479.17 198.35 479.52 218.66 480.22 217.84 C480.92 217.02 481.41 193.98 482.32 186.66 C483.24 179.34 482.47 177.32 485.69 173.93 C488.92 170.54 498.59 168.13 501.67 166.31 C504.76 164.49 503.78 163.56 504.2 163.01" fill="none" stroke="#d2d2d2" stroke-width="0.7" stroke-linejoin="round" stroke-linecap="round" />
<path d="M441.05 137.21 L443.58 136.06 L446.1 133.78 L448.63 116.23 L451.15 109.61 L453.68 107.7 L455.36 104.89 L457.05 120.03 L458.73 125.9 L460.42 137.09 L462.1 138.08 L463.78 125.82 L465.47 116.91 L467.15 107.27 L468.84 92.84 L470.52 84.87 L472.2 94 L473.89 101.62 L475.57 109.66 L477.26 102.66 L478.94 109.93 L481.78 103.62 L484.62 129.55 L487.46 120.44 L490.29 127.91 L493.13 132.09" fill="none" stroke="#d2d2d2" stroke-width="0.6" stroke-linejoin="round" stroke-linecap="round" />
<path d="M506.73 199.36 C507.01 197.55 507.08 192.39 508.41 188.48 C509.75 184.57 511.92 180.04 514.73 175.9 C517.53 171.76 521.74 168.13 525.25 163.66 C528.76 159.19 530.18 154.04 535.77 149.11 C541.37 144.17 554.97 136.57 558.81 134.06" fill="none" stroke="#d2d2d2" stroke-width="0.7" stroke-linejoin="round" stroke-linecap="round" />
<path d="M558.81 134.18 L559.09 110.46 L559.37 101.56 L559.65 83.41 L560.21 71.92 L560.77 76.09 L561.34 75.41 L562.04 57.12 L562.74 61.78 L563.44 53.34 L564.74 49.4 L566.05 44.26 L567.35 37.49" fill="none" stroke="#d2d2d2" stroke-width="0.7" stroke-linejoin="round" stroke-linecap="round" />
<path d="M567.35 37.49 C565.62 37.49 560.04 37.41 557 37.49 C553.95 37.57 551.72 37.72 549.08 37.97 C546.44 38.22 543.8 38.54 541.16 38.99 C538.52 39.43 536.81 37.19 533.24 40.62 C529.66 44.05 522.83 53.98 519.72 59.57 C516.6 65.15 516.09 68.1 514.54 74.12 C512.99 80.14 511.53 87.86 510.41 95.7 C509.29 103.55 508.57 112.08 507.82 121.17 C507.07 130.27 506.28 138.98 505.88 150.28 C505.49 161.58 505.53 182.52 505.46 188.97" fill="none" stroke="#d2d2d2" stroke-width="0.7" stroke-linejoin="round" stroke-linecap="round" />
<path d="M505.46 155.74 C505.25 151.19 504.84 137.24 504.2 128.45 C503.56 119.66 502.65 110.86 501.61 102.98 C500.58 95.1 499.29 87.52 497.99 81.15 C496.7 74.78 494.77 69.37 493.86 64.78 C492.95 60.19 493.25 57 492.54 53.62 C491.84 50.24 490.12 46.04 489.63 44.52" fill="none" stroke="#d2d2d2" stroke-width="0.7" stroke-linejoin="round" stroke-linecap="round" />
<path d="M489.63 44.52 L489.63 152.41" fill="none" stroke="#d2d2d2" stroke-width="0.7" stroke-linejoin="round" stroke-linecap="round" />
<path d="M441.05 151.27 C443.16 152.76 449.47 157.26 453.68 160.16 C457.89 163.07 463.15 165.12 466.31 168.7 C469.47 172.28 470.9 177.51 472.66 181.64 C474.42 185.78 475.82 186.75 476.87 193.53 C477.92 200.3 478.27 223.45 478.97 222.3 C479.67 221.16 480.17 194.73 481.08 186.66 C481.99 178.6 481.01 177.53 484.45 173.93 C487.88 170.33 498.38 166.9 501.67 165.08 C504.97 163.26 503.78 163.36 504.2 163.01" fill="none" stroke="#d2d2d2" stroke-width="0.7" stroke-linejoin="round" stroke-linecap="round" />
<path d="M507.64 194.84 C507.92 193.78 508.15 191.91 509.33 188.48 C510.51 185.05 512.07 178.74 514.73 174.26 C517.38 169.78 521.74 166.14 525.25 161.6 C528.76 157.07 533.46 151.91 535.77 147.05 C538.09 142.18 538.57 134.85 539.12 132.41" fill="none" stroke="#d2d2d2" stroke-width="0.7" stroke-linejoin="round" stroke-linecap="round" />
<path d="M539.12 134.58 L539.4 126.51 L539.68 113.27 L539.97 112.82 L540.53 94.14 L541.09 71.73 L541.65 61.13 L542.35 61.96 L543.05 66.79 L543.75 76.35 L545.16 66.56 L546.56 46.63 L547.96 37.49" fill="none" stroke="#d2d2d2" stroke-width="0.7" stroke-linejoin="round" stroke-linecap="round" />
<path d="M567.35 37.49 C563.23 37.49 547.72 37.42 542.65 37.49 C537.57 37.56 538.8 37.71 536.88 37.92 C534.96 38.13 533.03 38.39 531.11 38.74 C529.19 39.09 527.91 36.83 525.35 40.03 C522.78 43.22 517.95 52.52 515.71 57.93 C513.46 63.33 513.02 66.18 511.87 72.48 C510.72 78.78 509.63 87.59 508.8 95.7 C507.97 103.82 507.37 112.08 506.88 121.17 C506.4 130.27 506.12 141.64 505.88 150.28 C505.65 158.92 505.53 169.24 505.46 173.03" fill="none" stroke="#d2d2d2" stroke-width="0.7" stroke-linejoin="round" stroke-linecap="round" />
<path d="M505.46 155.74 C505.25 151.19 504.73 137.24 504.2 128.45 C503.67 119.66 503.05 110.86 502.28 102.98 C501.52 95.1 500.56 87.52 499.6 81.15 C498.64 74.78 498.11 69.09 496.53 64.78 C494.95 60.46 491.78 58.36 490.13 55.26 C488.48 52.16 487.2 47.68 486.61 46.16" fill="none" stroke="#d2d2d2" stroke-width="0.7" stroke-linejoin="round" stroke-linecap="round" />
<path d="M486.61 46.16 L486.61 169.16" fill="none" stroke="#d2d2d2" stroke-width="0.7" stroke-linejoin="round" stroke-linecap="round" />
<path d="M441.05 147.5 C443.16 148.82 449.47 152.78 453.68 155.44 C457.89 158.11 461.45 159.85 466.31 163.51 C471.17 167.17 479.37 172.71 482.83 177.39 C486.28 182.08 485.99 181.89 487.04 191.64 C488.09 201.39 488.44 236.71 489.14 235.88 C489.84 235.05 490.34 196.99 491.25 186.66 C492.16 176.34 492.88 177.8 494.62 173.93 C496.35 170.06 500.08 165.26 501.67 163.44 C503.27 161.62 503.78 163.08 504.2 163.01" fill="none" stroke="#d2d2d2" stroke-width="0.7" stroke-linejoin="round" stroke-linecap="round" />
<path d="M441.05 135.08 L443.58 126.98 L446.1 141.4 L448.63 125.83 L451.15 132.75 L453.68 122 L455.36 130.83 L457.05 139.41 L458.73 117.15 L460.42 129.22 L462.1 135.43 L463.78 128.11 L465.47 120.88 L467.15 130.63 L468.84 115.92 L470.52 102.94 L472.2 116.56 L473.89 104.8 L475.57 120.29 L477.26 112.77 L478.94 117.51 L480.47 126.15 L482.01 123.49 L483.54 119.01 L485.08 120.55 L486.61 132.09" fill="none" stroke="#d2d2d2" stroke-width="0.6" stroke-linejoin="round" stroke-linecap="round" />
<path d="M506.62 213.46 C506.9 209.3 506.96 195.38 508.31 188.48 C509.66 181.58 511.9 177 514.73 172.07 C517.55 167.13 521.74 163.49 525.25 158.87 C528.76 154.24 532.92 149.09 535.77 144.32 C538.63 139.54 541.26 132.58 542.36 130.23" fill="none" stroke="#d2d2d2" stroke-width="0.7" stroke-linejoin="round" stroke-linecap="round" />
<path d="M542.36 136.82 L542.64 119.57 L542.92 97.87 L543.2 89.09 L543.77 87.45 L544.33 87.87 L544.89 76.06 L545.59 78.04 L546.29 77 L546.99 70.49 L548.4 61.06 L549.8 37.68 L551.2 37.49" fill="none" stroke="#d2d2d2" stroke-width="0.7" stroke-linejoin="round" stroke-linecap="round" />
<path d="M567.35 37.49 C564.31 37.49 553.28 37.41 549.12 37.49 C544.96 37.57 544.63 37.72 542.38 37.96 C540.14 38.2 537.89 38.52 535.65 38.95 C533.4 39.37 531.67 37.2 528.91 40.53 C526.14 43.85 521.52 53.39 519.05 58.87 C516.58 64.35 515.58 67.29 514.1 73.42 C512.61 79.56 511.21 87.75 510.14 95.7 C509.07 103.66 508.37 112.08 507.66 121.17 C506.96 130.27 506.25 143.43 505.88 150.28 C505.52 157.13 505.53 160.26 505.46 162.25" fill="none" stroke="#d2d2d2" stroke-width="0.7" stroke-linejoin="round" stroke-linecap="round" />
<path d="M505.46 155.74 C505.25 151.19 504.82 137.24 504.2 128.45 C503.58 119.66 502.72 110.86 501.73 102.98 C500.74 95.1 499.5 87.52 498.26 81.15 C497.02 74.78 495.13 69.25 494.3 64.78 C493.48 60.31 493.93 57.57 493.32 54.31 C492.7 51.05 491.05 46.73 490.6 45.22" fill="none" stroke="#d2d2d2" stroke-width="0.7" stroke-linejoin="round" stroke-linecap="round" />
<path d="M490.6 45.22 L490.6 163.35" fill="none" stroke="#d2d2d2" stroke-width="0.7" stroke-linejoin="round" stroke-linecap="round" />
<path d="M441.05 152.35 C443.16 153.88 449.47 158.54 453.68 161.51 C457.89 164.48 461.42 166.62 466.31 170.18 C471.2 173.74 479.51 178.87 482.99 182.85 C486.48 186.83 486.15 190.23 487.2 194.07 C488.26 197.9 488.61 207.09 489.31 205.85 C490.01 204.62 490.5 191.98 491.41 186.66 C492.33 181.34 493.07 177.64 494.78 173.93 C496.49 170.22 500.1 166.2 501.67 164.38 C503.24 162.56 503.78 163.24 504.2 163.01" fill="none" stroke="#d2d2d2" stroke-width="0.7" stroke-linejoin="round" stroke-linecap="round" />
<path d="M509.25 196.21 C509.53 194.92 510.02 192.3 510.93 188.48 C511.84 184.67 512.34 178 514.73 173.33 C517.11 168.66 521.74 165.02 525.25 160.44 C528.76 155.87 531.08 150.72 535.77 145.89 C540.47 141.06 550.47 133.89 553.41 131.49" fill="none" stroke="#d2d2d2" stroke-width="0.7" stroke-linejoin="round" stroke-linecap="round" />
<path d="M553.41 123.66 L553.69 129.97 L553.97 119.23 L554.25 110.88 L554.81 99.98 L555.37 92.41 L555.93 79.91 L556.63 67.45 L557.34 58.52 L558.04 49.02 L559.44 44.32 L560.84 37.49 L562.25 37.49" fill="none" stroke="#d2d2d2" stroke-width="0.7" stroke-linejoin="round" stroke-linecap="round" />
<path d="M567.35 37.49 C565.06 37.49 557.15 37.42 553.62 37.49 C550.1 37.56 548.68 37.71 546.21 37.93 C543.74 38.14 541.27 38.41 538.8 38.78 C536.33 39.15 535.13 37.07 531.38 40.12 C527.64 43.17 519.52 51.81 516.34 57.05 C513.15 62.3 513.5 65.17 512.29 71.61 C511.08 78.05 509.93 87.44 509.05 95.7 C508.18 103.97 507.56 112.08 507.03 121.17 C506.5 130.27 506.15 137.89 505.88 150.28 C505.62 162.67 505.53 187.95 505.46 195.49" fill="none" stroke="#d2d2d2" stroke-width="0.7" stroke-linejoin="round" stroke-linecap="round" />
<path d="M505.46 155.74 C505.25 151.19 504.75 137.24 504.2 128.45 C503.65 119.66 502.99 110.86 502.18 102.98 C501.37 95.1 500.36 87.52 499.35 81.15 C498.33 74.78 497.81 68.95 496.11 64.78 C494.41 60.61 490.91 59.09 489.12 56.13 C487.33 53.17 485.98 48.55 485.35 47.04" fill="none" stroke="#d2d2d2" stroke-width="0.7" stroke-linejoin="round" stroke-linecap="round" />
<path d="M485.35 47.04 L485.35 155.61" fill="none" stroke="#d2d2d2" stroke-width="0.7" stroke-linejoin="round" stroke-linecap="round" />
<path d="M441.05 143.67 C443.16 144.83 449.47 148.23 453.68 150.66 C457.89 153.09 461.58 154.51 466.31 158.25 C471.04 161.98 478.73 167.84 482.06 173.09 C485.39 178.33 485.22 178.5 486.27 189.73 C487.32 200.95 487.67 240.97 488.37 240.46 C489.08 239.95 489.57 197.75 490.48 186.66 C491.39 175.57 491.98 177.95 493.85 173.93 C495.71 169.91 499.95 164.39 501.67 162.57 C503.4 160.75 503.78 162.94 504.2 163.01" fill="none" stroke="#d2d2d2" stroke-width="0.7" stroke-linejoin="round" stroke-linecap="round" />
<path d="M441.05 133.17 L443.58 118.25 L446.1 122.9 L448.63 109.34 L451.15 110.98 L453.68 110.9 L455.36 103.56 L457.05 97.4 L458.73 99.8 L460.42 98.81 L462.1 87.91 L463.78 91.2 L465.47 92.71 L467.15 87.21 L468.84 87.61 L470.52 88.54 L472.2 98.94 L473.89 109.88 L475.57 118.54 L477.26 124.39 L478.94 135.98 L480.22 133.92 L481.5 132.91 L482.79 132.78 L484.07 124.26 L485.35 132.09" fill="none" stroke="#d2d2d2" stroke-width="0.6" stroke-linejoin="round" stroke-linecap="round" />
<path d="M507.17 200.92 C507.45 198.85 507.6 193.48 508.85 188.48 C510.11 183.48 511.99 176.08 514.73 170.91 C517.46 165.73 521.74 162.09 525.25 157.42 C528.76 152.74 532.65 147.59 535.77 142.86 C538.9 138.14 542.64 131.37 544.01 129.07" fill="none" stroke="#d2d2d2" stroke-width="0.7" stroke-linejoin="round" stroke-linecap="round" />
<path d="M544.01 130.76 L544.29 117.08 L544.58 98.36 L544.86 87.25 L545.42 81 L545.98 69.88 L546.54 70.44 L547.24 53.67 L547.94 65.24 L548.64 60.73 L550.05 61.77 L551.45 58.29 L552.85 37.49" fill="none" stroke="#d2d2d2" stroke-width="0.7" stroke-linejoin="round" stroke-linecap="round" />
<path d="M567.35 37.49 C563.9 37.49 551.18 37.42 546.67 37.49 C542.17 37.57 542.43 37.71 540.3 37.94 C538.18 38.16 536.06 38.45 533.93 38.83 C531.81 39.21 530.36 36.41 527.56 40.24 C524.76 44.08 519.61 55.8 517.16 61.83 C514.7 67.85 514.13 70.73 512.84 76.38 C511.54 82.03 510.32 88.24 509.38 95.7 C508.45 103.17 507.81 112.08 507.22 121.17 C506.64 130.27 506.18 141.25 505.88 150.28 C505.59 159.31 505.53 171.17 505.46 175.35" fill="none" stroke="#d2d2d2" stroke-width="0.7" stroke-linejoin="round" stroke-linecap="round" />
<path d="M505.46 155.74 C505.25 151.19 504.77 137.24 504.2 128.45 C503.63 119.66 502.9 110.86 502.04 102.98 C501.18 95.1 500.1 87.52 499.02 81.15 C497.94 74.78 497.2 69.74 495.56 64.78 C493.93 59.81 490.88 55.11 489.19 51.36 C487.51 47.61 486.07 43.78 485.44 42.26" fill="none" stroke="#d2d2d2" stroke-width="0.7" stroke-linejoin="round" stroke-linecap="round" />
<path d="M485.44 42.26 L485.44 167.26" fill="none" stroke="#d2d2d2" stroke-width="0.7" stroke-linejoin="round" stroke-linecap="round" />
<path d="M441.05 151.58 C443.16 153.07 449.47 157.62 453.68 160.54 C457.89 163.47 462.99 165.55 466.31 169.12 C469.63 172.69 471.71 177.89 473.63 181.98 C475.55 186.08 476.79 185.29 477.84 193.68 C478.89 202.07 479.24 233.5 479.94 232.34 C480.64 231.17 481.14 196.4 482.05 186.66 C482.96 176.93 482.14 177.15 485.42 173.93 C488.69 170.71 498.54 169.16 501.67 167.34 C504.8 165.52 503.78 163.73 504.2 163.01" fill="none" stroke="#d2d2d2" stroke-width="0.7" stroke-linejoin="round" stroke-linecap="round" />
<path d="M509.05 211.69 C509.33 207.82 509.79 194.22 510.73 188.48 C511.68 182.75 512.31 181.12 514.73 177.27 C517.14 173.42 521.74 169.78 525.25 165.37 C528.76 160.96 533.44 155.81 535.77 150.82 C538.11 145.82 538.66 137.99 539.24 135.43" fill="none" stroke="#d2d2d2" stroke-width="0.7" stroke-linejoin="round" stroke-linecap="round" />
<path d="M539.24 124.4 L539.52 115.04 L539.8 97.26 L540.08 74.35 L540.64 76.3 L541.21 72.94 L541.77 74.94 L542.47 75.23 L543.17 61.91 L543.87 52.18 L545.28 48.13 L546.68 54.77 L548.08 37.49" fill="none" stroke="#d2d2d2" stroke-width="0.7" stroke-linejoin="round" stroke-linecap="round" />
<path d="M567.35 37.49 C564.69 37.49 555.22 37.42 551.38 37.49 C547.54 37.56 546.66 37.7 544.3 37.89 C541.94 38.08 539.58 38.31 537.22 38.62 C534.87 38.93 534.06 36.43 530.15 39.74 C526.24 43.04 517.02 52.9 513.76 58.44 C510.49 63.99 511.53 66.79 510.57 73 C509.62 79.21 508.71 87.68 508.02 95.7 C507.33 103.73 506.79 112.08 506.43 121.17 C506.07 130.27 506.05 143.34 505.88 150.28 C505.72 157.22 505.53 160.73 505.46 162.82" fill="none" stroke="#d2d2d2" stroke-width="0.7" stroke-linejoin="round" stroke-linecap="round" />
<path d="M505.46 155.74 C505.25 151.19 504.68 137.24 504.2 128.45 C503.72 119.66 503.24 110.86 502.61 102.98 C501.97 95.1 501.17 87.52 500.38 81.15 C499.58 74.78 499.28 69.18 497.83 64.78 C496.38 60.38 493.24 57.93 491.7 54.74 C490.16 51.55 489.1 47.16 488.58 45.65" fill="none" stroke="#d2d2d2" stroke-width="0.7" stroke-linejoin="round" stroke-linecap="round" />
<path d="M488.58 45.65 L488.58 165.69" fill="none" stroke="#d2d2d2" stroke-width="0.7" stroke-linejoin="round" stroke-linecap="round" />
<path d="M441.05 146.2 C443.16 147.47 449.47 151.23 453.68 153.82 C457.89 156.41 462.23 158.04 466.31 161.72 C470.39 165.41 475.49 171.05 478.16 175.93 C480.84 180.81 481.32 185.48 482.37 190.99 C483.43 196.49 483.78 209.68 484.48 208.96 C485.18 208.24 485.67 192.5 486.58 186.66 C487.5 180.83 487.44 177.71 489.95 173.93 C492.47 170.14 499.3 165.77 501.67 163.95 C504.05 162.14 503.78 163.17 504.2 163.01" fill="none" stroke="#d2d2d2" stroke-width="0.7" stroke-linejoin="round" stroke-linecap="round" />
<path d="M441.05 144.23 L443.58 129.85 L446.1 128.31 L448.63 131.78 L451.15 125.55 L453.68 134.51 L455.36 128.9 L457.05 125.18 L458.73 138.49 L460.42 130.35 L462.1 135.7 L463.78 130.06 L465.47 124.08 L467.15 122.8 L468.84 113.24 L470.52 103.01 L472.2 107.16 L473.89 117.84 L475.57 126.35 L477.26 135.99 L478.94 142.35 L480.87 142.86 L482.79 138.68 L484.72 132.12 L486.65 130.54 L488.58 132.09" fill="none" stroke="#d2d2d2" stroke-width="0.6" stroke-linejoin="round" stroke-linecap="round" />
<path d="M508.8 199.34 C509.08 197.53 509.5 192.91 510.49 188.48 C511.47 184.05 512.26 177.55 514.73 172.76 C517.19 167.97 521.74 164.33 525.25 159.73 C528.76 155.13 531.57 149.98 535.77 145.18 C539.98 140.37 548.03 133.29 550.48 130.92" fill="none" stroke="#d2d2d2" stroke-width="0.7" stroke-linejoin="round" stroke-linecap="round" />
<path d="M550.48 123.61 L550.76 112.21 L551.04 95.63 L551.32 76.61 L551.88 67.33 L552.44 60.46 L553 58.23 L553.7 54.52 L554.4 57.39 L555.11 56.74 L556.51 49.62 L557.91 48.36 L559.32 37.49" fill="none" stroke="#d2d2d2" stroke-width="0.7" stroke-linejoin="round" stroke-linecap="round" />
<path d="M567.35 37.49 C565.12 37.49 557.47 37.41 554 37.49 C550.53 37.57 549.02 37.72 546.53 37.97 C544.04 38.22 541.55 38.55 539.06 39 C536.57 39.44 534.79 37.31 531.59 40.65 C528.39 43.99 522.7 53.54 519.88 59.02 C517.06 64.51 516.22 67.46 514.65 73.58 C513.08 79.69 511.6 87.77 510.47 95.7 C509.34 103.64 508.62 112.08 507.86 121.17 C507.09 130.27 506.28 138.9 505.88 150.28 C505.48 161.66 505.53 182.94 505.46 189.47" fill="none" stroke="#d2d2d2" stroke-width="0.7" stroke-linejoin="round" stroke-linecap="round" />
<path d="M505.46 155.74 C505.25 151.19 504.85 137.24 504.2 128.45 C503.55 119.66 502.63 110.86 501.59 102.98 C500.54 95.1 499.24 87.52 497.93 81.15 C496.62 74.78 494.57 69.28 493.75 64.78 C492.93 60.28 493.6 57.45 493.02 54.16 C492.43 50.88 490.69 46.58 490.22 45.07" fill="none" stroke="#d2d2d2" stroke-width="0.7" stroke-linejoin="round" stroke-linecap="round" />
<path d="M490.22 45.07 L490.22 132.48" fill="none" stroke="#d2d2d2" stroke-width="0.7" stroke-linejoin="round" stroke-linecap="round" />
<path d="M441.05 151.26 C443.16 152.74 449.47 157.24 453.68 160.15 C457.89 163.05 461.41 165.1 466.31 168.68 C471.21 172.26 479.56 177.49 483.06 181.63 C486.55 185.77 486.21 189.25 487.27 193.52 C488.32 197.8 488.67 208.41 489.37 207.27 C490.07 206.13 490.56 192.22 491.48 186.66 C492.39 181.11 493.14 177.62 494.84 173.93 C496.54 170.24 500.11 166.35 501.67 164.53 C503.23 162.72 503.78 163.27 504.2 163.01" fill="none" stroke="#d2d2d2" stroke-width="0.7" stroke-linejoin="round" stroke-linecap="round" />
<path d="M508.27 200.66 C508.55 198.63 508.88 193 509.96 188.48 C511.03 183.96 512.18 178.16 514.73 173.53 C517.27 168.9 521.74 165.26 525.25 160.7 C528.76 156.13 532.04 150.98 535.77 146.14 C539.51 141.31 545.69 134.1 547.68 131.69" fill="none" stroke="#d2d2d2" stroke-width="0.7" stroke-linejoin="round" stroke-linecap="round" />
<path d="M547.68 133.43 L547.96 116.78 L548.24 108.02 L548.52 100.01 L549.08 85.01 L549.64 76.56 L550.2 60.91 L550.9 66.31 L551.61 67.16 L552.31 73.4 L553.71 65.49 L555.11 43.17 L556.52 37.49" fill="none" stroke="#d2d2d2" stroke-width="0.7" stroke-linejoin="round" stroke-linecap="round" />
<path d="M567.35 37.49 C564.43 37.49 553.87 37.42 549.8 37.49 C545.74 37.56 545.24 37.71 542.96 37.92 C540.68 38.13 538.4 38.4 536.12 38.75 C533.84 39.11 532.65 36.19 529.28 40.06 C525.91 43.93 518.8 55.91 515.92 61.99 C513.04 68.07 513.18 70.92 512.01 76.54 C510.84 82.16 509.73 88.27 508.89 95.7 C508.04 103.14 507.43 112.08 506.93 121.17 C506.43 130.27 506.13 141.67 505.88 150.28 C505.64 158.89 505.53 169.08 505.46 172.84" fill="none" stroke="#d2d2d2" stroke-width="0.7" stroke-linejoin="round" stroke-linecap="round" />
<path d="M505.46 155.74 C505.25 151.19 504.74 137.24 504.2 128.45 C503.66 119.66 503.03 110.86 502.25 102.98 C501.47 95.1 500.49 87.52 499.51 81.15 C498.54 74.78 497.64 69.77 496.39 64.78 C495.14 59.79 493.24 54.98 492 51.2 C490.76 47.42 489.46 43.62 488.95 42.1" fill="none" stroke="#d2d2d2" stroke-width="0.7" stroke-linejoin="round" stroke-linecap="round" />
<path d="M488.95 42.1 L488.95 163.37" fill="none" stroke="#d2d2d2" stroke-width="0.7" stroke-linejoin="round" stroke-linecap="round" />
<path d="M441.05 145.36 C443.16 146.6 449.47 150.24 453.68 152.77 C457.89 155.31 460.85 156.87 466.31 160.57 C471.77 164.28 482.37 169.99 486.43 174.99 C490.48 179.99 489.59 184.38 490.64 190.57 C491.69 196.77 492.04 212.81 492.74 212.16 C493.45 211.51 493.94 193.03 494.85 186.66 C495.76 180.29 497.08 177.12 498.22 173.93 C499.35 170.74 500.68 169.32 501.67 167.5 C502.67 165.68 503.78 163.76 504.2 163.01" fill="none" stroke="#d2d2d2" stroke-width="0.7" stroke-linejoin="round" stroke-linecap="round" />
<path d="M441.05 146.12 L443.58 139.37 L446.1 127.06 L448.63 120.12 L451.15 117.33 L453.68 115.15 L455.36 110.06 L457.05 110.31 L458.73 102.69 L460.42 121.86 L462.1 114.38 L463.78 113.22 L465.47 107.2 L467.15 111.91 L468.84 106.12 L470.52 111.36 L472.2 115.06 L473.89 114.6 L475.57 117.57 L477.26 113.63 L478.94 126.76 L480.94 118.84 L482.95 115.51 L484.95 126.16 L486.95 125.77 L488.95 132.09" fill="none" stroke="#d2d2d2" stroke-width="0.6" stroke-linejoin="round" stroke-linecap="round" />
<path d="M509.25 205.14 C509.53 202.36 510.02 193.09 510.94 188.48 C511.85 183.87 512.34 181.29 514.73 177.48 C517.11 173.68 521.74 170.04 525.25 165.64 C528.76 161.24 532.3 156.08 535.77 151.08 C539.25 146.08 544.37 138.22 546.09 135.64" fill="none" stroke="#d2d2d2" stroke-width="0.7" stroke-linejoin="round" stroke-linecap="round" />
<path d="M546.09 128.05 L546.37 111.54 L546.65 95 L546.93 69.98 L547.49 68.86 L548.06 69.81 L548.62 61.54 L549.32 53.12 L550.02 49.16 L550.72 43.09 L552.13 41.35 L553.53 42.45 L554.93 37.49" fill="none" stroke="#d2d2d2" stroke-width="0.7" stroke-linejoin="round" stroke-linecap="round" />
<path d="M567.35 37.49 C563.43 37.49 548.73 37.42 543.81 37.49 C538.9 37.56 539.85 37.71 537.87 37.91 C535.89 38.12 533.91 38.37 531.93 38.72 C529.95 39.06 528.76 36.82 525.99 39.97 C523.21 43.12 517.69 52.25 515.29 57.62 C512.89 62.98 512.7 65.82 511.6 72.17 C510.49 78.52 509.44 87.54 508.64 95.7 C507.84 103.87 507.25 112.08 506.79 121.17 C506.33 130.27 506.1 137.32 505.88 150.28 C505.66 163.24 505.53 190.81 505.46 198.92" fill="none" stroke="#d2d2d2" stroke-width="0.7" stroke-linejoin="round" stroke-linecap="round" />
<path d="M505.46 155.74 C505.25 151.19 504.72 137.24 504.2 128.45 C503.68 119.66 503.09 110.86 502.35 102.98 C501.61 95.1 500.69 87.52 499.76 81.15 C498.84 74.78 497.91 69.04 496.8 64.78 C495.7 60.52 494.21 58.62 493.14 55.57 C492.07 52.52 490.83 47.99 490.37 46.47" fill="none" stroke="#d2d2d2" stroke-width="0.7" stroke-linejoin="round" stroke-linecap="round" />
<path d="M490.37 46.47 L490.37 165.04" fill="none" stroke="#d2d2d2" stroke-width="0.7" stroke-linejoin="round" stroke-linecap="round" />
<path d="M441.05 144.29 C443.16 145.48 449.47 148.96 453.68 151.43 C457.89 153.9 462.45 155.37 466.31 159.1 C470.17 162.82 474.39 168.63 476.85 173.78 C479.3 178.94 480 179.51 481.06 190.03 C482.11 200.56 482.46 237.5 483.16 236.94 C483.86 236.38 484.35 197.17 485.27 186.66 C486.18 176.16 485.9 177.85 488.63 173.93 C491.37 170.01 499.08 164.95 501.67 163.13 C504.27 161.31 503.78 163.03 504.2 163.01" fill="none" stroke="#d2d2d2" stroke-width="0.7" stroke-linejoin="round" stroke-linecap="round" />
<path d="M507.43 192.3 C507.71 191.66 507.9 191.92 509.12 188.48 C510.33 185.04 512.04 176.68 514.73 171.65 C517.41 166.63 521.74 162.99 525.25 158.35 C528.76 153.71 533.64 148.55 535.77 143.8 C537.91 139.04 537.66 132.14 538.04 129.81" fill="none" stroke="#d2d2d2" stroke-width="0.7" stroke-linejoin="round" stroke-linecap="round" />
<path d="M538.04 132.83 L538.32 121.51 L538.6 102.23 L538.88 77.49 L539.44 73.23 L540 65.21 L540.56 56.93 L541.26 59.65 L541.96 61.28 L542.67 69.38 L544.07 54 L545.47 53.73 L546.88 37.49" fill="none" stroke="#d2d2d2" stroke-width="0.7" stroke-linejoin="round" stroke-linecap="round" />
<path d="M567.35 37.49 C562.41 37.49 543.49 37.41 537.71 37.49 C531.93 37.57 534.36 37.72 532.68 37.97 C531.01 38.22 529.33 38.54 527.66 38.98 C525.98 39.41 523.98 36.8 522.63 40.6 C521.28 44.4 520.91 55.82 519.55 61.78 C518.18 67.74 515.97 70.68 514.43 76.33 C512.9 81.99 511.45 88.23 510.34 95.7 C509.23 103.18 508.52 112.08 507.78 121.17 C507.04 130.27 506.27 140.52 505.88 150.28 C505.5 160.04 505.53 174.85 505.46 179.76" fill="none" stroke="#d2d2d2" stroke-width="0.7" stroke-linejoin="round" stroke-linecap="round" />
<path d="M505.46 155.74 C505.25 151.19 504.84 137.24 504.2 128.45 C503.56 119.66 502.67 110.86 501.64 102.98 C500.62 95.1 499.34 87.52 498.06 81.15 C496.78 74.78 494.6 69.74 493.97 64.78 C493.33 59.82 494.62 55.15 494.25 51.41 C493.88 47.66 492.18 43.83 491.76 42.31" fill="none" stroke="#d2d2d2" stroke-width="0.7" stroke-linejoin="round" stroke-linecap="round" />
<path d="M491.76 42.31 L491.76 166.24" fill="none" stroke="#d2d2d2" stroke-width="0.7" stroke-linejoin="round" stroke-linecap="round" />
<path d="M441.05 141.91 C443.16 143 449.47 146.14 453.68 148.46 C457.89 150.78 462.11 152.05 466.31 155.82 C470.51 159.6 476.07 165.6 478.86 171.11 C481.66 176.61 482.02 181.6 483.07 188.84 C484.13 196.09 484.48 214.92 485.18 214.55 C485.88 214.19 486.37 193.43 487.28 186.66 C488.2 179.89 488.25 177.16 490.65 173.93 C493.05 170.7 499.42 169.11 501.67 167.29 C503.93 165.47 503.78 163.73 504.2 163.01" fill="none" stroke="#d2d2d2" stroke-width="0.7" stroke-linejoin="round" stroke-linecap="round" />
<path d="M441.05 148.42 L443.58 128.78 L446.1 130.87 L448.63 117.42 L451.15 92.5 L453.68 100.32 L455.36 101.26 L457.05 113.62 L458.73 103.24 L460.42 118.14 L462.1 123.69 L463.78 120.54 L465.47 118.35 L467.15 120.72 L468.84 105.95 L470.52 105.17 L472.2 103.56 L473.89 106.89 L475.57 105.79 L477.26 109.8 L478.94 108.45 L481.5 112.27 L484.07 113.72 L486.63 119.89 L489.2 131.86 L491.76 132.09" fill="none" stroke="#d2d2d2" stroke-width="0.6" stroke-linejoin="round" stroke-linecap="round" />
<path d="M506.58 218.11 C506.86 213.17 506.91 195.3 508.27 188.48 C509.62 181.67 511.89 181.07 514.73 177.21 C517.56 173.34 521.74 169.7 525.25 165.29 C528.76 160.88 531.22 155.73 535.77 150.74 C540.33 145.75 549.76 137.93 552.55 135.37" fill="none" stroke="#d2d2d2" stroke-width="0.7" stroke-linejoin="round" stroke-linecap="round" />
<path d="M552.55 135.14 L552.83 114.34 L553.11 94.5 L553.39 83.85 L553.96 71.91 L554.52 73.53 L555.08 72.2 L555.78 65.7 L556.48 69.24 L557.18 60.64 L558.59 59.95 L559.99 47.5 L561.39 37.49" fill="none" stroke="#d2d2d2" stroke-width="0.7" stroke-linejoin="round" stroke-linecap="round" />
<path d="M567.35 37.49 C561.92 37.49 540.95 37.42 534.75 37.49 C528.55 37.56 531.7 37.71 530.17 37.91 C528.64 38.11 527.11 38.37 525.59 38.71 C524.06 39.05 522.73 36.08 521 39.95 C519.28 43.83 516.8 55.87 515.22 61.97 C513.64 68.06 512.65 70.9 511.55 76.52 C510.44 82.14 509.4 88.26 508.61 95.7 C507.81 103.15 507.23 112.08 506.77 121.17 C506.32 130.27 506.1 138.13 505.88 150.28 C505.67 162.43 505.53 186.79 505.46 194.1" fill="none" stroke="#d2d2d2" stroke-width="0.7" stroke-linejoin="round" stroke-linecap="round" />
<path d="M505.46 155.74 C505.25 151.19 504.72 137.24 504.2 128.45 C503.68 119.66 503.1 110.86 502.36 102.98 C501.63 95.1 500.71 87.52 499.79 81.15 C498.87 74.78 498.37 69.77 496.85 64.78 C495.33 59.79 492.26 55 490.66 51.22 C489.07 47.44 487.84 43.64 487.28 42.12" fill="none" stroke="#d2d2d2" stroke-width="0.7" stroke-linejoin="round" stroke-linecap="round" />
<path d="M487.28 42.12 L487.28 139.61" fill="none" stroke="#d2d2d2" stroke-width="0.7" stroke-linejoin="round" stroke-linecap="round" />
<path d="M441.05 150.44 C443.16 151.89 449.47 156.27 453.68 159.12 C457.89 161.98 462.41 163.96 466.31 167.56 C470.21 171.15 474.59 176.45 477.09 180.71 C479.58 184.96 480.24 189.55 481.3 193.11 C482.35 196.67 482.7 203.13 483.4 202.05 C484.1 200.98 484.59 191.35 485.51 186.66 C486.42 181.98 486.18 177.13 488.87 173.93 C491.57 170.73 499.12 169.3 501.67 167.48 C504.23 165.66 503.78 163.76 504.2 163.01" fill="none" stroke="#d2d2d2" stroke-width="0.7" stroke-linejoin="round" stroke-linecap="round" />
<path d="M508.85 212.88 C509.14 208.81 509.56 194.39 510.54 188.48 C511.52 182.58 512.27 181.27 514.73 177.46 C517.18 173.64 521.74 170 525.25 165.6 C528.76 161.2 530.72 156.05 535.77 151.05 C540.83 146.05 552.26 138.19 555.56 135.61" fill="none" stroke="#d2d2d2" stroke-width="0.7" stroke-linejoin="round" stroke-linecap="round" />
<path d="M555.56 134.81 L555.84 116.24 L556.12 98.86 L556.4 93.33 L556.96 79.45 L557.53 68.85 L558.09 53.01 L558.79 52.87 L559.49 54.1 L560.19 63.74 L561.59 54.02 L563 43.85 L564.4 37.49" fill="none" stroke="#d2d2d2" stroke-width="0.7" stroke-linejoin="round" stroke-linecap="round" />
<path d="M567.35 37.49 C565.86 37.49 561.24 37.42 558.4 37.49 C555.55 37.56 552.98 37.71 550.27 37.93 C547.56 38.15 544.85 38.42 542.14 38.8 C539.43 39.17 538.26 37.01 534.01 40.16 C529.76 43.32 520.22 52.36 516.63 57.71 C513.04 63.06 513.73 65.93 512.49 72.26 C511.24 78.6 510.07 87.55 509.17 95.7 C508.27 103.86 507.65 112.08 507.1 121.17 C506.55 130.27 506.16 143.13 505.88 150.28 C505.61 157.43 505.53 161.78 505.46 164.07" fill="none" stroke="#d2d2d2" stroke-width="0.7" stroke-linejoin="round" stroke-linecap="round" />
<path d="M505.46 155.74 C505.25 151.19 504.76 137.24 504.2 128.45 C503.64 119.66 502.96 110.86 502.13 102.98 C501.3 95.1 500.26 87.52 499.23 81.15 C498.19 74.78 496.51 69.06 495.91 64.78 C495.31 60.5 496.03 58.54 495.63 55.47 C495.23 52.41 493.85 47.89 493.49 46.38" fill="none" stroke="#d2d2d2" stroke-width="0.7" stroke-linejoin="round" stroke-linecap="round" />
<path d="M493.49 46.38 L493.49 146.48" fill="none" stroke="#d2d2d2" stroke-width="0.7" stroke-linejoin="round" stroke-linecap="round" />
<path d="M441.05 146.82 C443.16 148.12 449.47 151.97 453.68 154.6 C457.89 157.22 463.18 158.91 466.31 162.58 C469.44 166.25 470.73 171.85 472.46 176.63 C474.18 181.42 475.62 185.08 476.67 191.3 C477.72 197.53 478.07 214.76 478.77 213.98 C479.47 213.21 479.97 193.34 480.88 186.66 C481.79 179.99 480.78 177.84 484.25 173.93 C487.71 170.02 498.35 165.04 501.67 163.22 C505 161.4 503.78 163.05 504.2 163.01" fill="none" stroke="#d2d2d2" stroke-width="0.7" stroke-linejoin="round" stroke-linecap="round" />
<path d="M441.05 135.09 L443.58 132.89 L446.1 128.98 L448.63 130.26 L451.15 127.74 L453.68 128.61 L455.36 133.86 L457.05 137.46 L458.73 131.8 L460.42 130.26 L462.1 147.49 L463.78 135.11 L465.47 134.26 L467.15 114.71 L468.84 115.46 L470.52 111.44 L472.2 108.94 L473.89 118.42 L475.57 129.47 L477.26 136.08 L478.94 143.51 L481.85 130.53 L484.76 127.15 L487.67 136.07 L490.58 137.48 L493.49 132.09" fill="none" stroke="#d2d2d2" stroke-width="0.6" stroke-linejoin="round" stroke-linecap="round" />
<path d="M506.91 204.2 C507.19 201.58 507.29 193.89 508.59 188.48 C509.89 183.08 511.95 176.78 514.73 171.78 C517.5 166.79 521.74 163.15 525.25 158.51 C528.76 153.87 531.54 148.72 535.77 143.96 C540.01 139.2 548.2 132.28 550.68 129.94" fill="none" stroke="#d2d2d2" stroke-width="0.7" stroke-linejoin="round" stroke-linecap="round" />
<path d="M550.68 132.86 L550.96 112.97 L551.24 107.39 L551.52 93.52 L552.08 89.32 L552.64 81.92 L553.21 81.84 L553.91 75.53 L554.61 61.88 L555.31 48.49 L556.71 51.06 L558.12 45.54 L559.52 37.49" fill="none" stroke="#d2d2d2" stroke-width="0.7" stroke-linejoin="round" stroke-linecap="round" />
<path d="M567.35 37.49 C565.75 37.49 560.67 37.41 557.73 37.49 C554.79 37.57 552.38 37.72 549.7 37.97 C547.03 38.23 544.35 38.55 541.67 39 C539 39.45 537.26 37.35 533.64 40.66 C530.03 43.97 523.13 53.41 519.97 58.86 C516.82 64.32 516.29 67.28 514.72 73.42 C513.14 79.56 511.65 87.75 510.51 95.7 C509.37 103.66 508.65 112.08 507.88 121.17 C507.11 130.27 506.29 142.51 505.88 150.28 C505.48 158.05 505.53 164.9 505.46 167.82" fill="none" stroke="#d2d2d2" stroke-width="0.7" stroke-linejoin="round" stroke-linecap="round" />
<path d="M505.46 155.74 C505.25 151.19 504.85 137.24 504.2 128.45 C503.55 119.66 502.62 110.86 501.57 102.98 C500.52 95.1 499.21 87.52 497.89 81.15 C496.58 74.78 494.27 69.25 493.68 64.78 C493.1 60.31 494.69 57.58 494.4 54.32 C494.11 51.06 492.35 46.74 491.95 45.23" fill="none" stroke="#d2d2d2" stroke-width="0.7" stroke-linejoin="round" stroke-linecap="round" />
<path d="M491.95 45.23 L491.95 163.09" fill="none" stroke="#d2d2d2" stroke-width="0.7" stroke-linejoin="round" stroke-linecap="round" />
<path d="M441.05 150.89 C443.16 152.35 449.47 156.8 453.68 159.68 C457.89 162.56 463.18 164.58 466.31 168.17 C469.44 171.76 470.71 177.01 472.44 181.21 C474.16 185.4 475.6 189.82 476.65 193.33 C477.7 196.84 478.05 203.37 478.75 202.26 C479.45 201.15 479.95 191.39 480.86 186.66 C481.77 181.94 480.76 177.64 484.23 173.93 C487.69 170.21 498.34 166.19 501.67 164.38 C505 162.56 503.78 163.24 504.2 163.01" fill="none" stroke="#d2d2d2" stroke-width="0.7" stroke-linejoin="round" stroke-linecap="round" />
<path d="M507.42 206.98 C507.7 203.89 507.89 194.09 509.1 188.48 C510.32 182.87 512.03 177.99 514.73 173.32 C517.42 168.64 521.74 165.01 525.25 160.43 C528.76 155.86 531.97 150.7 535.77 145.88 C539.58 141.05 546.01 133.88 548.06 131.48" fill="none" stroke="#d2d2d2" stroke-width="0.7" stroke-linejoin="round" stroke-linecap="round" />
<path d="M548.06 127.67 L548.34 111.4 L548.62 93.43 L548.9 82.47 L549.46 76.65 L550.02 60.37 L550.58 62.88 L551.28 65.67 L551.99 62.74 L552.69 62.06 L554.09 54.85 L555.49 45.13 L556.9 37.49" fill="none" stroke="#d2d2d2" stroke-width="0.7" stroke-linejoin="round" stroke-linecap="round" />
<path d="M567.35 37.49 C561.9 37.49 540.88 37.41 534.67 37.49 C528.46 37.57 531.62 37.72 530.1 37.96 C528.57 38.21 527.05 38.52 525.53 38.96 C524 39.39 522.01 37.62 520.96 40.55 C519.91 43.48 520.35 51.46 519.22 56.55 C518.1 61.65 515.72 64.58 514.21 71.11 C512.71 77.63 511.29 87.36 510.21 95.7 C509.12 104.05 508.43 112.08 507.71 121.17 C506.98 130.27 506.26 137.4 505.88 150.28 C505.51 163.16 505.53 190.42 505.46 198.45" fill="none" stroke="#d2d2d2" stroke-width="0.7" stroke-linejoin="round" stroke-linecap="round" />
<path d="M505.46 155.74 C505.25 151.19 504.83 137.24 504.2 128.45 C503.57 119.66 502.7 110.86 501.7 102.98 C500.69 95.1 499.44 87.52 498.19 81.15 C496.94 74.78 494.56 68.87 494.19 64.78 C493.81 60.69 496.01 59.51 495.96 56.63 C495.91 53.76 494.24 49.05 493.9 47.54" fill="none" stroke="#d2d2d2" stroke-width="0.7" stroke-linejoin="round" stroke-linecap="round" />
<path d="M493.9 47.54 L493.9 161.61" fill="none" stroke="#d2d2d2" stroke-width="0.7" stroke-linejoin="round" stroke-linecap="round" />
<path d="M441.05 142.45 C443.16 143.57 449.47 146.78 453.68 149.14 C457.89 151.49 462.31 152.81 466.31 156.57 C470.31 160.33 475.08 166.29 477.68 171.72 C480.28 177.14 480.84 182.07 481.89 189.12 C482.94 196.17 483.29 214.43 484 214.02 C484.7 213.61 485.19 193.35 486.1 186.66 C487.01 179.98 486.87 178.03 489.47 173.93 C492.06 169.83 499.22 163.88 501.67 162.06 C504.13 160.25 503.78 162.86 504.2 163.01" fill="none" stroke="#d2d2d2" stroke-width="0.7" stroke-linejoin="round" stroke-linecap="round" />
<path d="M441.05 130.03 L443.58 123.05 L446.1 111.23 L448.63 119.06 L451.15 106.75 L453.68 115.47 L455.36 110.58 L457.05 118.82 L458.73 123.69 L460.42 130.92 L462.1 145.8 L463.78 143.27 L465.47 141.72 L467.15 140.01 L468.84 130.37 L470.52 135.21 L472.2 127.97 L473.89 118.76 L475.57 119.11 L477.26 105.78 L478.94 98.86 L481.93 103.12 L484.92 103.99 L487.92 123.19 L490.91 132.81 L493.9 132.09" fill="none" stroke="#d2d2d2" stroke-width="0.6" stroke-linejoin="round" stroke-linecap="round" />
<path d="M507.36 205.54 C507.64 202.7 507.82 194.37 509.04 188.48 C510.27 182.6 512.02 175.55 514.73 170.24 C517.43 164.92 521.74 161.28 525.25 156.58 C528.76 151.88 532.69 146.72 535.77 142.03 C538.86 137.33 542.42 130.67 543.75 128.4" fill="none" stroke="#d2d2d2" stroke-width="0.7" stroke-linejoin="round" stroke-linecap="round" />
<path d="M543.75 132.79 L544.03 116.02 L544.31 96.94 L544.59 96.28 L545.15 92.32 L545.71 80.5 L546.27 74.88 L546.98 75.82 L547.68 73.14 L548.38 65.6 L549.78 61.61 L551.19 50.55 L552.59 37.49" fill="none" stroke="#d2d2d2" stroke-width="0.7" stroke-linejoin="round" stroke-linecap="round" />
<path d="M567.35 37.49 C562.24 37.49 542.62 37.42 536.7 37.49 C530.77 37.56 533.45 37.7 531.82 37.9 C530.2 38.09 528.57 38.33 526.95 38.65 C525.32 38.96 524.21 36.73 522.07 39.79 C519.94 42.86 516.02 51.72 514.14 57.02 C512.27 62.31 511.82 65.12 510.83 71.57 C509.83 78.02 508.89 87.44 508.18 95.7 C507.46 103.97 506.9 112.08 506.52 121.17 C506.14 130.27 506.06 143.07 505.88 150.28 C505.71 157.49 505.53 162.06 505.46 164.42" fill="none" stroke="#d2d2d2" stroke-width="0.7" stroke-linejoin="round" stroke-linecap="round" />
<path d="M505.46 155.74 C505.25 151.19 504.69 137.24 504.2 128.45 C503.71 119.66 503.21 110.86 502.54 102.98 C501.88 95.1 501.05 87.52 500.22 81.15 C499.39 74.78 498.59 68.94 497.57 64.78 C496.56 60.62 495.13 59.12 494.14 56.17 C493.15 53.22 492.04 48.59 491.63 47.07" fill="none" stroke="#d2d2d2" stroke-width="0.7" stroke-linejoin="round" stroke-linecap="round" />
<path d="M491.63 47.07 L491.63 145.56" fill="none" stroke="#d2d2d2" stroke-width="0.7" stroke-linejoin="round" stroke-linecap="round" />
<path d="M441.05 146.43 C443.16 147.71 449.47 151.51 453.68 154.11 C457.89 156.72 461.35 158.37 466.31 162.05 C471.27 165.73 479.9 171.35 483.47 176.2 C487.03 181.04 486.62 181.82 487.68 191.11 C488.73 200.4 489.08 232.67 489.78 231.93 C490.48 231.19 490.97 196.33 491.89 186.66 C492.8 177 493.62 177.95 495.25 173.93 C496.89 169.91 500.18 164.35 501.67 162.53 C503.17 160.71 503.78 162.93 504.2 163.01" fill="none" stroke="#d2d2d2" stroke-width="0.7" stroke-linejoin="round" stroke-linecap="round" />
<path d="M509.21 216.67 C509.49 211.97 509.97 196.12 510.89 188.48 C511.81 180.85 512.33 176.04 514.73 170.86 C517.12 165.67 521.74 162.03 525.25 157.35 C528.76 152.68 532.29 147.52 535.77 142.8 C539.26 138.08 544.41 131.31 546.14 129.01" fill="none" stroke="#d2d2d2" stroke-width="0.7" stroke-linejoin="round" stroke-linecap="round" />
<path d="M546.14 138.58 L546.42 120.75 L546.7 98.51 L546.98 85.82 L547.54 83.17 L548.11 65.65 L548.67 61.23 L549.37 59.56 L550.07 55.12 L550.77 47.47 L552.18 37.48 L553.58 35.08 L554.98 37.49" fill="none" stroke="#d2d2d2" stroke-width="0.7" stroke-linejoin="round" stroke-linecap="round" />
<path d="M540.45 134.27 L540.45 62.48" fill="none" stroke="#d2d2d2" stroke-width="0.7" stroke-linejoin="round" stroke-linecap="round" />
<path d="M546.67 141.15 L546.67 62.82" fill="none" stroke="#d2d2d2" stroke-width="0.7" stroke-linejoin="round" stroke-linecap="round" />
<path d="M542.35 131.54 L542.35 48.57" fill="none" stroke="#d2d2d2" stroke-width="0.7" stroke-linejoin="round" stroke-linecap="round" />
<path d="M538.66 124.66 L538.66 62.98" fill="none" stroke="#d2d2d2" stroke-width="0.7" stroke-linejoin="round" stroke-linecap="round" />
<path d="M537.47 127.35 L537.47 62.85" fill="none" stroke="#d2d2d2" stroke-width="0.7" stroke-linejoin="round" stroke-linecap="round" />
<path d="M538.73 125.86 L538.73 48.37" fill="none" stroke="#d2d2d2" stroke-width="0.7" stroke-linejoin="round" stroke-linecap="round" />
<path d="M538.44 139.62 L538.44 56.32" fill="none" stroke="#d2d2d2" stroke-width="0.7" stroke-linejoin="round" stroke-linecap="round" />
<path d="M544.6 134.34 L544.6 62" fill="none" stroke="#d2d2d2" stroke-width="0.7" stroke-linejoin="round" stroke-linecap="round" />
<path d="M544.37 129.54 L544.37 43.06" fill="none" stroke="#d2d2d2" stroke-width="0.7" stroke-linejoin="round" stroke-linecap="round" />
<path d="M547.57 121.4 L547.57 54.42" fill="none" stroke="#d2d2d2" stroke-width="0.7" stroke-linejoin="round" stroke-linecap="round" />
<path d="M545.67 135.8 L545.67 57.27" fill="none" stroke="#d2d2d2" stroke-width="0.7" stroke-linejoin="round" stroke-linecap="round" />
<path d="M540.06 120.9 L540.06 43.62" fill="none" stroke="#d2d2d2" stroke-width="0.7" stroke-linejoin="round" stroke-linecap="round" />
<path d="M537.96 134.45 L537.96 56.13" fill="none" stroke="#d2d2d2" stroke-width="0.7" stroke-linejoin="round" stroke-linecap="round" />
<path d="M539.56 133.65 L539.56 55.61" fill="none" stroke="#d2d2d2" stroke-width="0.7" stroke-linejoin="round" stroke-linecap="round" />
<path d="M479.02 210.37 L479.02 135.83" fill="none" stroke="#d2d2d2" stroke-width="0.7" stroke-linejoin="round" stroke-linecap="round" />
<path d="M485.13 198.97 L485.13 144.36" fill="none" stroke="#d2d2d2" stroke-width="0.7" stroke-linejoin="round" stroke-linecap="round" />
<path d="M478.69 202.21 L478.69 132.78" fill="none" stroke="#d2d2d2" stroke-width="0.7" stroke-linejoin="round" stroke-linecap="round" />
<path d="M480.55 233.03 L480.55 146.07" fill="none" stroke="#d2d2d2" stroke-width="0.7" stroke-linejoin="round" stroke-linecap="round" />
<path d="M485.19 210.22 L485.19 129.67" fill="none" stroke="#d2d2d2" stroke-width="0.7" stroke-linejoin="round" stroke-linecap="round" />
<path d="M487.09 200.31 L487.09 162.5" fill="none" stroke="#d2d2d2" stroke-width="0.7" stroke-linejoin="round" stroke-linecap="round" />
<path d="M485.24 200.99 L485.24 161.78" fill="none" stroke="#d2d2d2" stroke-width="0.7" stroke-linejoin="round" stroke-linecap="round" />
<path d="M477.02 203.12 L477.02 132.12" fill="none" stroke="#d2d2d2" stroke-width="0.7" stroke-linejoin="round" stroke-linecap="round" />
<path d="M567.35 37.13 C562.47 37.13 543.75 36.55 538.05 37.13 C532.34 37.7 535.3 38.83 533.12 40.58 C530.94 42.34 527.68 45.13 524.96 47.68 C522.23 50.23 518.97 52.59 516.79 55.87 C514.61 59.14 513.22 62.14 511.86 67.33 C510.5 72.51 509.55 79.33 508.62 86.97 C507.69 94.61 506.96 104.98 506.31 113.17 C505.65 121.36 504.97 132.27 504.71 136.09" fill="none" stroke="#d6101c" stroke-width="1.7" stroke-linejoin="round" stroke-linecap="round" />
<path d="M504.71 136.09 C504.54 132.82 504.08 123.54 503.69 116.44 C503.31 109.35 502.94 100.62 502.39 93.52 C501.84 86.43 501.28 79.33 500.41 73.88 C499.54 68.42 498.53 64.6 497.17 60.78 C495.81 56.96 493.74 53.56 492.24 50.95 C490.75 48.35 489.29 46.65 488.2 45.13 C487.11 43.62 486.13 42.4 485.72 41.86" fill="none" stroke="#d6101c" stroke-width="1.7" stroke-linejoin="round" stroke-linecap="round" />
<path d="M485.72 41.86 L485.47 124.63 L483.4 131.18 L481.47 136.09 L479.78 141 L478.1 132.82 L476.83 142.64 L475.99 134.45 L474.31 148.46 L468.42 146.28 L463.78 144.82 L462.82 131.18 L462.1 144.46 L453.68 142.64 L441.47 141" fill="none" stroke="#d6101c" stroke-width="1.7" stroke-linejoin="round" stroke-linecap="round" />
<path d="M441.47 141 C443.65 142.09 450.15 145.4 454.52 147.55 C458.89 149.7 463.87 151.64 467.7 153.92 C471.53 156.19 474.78 158.74 477.51 161.2 C480.24 163.65 482.27 165.74 484.08 168.65 C485.88 171.56 487.24 175.35 488.33 178.66 C489.42 181.96 489.95 185.24 490.6 188.48 C491.25 191.73 491.97 196.52 492.24 198.12" fill="none" stroke="#d6101c" stroke-width="1.7" stroke-linejoin="round" stroke-linecap="round" />
<path d="M492.24 198.25 L492.79 192.38 L493.34 187.51 L493.89 179.87 L494.98 178.14 L496.07 175.22 L497.17 171.27 L498.25 170.49 L499.33 169.77 L500.41 168.22 L501.67 167.42 L502.94 166.77 L504.2 165.56" fill="none" stroke="#d6101c" stroke-width="1.7" stroke-linejoin="round" stroke-linecap="round" />
<path d="M504.62 189.61 L505.67 188.94 L506.73 187.32 L508.47 185.26 L510.22 183.6 L513.5 179.88 L516.79 176.95 L520.05 173.3 L523.31 168.48 L527.4 162.05 L531.48 156.03 L535.59 149.86 L539.69 144.71 L544.59 136.4 L549.5 129.79 L549.79 126.97 L550.09 124.49 L550.09 81.68 L550.09 37.13" fill="none" stroke="#d6101c" stroke-width="1.7" stroke-linejoin="round" stroke-linecap="round" />
</g>
<line x1="443" y1="37.13" x2="537.88" y2="37.13" stroke="#b8b8b8" stroke-width="1.0" stroke-dasharray="4 2.6"/>
<rect x="441" y="19.3" width="126.3" height="218.3" fill="none" stroke="#4a4a4a" stroke-width="1"/>
<path d="M437 19.3H441M439 32.02H441M439 28.81H441M439 26.54H441M439 24.78H441M439 23.34H441M439 22.12H441M439 21.06H441M439 20.13H441M438 37.49H441M439 50.21H441M439 47H441M439 44.73H441M439 42.97H441M439 41.53H441M439 40.31H441M439 39.25H441M439 38.32H441M437 55.68H441M439 68.4H441M439 65.2H441M439 62.92H441M439 61.16H441M439 59.72H441M439 58.5H441M439 57.45H441M439 56.52H441M438 73.88H441M439 86.59H441M439 83.39H441M439 81.11H441M439 79.35H441M439 77.91H441M439 76.69H441M439 75.64H441M439 74.71H441M437 92.07H441M439 104.78H441M439 101.58H441M439 99.31H441M439 97.54H441M439 96.1H441M439 94.88H441M439 93.83H441M439 92.9H441M438 110.26H441M439 122.97H441M439 119.77H441M439 117.5H441M439 115.73H441M439 114.29H441M439 113.08H441M439 112.02H441M439 111.09H441M437 128.45H441M439 141.17H441M439 137.96H441M439 135.69H441M439 133.93H441M439 132.49H441M439 131.27H441M439 130.21H441M439 129.28H441M438 146.64H441M439 159.36H441M439 156.15H441M439 153.88H441M439 152.12H441M439 150.68H441M439 149.46H441M439 148.4H441M439 147.47H441M437 164.83H441M439 177.55H441M439 174.35H441M439 172.07H441M439 170.31H441M439 168.87H441M439 167.65H441M439 166.6H441M439 165.67H441M438 183.03H441M439 195.74H441M439 192.54H441M439 190.26H441M439 188.5H441M439 187.06H441M439 185.84H441M439 184.79H441M439 183.86H441M437 201.22H441M439 213.93H441M439 210.73H441M439 208.46H441M439 206.69H441M439 205.25H441M439 204.03H441M439 202.98H441M439 202.05H441M438 219.41H441M439 232.12H441M439 228.92H441M439 226.65H441M439 224.88H441M439 223.44H441M439 222.23H441M439 221.17H441M439 220.24H441M437 237.6H441" stroke="#4a4a4a" stroke-width="0.75" fill="none"/>
<text x="432.5" y="24.28" font-size="11.6" text-anchor="end" fill="#1a1a1a"  textLength="19.37" lengthAdjust="spacingAndGlyphs">10<tspan font-size="7.19" dy="-5.29">−3</tspan></text>
<text x="432.5" y="60.66" font-size="11.6" text-anchor="end" fill="#1a1a1a"  textLength="19.37" lengthAdjust="spacingAndGlyphs">10<tspan font-size="7.19" dy="-5.29">−5</tspan></text>
<text x="432.5" y="97.04" font-size="11.6" text-anchor="end" fill="#1a1a1a"  textLength="19.37" lengthAdjust="spacingAndGlyphs">10<tspan font-size="7.19" dy="-5.29">−7</tspan></text>
<text x="432.5" y="133.43" font-size="11.6" text-anchor="end" fill="#1a1a1a"  textLength="19.37" lengthAdjust="spacingAndGlyphs">10<tspan font-size="7.19" dy="-5.29">−9</tspan></text>
<text x="432.5" y="169.81" font-size="11.6" text-anchor="end" fill="#1a1a1a"  textLength="20.66" lengthAdjust="spacingAndGlyphs">10<tspan font-size="7.19" dy="-5.29">−11</tspan></text>
<text x="432.5" y="206.19" font-size="11.6" text-anchor="end" fill="#1a1a1a"  textLength="22.1" lengthAdjust="spacingAndGlyphs">10<tspan font-size="7.19" dy="-5.29">−13</tspan></text>
<text x="432.5" y="242.58" font-size="11.6" text-anchor="end" fill="#1a1a1a"  textLength="22.1" lengthAdjust="spacingAndGlyphs">10<tspan font-size="7.19" dy="-5.29">−15</tspan></text>
<line x1="441.05" y1="237.6" x2="441.05" y2="241.1" stroke="#4a4a4a" stroke-width="0.9" />
<text x="441.05" y="256.5" font-size="11.8" text-anchor="middle" fill="#1a1a1a"  textLength="17.23" lengthAdjust="spacingAndGlyphs">−15</text>
<line x1="462.1" y1="237.6" x2="462.1" y2="241.1" stroke="#4a4a4a" stroke-width="0.9" />
<text x="462.1" y="256.5" font-size="11.8" text-anchor="middle" fill="#1a1a1a"  textLength="17.7" lengthAdjust="spacingAndGlyphs">−10</text>
<line x1="483.15" y1="237.6" x2="483.15" y2="241.1" stroke="#4a4a4a" stroke-width="0.9" />
<text x="483.15" y="256.5" font-size="11.8" text-anchor="middle" fill="#1a1a1a"  textLength="12.74" lengthAdjust="spacingAndGlyphs">−5</text>
<line x1="504.2" y1="237.6" x2="504.2" y2="241.1" stroke="#4a4a4a" stroke-width="0.9" />
<text x="504.2" y="256.5" font-size="11.8" text-anchor="middle" fill="#1a1a1a"  textLength="7.32" lengthAdjust="spacingAndGlyphs">0</text>
<line x1="525.25" y1="237.6" x2="525.25" y2="241.1" stroke="#4a4a4a" stroke-width="0.9" />
<text x="525.25" y="256.5" font-size="11.8" text-anchor="middle" fill="#1a1a1a"  textLength="6.84" lengthAdjust="spacingAndGlyphs">5</text>
<line x1="546.3" y1="237.6" x2="546.3" y2="241.1" stroke="#4a4a4a" stroke-width="0.9" />
<text x="546.3" y="256.5" font-size="11.8" text-anchor="middle" fill="#1a1a1a"  textLength="11.8" lengthAdjust="spacingAndGlyphs">10</text>
<line x1="567.35" y1="237.6" x2="567.35" y2="241.1" stroke="#4a4a4a" stroke-width="0.9" />
<text x="567.35" y="256.5" font-size="11.8" text-anchor="middle" fill="#1a1a1a"  textLength="11.33" lengthAdjust="spacingAndGlyphs">15</text>
<text x="504.8" y="275" font-size="13.4" text-anchor="middle" fill="#1a1a1a"  textLength="66.4" lengthAdjust="spacingAndGlyphs">Voltage (V)</text>
<text transform="translate(400.4,128.2) rotate(-90)" font-size="13" text-anchor="middle" fill="#1a1a1a" textLength="72.7" lengthAdjust="spacingAndGlyphs">|Current| (A)</text>
<text x="443.8" y="32.2" font-size="11.8" text-anchor="start" fill="#1a1a1a"  textLength="74.5" lengthAdjust="spacingAndGlyphs">CC = 100 µA</text>
</g>
<g>
<text x="607.5" y="19" font-size="18" font-weight="bold" fill="#000" stroke="#000" stroke-width="0.7">c</text>
<path d="M658.8 42.64 L659.5 43.54 L660.2 43.25 L660.9 39.55 L661.6 44.31 L662.3 44.08 L663 41.84 L663.7 42.23 L664.4 39.47 L665.1 40.85 L665.8 43.38 L666.5 43.55 L667.2 42.61 L667.9 39.41 L668.6 40.49 L669.3 44.51 L670 40.9 L670.7 42.2 L671.4 40.46 L672.1 42.99 L672.8 44.05 L673.5 41.28 L674.2 40.16 L674.9 40.97 L675.6 39.42 L676.3 41.16 L677 43.66 L677.7 41.04 L678.4 43.06 L679.1 44.47 L679.8 43.3 L680.5 39.49 L681.2 41.3 L681.9 39.45 L682.6 40.34 L683.3 40.42 L684 44.23 L684.7 41.19 L685.4 42.13 L686.1 39.96 L686.8 43.55 L687.5 39.59 L688.2 39.87 L688.9 42.58 L689.6 41.17 L690.3 42.23 L691 41.05 L691.7 39.81 L692.4 42.98 L693.1 40.24 L693.8 44.53 L694.5 41.51 L695.2 42.49 L695.9 41.77 L696.6 39.69 L697.3 39.57 L698 43.76 L698.7 43.2 L699.4 42.68 L700.1 39.95 L700.8 40.18 L701.5 40.93 L702.2 44.6 L702.9 44.48 L703.6 41.94 L704.3 41.89 L705 41.5 L705.7 41.36 L706.4 44.39 L707.1 42 L707.8 39.86 L708.5 43.47 L709.2 41.28 L709.9 43.43 L710.6 42.85 L711.3 41.29 L712 40.86 L712.7 43.4 L713.4 40.93 L714.1 42.78 L714.8 39.46 L715.5 40.7 L716.2 41.81 L716.9 42.77 L717.6 41.21 L718.3 43.24 L719 41.22 L719.7 43.92 L720.4 44.48 L721.1 42.09 L721.8 40.26 L722.5 44.27 L723.2 43 L723.9 43.2 L724.6 43.46 L725.3 42.86 L726 42.64 L726.7 42.71 L727.4 39.54 L728.1 41.69 L728.8 40.54 L729.5 42.68 L730.2 41.85 L730.9 39.68 L731.6 41.05 L732.3 40.41 L733 41.82 L733.7 42.58 L734.4 40.64 L735.1 39.4 L735.8 40.85 L736.5 40 L737.2 41.34 L737.9 42.59 L738.6 42.24 L739.3 42.42 L740 43.66 L740.7 43.63 L741.4 41.32 L742.1 42.5 L742.8 44.38 L743.5 42.56 L744.2 44.05 L744.9 39.96 L745.6 42.6 L746.3 42.67 L747 41.35 L747.7 40.58 L748.4 44.46 L749.1 44.4 L749.8 42.5 L750.5 44.5 L751.2 41.56 L751.9 44.52 L752.6 40.89 L753.3 40.03 L754 41.71 L754.7 43.46 L755.4 39.47 L756.1 40.82 L756.8 43.47 L757.5 40.79 L758.2 44.54 L758.9 42.56 L759.6 42.75 L760.3 43.27 L761 43.35 L761.7 42.17 L762.4 40.94 L763.1 41.81 L763.8 43.27 L764.5 39.59 L765.2 41.77 L765.9 44.02 L766.6 39.48 L767.3 41.62 L768 43.08 L768.7 41.91 L769.4 41.4 L770.1 43.83 L770.8 40.94 L771.5 39.74 L772.2 43.01 L772.9 40.89 L773.6 44.14 L774.3 41.89 L775 41.99 L775.7 40.2 L776.4 43.62 L777.1 40.6 L777.8 43.52 L777.8 63.12 L777.1 63.81 L776.4 60.5 L775.7 62.78 L775 61.66 L774.3 62.62 L773.6 60.83 L772.9 63.64 L772.2 62.1 L771.5 63.88 L770.8 63.85 L770.1 61.06 L769.4 61.92 L768.7 64.21 L768 62.98 L767.3 62.73 L766.6 63.62 L765.9 62.6 L765.2 64.23 L764.5 61.31 L763.8 62.8 L763.1 61.79 L762.4 62.53 L761.7 61.68 L761 61.52 L760.3 60.72 L759.6 62.86 L758.9 62.29 L758.2 61.49 L757.5 60.88 L756.8 61.28 L756.1 64.32 L755.4 62.54 L754.7 63.84 L754 61.49 L753.3 62.94 L752.6 62.3 L751.9 62.36 L751.2 61.6 L750.5 62.38 L749.8 61.34 L749.1 64.22 L748.4 61.87 L747.7 61.48 L747 62.1 L746.3 64.12 L745.6 60.82 L744.9 62.69 L744.2 60.2 L743.5 61.74 L742.8 64.46 L742.1 62.68 L741.4 60.83 L740.7 63.03 L740 62.04 L739.3 64.42 L738.6 61.69 L737.9 60.62 L737.2 60.36 L736.5 63.86 L735.8 62 L735.1 61.98 L734.4 64.17 L733.7 62.8 L733 61.87 L732.3 60.36 L731.6 61 L730.9 60.79 L730.2 61.2 L729.5 60.38 L728.8 63.22 L728.1 63.06 L727.4 60.9 L726.7 63.37 L726 63.61 L725.3 62.05 L724.6 62.76 L723.9 60.96 L723.2 63.37 L722.5 62.3 L721.8 63.88 L721.1 62.53 L720.4 64.41 L719.7 63.23 L719 63.91 L718.3 63.84 L717.6 63.03 L716.9 63.71 L716.2 63.79 L715.5 63.16 L714.8 62.61 L714.1 62.75 L713.4 64.36 L712.7 63.24 L712 62.34 L711.3 63.3 L710.6 63.54 L709.9 63.26 L709.2 63.66 L708.5 64.02 L707.8 61.4 L707.1 61.69 L706.4 62.96 L705.7 64.55 L705 60.84 L704.3 61.48 L703.6 63.41 L702.9 62.2 L702.2 63.95 L701.5 62.19 L700.8 63.92 L700.1 62.11 L699.4 63.67 L698.7 64.38 L698 60.77 L697.3 62.37 L696.6 64.23 L695.9 62.06 L695.2 63.84 L694.5 61.24 L693.8 62.55 L693.1 60.41 L692.4 64.59 L691.7 60.86 L691 60.98 L690.3 61.57 L689.6 64.27 L688.9 64.24 L688.2 61.7 L687.5 64.36 L686.8 63.98 L686.1 63.49 L685.4 63.61 L684.7 61.76 L684 64.34 L683.3 63.53 L682.6 64.4 L681.9 60.41 L681.2 62.75 L680.5 63.67 L679.8 63.92 L679.1 60.3 L678.4 60.45 L677.7 62.32 L677 62.32 L676.3 61.56 L675.6 63.18 L674.9 62.85 L674.2 60.49 L673.5 60.93 L672.8 61.51 L672.1 64.45 L671.4 64.34 L670.7 63.18 L670 64.43 L669.3 64.04 L668.6 61.15 L667.9 64.03 L667.2 60.76 L666.5 60.81 L665.8 60.9 L665.1 64.23 L664.4 61.15 L663.7 62.73 L663 61.28 L662.3 60.7 L661.6 63.06 L660.9 62.25 L660.2 64.26 L659.5 64.35 L658.8 63.46 Z" fill="#0a0aff" stroke="#0a0aff" stroke-width="0.4" stroke-linejoin="round" stroke-linecap="round" />
<path d="M662.38 24.88h2.16M777.71 23.95h2.12M759.19 24.55h1.35M772.25 24.03h2.14M694.03 24.05h2.47M731.75 24.06h1.66M733.14 24.01h1.07M704.31 23.96h1.12M727.55 24.78h2.19M675.28 24.21h1.69M730.51 24.84h1.78M703.72 24.6h1.09M677.27 24.41h2.01M767.29 24.52h1.89M690.56 24.15h1.88M748.34 24.03h1.83M687.15 24.64h1.59M680.61 24.56h2.14M669.46 23.99h2.07M674.15 24.14h1.95M763.32 24.22h1.77M753.78 24.63h1.05M665.72 24.85h1.24M740.1 24.02h1.36M774.67 24.72h2.06M675.92 24.25h2M687.22 24.51h1.53M700.69 24.04h1.62M757.89 24.7h2.04M710.74 24.42h2.36M729.61 31.58h1.92M730.57 31.58v1M663.29 29.89h1.32M716.38 29.8h2.22M717.49 29.8v2.65M732.8 30.92h1.69M733.64 30.92v1.12M678.21 30.73h1.6M677.39 30.47h1.41M678.09 30.47v1.4M687.23 29.88h1.77M703.1 31.45h2.5M715.28 30.08h2.51M693.87 31.55h2.08M694.91 31.55v1.22M662.31 29.99h1.37M662.99 29.99v2.83M702.54 30.92h1.5M703.29 30.92v2.32M744.47 30.38h1.26M770.85 30.83h2.03M660.1 31.67h1.1M660.65 31.67v0.89M724.37 31.05h2.58M725.66 31.05v1M667.8 30.98h2.44M665.73 29.92h1.39M666.42 29.92v0.93M689.64 30.53h1.65M690.46 30.53v0.88M774.55 31.02h1.29M775.19 31.02v1.91M669.36 30.06h1.5M670.11 30.06v2.72M730.28 30.31h2.37M731.47 30.31v1.92M717.04 30.7h1.91M745.38 30.54h2.46M746.61 30.54v2.52M685.91 30.55h1.19M686.5 30.55v2.41M756.5 30.11h1.5M757.25 30.11v1.31M669.35 31.18h1.69M670.19 31.18v0.93M742.41 30.28h1.08M742.95 30.28v1.58M671.04 30.55h1.67M725.28 31.37h2.43M727.49 31.76h1.71M772.55 31.48h2.16M773.63 31.48v2.49M704.69 29.96h1.21M705.29 29.96v1.35M739.49 29.95h1.46M725.42 29.92h1.04M725.94 29.92v1.54M761.29 31.27h2.52M762.55 31.27v1.69M702.32 29.83h1.53M703.08 29.83v2.52M745.52 31.07h1.15M746.1 31.07v2.28M712.26 31.71h2.5M713.51 31.71v1.46M767.83 30.84h1.74M768.7 30.84v2.4M770.36 32.13h1.85M771.28 32.13v1.02M755.89 29.93h1.67M663.25 36.56h1.92M705.91 36.06h1.34M706.59 36.06v2.69M701.68 35.98h2.2M702.78 35.98v1.63M775.83 37.44h2.34M706.88 37.4h1.23M707.49 37.4v0.93M679.46 37.12h1.16M682.98 36.18h2.28M761.68 37.32h2M762.68 37.32v0.83M720.02 35.84h1.94M720.99 35.84v1.87M662.56 36.32h1.5M663.31 36.32v3.16M706.67 37.36h2.57M741.49 36.69h2.07M702.37 37.03h1.95M703.34 37.03v1.75M668.57 36.25h1.14M669.14 36.25v3.35M744.06 37.63h1.49M744.8 37.63v3.21M667.89 37.01h2.21M765.72 37.41h2.1M731.79 36.64h1.33M687.7 36.71h2.56M688.98 36.71v0.81M705.61 36.97h1.29M767.26 36.33h1.98M768.25 36.33v3.11M724.97 36.3h2.14M684.57 36.04h1.49M765.73 36.92h1.27M685.99 36.76h1.1M763.52 36.4h2.16M764.6 36.4v2.58M766.62 36.07h1.48M773.95 35.47h1.3M774.6 35.47v2.69M730.9 35.86h1.29M731.54 35.86v2.97M741.18 35.55h2.17M742.27 35.55v3.6M772.84 37.44h1.51M769.22 37.07h1.37M715.87 35.86h1.16M716.45 35.86v1.11M677.37 35.65h1.99M746.64 37.33h2.31M768.91 36.9h2.53M671.6 35.55h1.16M672.19 35.55v2.06M713.73 37.18h2.09M714.78 37.18v2.15M723.79 35.68h1.6M724.59 35.68v2.06M740.41 37.71h1.79M667.91 37.13h2.22M669.02 37.13v1.19M716.14 37.17h1.57M704.65 36.6h1.46M752.89 36.11h1.92M753.86 36.11v3.65M720.91 36.41h1.08M721.45 36.41v3.04M668.05 35.63h1.43M668.77 35.63v4.11M723.54 37.64h1.62M724.34 37.64v2M755.48 37.24h1.01M755.98 37.24v0.86M689.09 36.32h1.73M689.96 36.32v0.98M685.27 36.46h2.56M686.55 36.46v1.09M692.45 37.05h2.53M693.71 37.05v0.98M705.91 36.44h2.25M707.04 36.44v3.83M735.84 35.49h2.02M736.85 35.49v3.39M708.35 37.38h2.4M704.23 37.21h2.6M676.93 39.41h2.25M777.22 39.41h1.35M777.89 39.41v2.38M693.32 38.7h2.07M694.35 38.7v2.34M668.12 40.55h1.61M682.65 40.39h1.03M730.36 38.97h1.22M770.51 38.84h1.05M771.03 38.84v1.7M748.73 40.26h1.6M749.53 40.26v2.54M774.94 38.62h2.12M776 38.62v2.96M703.81 39.55h1.59M704.61 39.55v4.05M687.92 39.03h1.91M688.87 39.03v3.26M675.19 40.09h1.77M676.08 40.09v3.39M709.01 39.87h1.81M666 38.49h1.8M666.9 38.49v1.96M661.89 39.48h1.48M768.99 39.67h1.59M770.48 40.77h2.52M771.74 40.77v1.36M769.84 39.48h1.12M722.04 40.62h1.62M722.85 40.62v2.65M757.72 39.24h1.22M758.33 39.24v2.7M683.94 38.54h1.73M684.8 38.54v1.95M676.4 39.03h2.55M677.67 39.03v3.43M747.22 40.39h1.42M705.43 38.99h2.01M706.43 38.99v3.75M711.36 38.82h2.44M712.58 38.82v0.97M747.05 38.42h1.9M748 38.42v3.57M717.97 38.5h2.39M719.16 38.5v1.19M744.85 39.87h1.98M745.84 39.87v3.99M672.52 40.04h1.1M673.07 40.04v1.02M713.92 40.54h2.04M667.58 40.42h2.03M668.59 40.42v3.34M690.02 38.4h1.48M720.5 39.52h2.44M721.72 39.52v1.53M690.58 38.89h2.51M691.83 38.89v1.99M668.73 39.89h1.68M680.08 39.58h1.22M712.37 40.59h1.92M713.33 40.59v1.7M717.89 40.56h1.86M718.82 40.56v3.03M709.1 40.41h2.25M710.23 40.41v1.16M690.08 40.54h1.57M690.87 40.54v2.91M735.3 38.68h2.53M699.24 39.92h1.16M728.41 40.73h1.08M728.95 40.73v2.94M745.19 39.38h1.42M745.9 39.38v1.12M666.99 39.39h2.15M666.79 38.83h1.48M753.08 39.62h2.43M754.29 39.62v2.2M686.17 39.76h1.04M686.69 39.76v1.16M720 40.67h2.49M721.25 40.67v1.15M750.49 39.69h1.18M751.08 39.69v4.12M723.7 39.05h1.7M724.55 39.05v4.07M710.08 39.64h1.33M704.61 40.6h2.01M705.62 40.6v3.52M722.07 38.53h1.22M714.6 40.6h1.71M715.45 40.6v2.48M693.04 39.01h2.19M694.14 39.01v3.35M731.06 38.89h1.21M745.78 40.79h1.16M746.37 40.79v1.36M669.99 39.89h1.71M678.7 38.65h2.12M679.76 38.65v1.65M701.59 40.13h1.08M702.13 40.13v3.37M699.24 39.93h1.95M700.22 39.93v3.74M768.36 39.2h1.45M675.1 39.4h1.67M674.56 40.22h2.05M659.48 39.15h2.51M737.76 40.41h1.67M699.64 39.61h2.17M732.19 38.78h2.27M733.33 38.78v0.8M753.11 40.41h2.23M754.23 40.41v2.6M722.51 17.6h1.3" stroke="#0a0aff" stroke-width="1.35" fill="none"/>
<path d="M658.8 218.19 L659.63 215.74 L660.46 215.97 L661.29 216.18 L662.12 216.12 L662.95 215.65 L663.79 215.71 L664.62 216.06 L665.45 215.69 L666.28 215.77 L667.11 215.9 L667.94 215.71 L668.77 215.92 L669.6 215.84 L670.43 215.94 L671.26 215.5 L672.1 215.48 L672.93 215.31 L673.76 215.38 L674.59 215.33 L675.42 215.32 L676.25 214.97 L677.08 215.09 L677.91 214.86 L678.74 214.66 L679.57 214.75 L680.41 214.52 L681.24 214.8 L682.07 214.61 L682.9 214.2 L683.73 214.56 L684.56 214.57 L685.39 214.56 L686.22 214.11 L687.05 214.5 L687.88 214.31 L688.72 214.35 L689.55 214.19 L690.38 214.44 L691.21 214.48 L692.04 214.85 L692.87 214.49 L693.7 214.59 L694.53 214.78 L695.36 214.75 L696.19 214.98 L697.03 215.01 L697.86 215.03 L698.69 215.25 L699.52 215.69 L700.35 215.26 L701.18 215.27 L702.01 215.79 L702.84 215.93 L703.67 215.82 L704.5 216 L705.34 215.88 L706.17 216.08 L707 216.03 L707.83 216.18 L708.66 215.95 L709.49 216.04 L710.32 215.8 L711.15 216.01 L711.98 216.15 L712.81 215.7 L713.65 215.73 L714.48 215.86 L715.31 216.14 L716.14 216.03 L716.97 216 L717.8 216.03 L718.63 216.25 L719.46 215.99 L720.29 215.8 L721.12 215.84 L721.96 215.73 L722.79 215.81 L723.62 215.75 L724.45 215.65 L725.28 215.59 L726.11 215.62 L726.94 215.79 L727.77 215.58 L728.6 215.51 L729.43 215.29 L730.27 215.29 L731.1 215.35 L731.93 215.38 L732.76 215.18 L733.59 215.1 L734.42 214.72 L735.25 214.54 L736.08 214.77 L736.91 214.47 L737.74 214.2 L738.58 214.41 L739.41 214.53 L740.24 214.2 L741.07 214.35 L741.9 214.51 L742.73 214.48 L743.56 214.72 L744.39 214.73 L745.22 214.67 L746.05 214.98 L746.89 215.16 L747.72 214.96 L748.55 214.85 L749.38 215.04 L750.21 215.45 L751.04 215.2 L751.87 215.79 L752.7 215.83 L753.53 215.99 L754.37 216.02 L755.2 215.75 L756.03 215.7 L756.86 215.9 L757.69 215.73 L758.52 215.96 L759.35 215.21 L760.18 215.4 L761.01 215.45 L761.84 215.67 L762.67 215.53 L763.51 215.52 L764.34 215.3 L765.17 215.65 L766 215.61 L766.83 215.3 L767.66 215.74 L768.49 215.47 L769.32 215.66 L770.15 215.39 L770.98 215.44 L771.82 215.73 L772.65 215.36 L773.48 215.55 L774.31 215.6 L775.14 215.28 L775.97 215.33 L776.8 215.6 L777.63 215.39 L778.46 215.71" fill="none" stroke="#1ed61e" stroke-width="2.0" stroke-linejoin="round" stroke-linecap="round" />
<rect x="657.7" y="15.7" width="126" height="220.9" fill="none" stroke="#7a7a7a" stroke-width="1"/>
<path d="M652.7 15.7H657.7M654.7 32.86H657.7M654.7 28.53H657.7M654.7 25.47H657.7M654.7 23.09H657.7M654.7 21.15H657.7M654.7 19.5H657.7M654.7 18.08H657.7M654.7 16.82H657.7M652.9 40.24H657.7M654.7 57.4H657.7M654.7 53.08H657.7M654.7 50.01H657.7M654.7 47.63H657.7M654.7 45.69H657.7M654.7 44.05H657.7M654.7 42.62H657.7M654.7 41.37H657.7M652.7 64.79H657.7M654.7 81.94H657.7M654.7 77.62H657.7M654.7 74.56H657.7M654.7 72.18H657.7M654.7 70.23H657.7M654.7 68.59H657.7M654.7 67.17H657.7M654.7 65.91H657.7M652.9 89.33H657.7M654.7 106.49H657.7M654.7 102.17H657.7M654.7 99.1H657.7M654.7 96.72H657.7M654.7 94.78H657.7M654.7 93.14H657.7M654.7 91.71H657.7M654.7 90.46H657.7M652.7 113.88H657.7M654.7 131.03H657.7M654.7 126.71H657.7M654.7 123.64H657.7M654.7 121.27H657.7M654.7 119.32H657.7M654.7 117.68H657.7M654.7 116.26H657.7M654.7 115H657.7M652.9 138.42H657.7M654.7 155.58H657.7M654.7 151.26H657.7M654.7 148.19H657.7M654.7 145.81H657.7M654.7 143.87H657.7M654.7 142.22H657.7M654.7 140.8H657.7M654.7 139.55H657.7M652.7 162.97H657.7M654.7 180.12H657.7M654.7 175.8H657.7M654.7 172.73H657.7M654.7 170.36H657.7M654.7 168.41H657.7M654.7 166.77H657.7M654.7 165.35H657.7M654.7 164.09H657.7M652.9 187.51H657.7M654.7 204.67H657.7M654.7 200.34H657.7M654.7 197.28H657.7M654.7 194.9H657.7M654.7 192.96H657.7M654.7 191.31H657.7M654.7 189.89H657.7M654.7 188.63H657.7M652.7 212.06H657.7M654.7 229.21H657.7M654.7 224.89H657.7M654.7 221.82H657.7M654.7 219.44H657.7M654.7 217.5H657.7M654.7 215.86H657.7M654.7 214.43H657.7M654.7 213.18H657.7M652.9 236.6H657.7" stroke="#6a6a6a" stroke-width="0.8" fill="none"/>
<text x="649.7" y="240.56" font-size="11" text-anchor="end" fill="#1a1a1a"  textLength="15.21" lengthAdjust="spacingAndGlyphs">10<tspan font-size="7.26" dy="-4.84">5</tspan></text>
<text x="649.7" y="191.47" font-size="11" text-anchor="end" fill="#1a1a1a"  textLength="15.21" lengthAdjust="spacingAndGlyphs">10<tspan font-size="7.26" dy="-4.84">7</tspan></text>
<text x="649.7" y="142.38" font-size="11" text-anchor="end" fill="#1a1a1a"  textLength="15.21" lengthAdjust="spacingAndGlyphs">10<tspan font-size="7.26" dy="-4.84">9</tspan></text>
<text x="649.7" y="93.29" font-size="11" text-anchor="end" fill="#1a1a1a"  textLength="16.52" lengthAdjust="spacingAndGlyphs">10<tspan font-size="7.26" dy="-4.84">11</tspan></text>
<text x="649.7" y="44.2" font-size="11" text-anchor="end" fill="#1a1a1a"  textLength="17.97" lengthAdjust="spacingAndGlyphs">10<tspan font-size="7.26" dy="-4.84">13</tspan></text>
<line x1="658.8" y1="236.6" x2="658.8" y2="240.1" stroke="#7a7a7a" stroke-width="0.9" />
<text x="658.8" y="257.8" font-size="11" text-anchor="middle" fill="#1a1a1a"  textLength="6.82" lengthAdjust="spacingAndGlyphs">0</text>
<line x1="714.2" y1="236.6" x2="714.2" y2="240.1" stroke="#7a7a7a" stroke-width="0.9" />
<text x="714.2" y="257.8" font-size="11" text-anchor="middle" fill="#1a1a1a"  textLength="36.3" lengthAdjust="spacingAndGlyphs">20,000</text>
<line x1="769.6" y1="236.6" x2="769.6" y2="240.1" stroke="#7a7a7a" stroke-width="0.9" />
<text x="769.6" y="257.8" font-size="11" text-anchor="middle" fill="#1a1a1a"  textLength="36.3" lengthAdjust="spacingAndGlyphs">40,000</text>
<text x="720.6" y="276" font-size="13" text-anchor="middle" fill="#1a1a1a"  textLength="106.3" lengthAdjust="spacingAndGlyphs">Retention time (s)</text>
<text transform="translate(617.5,126.3) rotate(-90)" font-size="13" text-anchor="middle" fill="#1a1a1a" textLength="85.5" lengthAdjust="spacingAndGlyphs">Resistance (Ω)</text>
<line x1="675.3" y1="69.4" x2="675.3" y2="210.8" stroke="#1a1a1a" stroke-width="1.1" marker-end="url(#ar)" marker-start="url(#ar)"/>
<text x="682.6" y="79.8" font-size="11" text-anchor="start" fill="#1a1a1a"  textLength="20.5" lengthAdjust="spacingAndGlyphs">HRS</text>
<text x="681.6" y="209.4" font-size="11" text-anchor="start" fill="#1a1a1a"  textLength="19" lengthAdjust="spacingAndGlyphs">LRS</text>
<text x="682" y="145.3" font-size="11" text-anchor="start" fill="#1a1a1a"  textLength="22.5" lengthAdjust="spacingAndGlyphs">&gt;10<tspan font-size="7.26" dy="-4.84">6</tspan></text>
</g>
<g>
<text x="388.3" y="310.3" font-size="18" font-weight="bold" fill="#000" stroke="#000" stroke-width="0.7">d</text>
<defs><filter id="nz" x="0" y="0" width="100%" height="100%" color-interpolation-filters="sRGB"><feTurbulence type="fractalNoise" baseFrequency="0.62" numOctaves="2" seed="3" result="t"/><feColorMatrix in="t" type="matrix" values="2.6 0 0 0 -0.8  2.6 0 0 0 -0.8  2.6 0 0 0 -0.8  0 0 0 0 1"/></filter><filter id="bl"><feGaussianBlur stdDeviation="0.55"/></filter></defs>
<rect x="414.9" y="304.6" width="109.8" height="108.9" fill="#909090"/>
<g filter="url(#bl)">
<circle cx="424.3" cy="314.6" r="6.3" fill="none" stroke="#dedede" stroke-width="1.7"/>
<circle cx="424.3" cy="314.6" r="4.5" fill="#929292" stroke="#2e2e2e" stroke-width="1.35"/>
<circle cx="446.55" cy="314.6" r="6.3" fill="none" stroke="#dedede" stroke-width="1.7"/>
<circle cx="446.55" cy="314.6" r="4.5" fill="#929292" stroke="#2e2e2e" stroke-width="1.35"/>
<circle cx="468.8" cy="314.6" r="6.3" fill="none" stroke="#dedede" stroke-width="1.7"/>
<circle cx="468.8" cy="314.6" r="4.5" fill="#929292" stroke="#2e2e2e" stroke-width="1.35"/>
<circle cx="424.3" cy="336.45" r="6.3" fill="none" stroke="#dedede" stroke-width="1.7"/>
<circle cx="424.3" cy="336.45" r="4.5" fill="#929292" stroke="#2e2e2e" stroke-width="1.35"/>
<circle cx="446.55" cy="336.45" r="6.3" fill="none" stroke="#dedede" stroke-width="1.7"/>
<circle cx="446.55" cy="336.45" r="4.5" fill="#929292" stroke="#2e2e2e" stroke-width="1.35"/>
<circle cx="468.8" cy="336.45" r="6.3" fill="none" stroke="#dedede" stroke-width="1.7"/>
<circle cx="468.8" cy="336.45" r="4.5" fill="#929292" stroke="#2e2e2e" stroke-width="1.35"/>
<circle cx="424.3" cy="358.3" r="6.3" fill="none" stroke="#dedede" stroke-width="1.7"/>
<circle cx="424.3" cy="358.3" r="4.5" fill="#929292" stroke="#2e2e2e" stroke-width="1.35"/>
<circle cx="446.55" cy="358.3" r="6.3" fill="none" stroke="#dedede" stroke-width="1.7"/>
<circle cx="446.55" cy="358.3" r="4.5" fill="#929292" stroke="#2e2e2e" stroke-width="1.35"/>
<circle cx="468.8" cy="358.3" r="6.3" fill="none" stroke="#dedede" stroke-width="1.7"/>
<circle cx="468.8" cy="358.3" r="4.5" fill="#929292" stroke="#2e2e2e" stroke-width="1.35"/>
<circle cx="491.05" cy="358.3" r="6.3" fill="none" stroke="#dedede" stroke-width="1.7"/>
<circle cx="491.05" cy="358.3" r="4.5" fill="#929292" stroke="#2e2e2e" stroke-width="1.35"/>
<circle cx="513.3" cy="358.3" r="6.3" fill="none" stroke="#dedede" stroke-width="1.7"/>
<circle cx="513.3" cy="358.3" r="4.5" fill="#929292" stroke="#2e2e2e" stroke-width="1.35"/>
<circle cx="424.3" cy="380.15" r="6.3" fill="none" stroke="#dedede" stroke-width="1.7"/>
<circle cx="424.3" cy="380.15" r="4.5" fill="#929292" stroke="#2e2e2e" stroke-width="1.35"/>
<circle cx="446.55" cy="380.15" r="6.3" fill="none" stroke="#dedede" stroke-width="1.7"/>
<circle cx="446.55" cy="380.15" r="4.5" fill="#929292" stroke="#2e2e2e" stroke-width="1.35"/>
<circle cx="468.8" cy="380.15" r="6.3" fill="none" stroke="#dedede" stroke-width="1.7"/>
<circle cx="468.8" cy="380.15" r="4.5" fill="#929292" stroke="#2e2e2e" stroke-width="1.35"/>
<circle cx="491.05" cy="380.15" r="6.3" fill="none" stroke="#dedede" stroke-width="1.7"/>
<circle cx="491.05" cy="380.15" r="4.5" fill="#929292" stroke="#2e2e2e" stroke-width="1.35"/>
<circle cx="513.3" cy="380.15" r="6.3" fill="none" stroke="#dedede" stroke-width="1.7"/>
<circle cx="513.3" cy="380.15" r="4.5" fill="#929292" stroke="#2e2e2e" stroke-width="1.35"/>
<circle cx="424.3" cy="402" r="6.3" fill="none" stroke="#dedede" stroke-width="1.7"/>
<circle cx="424.3" cy="402" r="4.5" fill="#929292" stroke="#2e2e2e" stroke-width="1.35"/>
<circle cx="446.55" cy="402" r="6.3" fill="none" stroke="#dedede" stroke-width="1.7"/>
<circle cx="446.55" cy="402" r="4.5" fill="#929292" stroke="#2e2e2e" stroke-width="1.35"/>
<circle cx="468.8" cy="402" r="6.3" fill="none" stroke="#dedede" stroke-width="1.7"/>
<circle cx="468.8" cy="402" r="4.5" fill="#929292" stroke="#2e2e2e" stroke-width="1.35"/>
<circle cx="491.05" cy="402" r="6.3" fill="none" stroke="#dedede" stroke-width="1.7"/>
<circle cx="491.05" cy="402" r="4.5" fill="#929292" stroke="#2e2e2e" stroke-width="1.35"/>
<circle cx="513.3" cy="402" r="6.3" fill="none" stroke="#dedede" stroke-width="1.7"/>
<circle cx="513.3" cy="402" r="4.5" fill="#929292" stroke="#2e2e2e" stroke-width="1.35"/>
</g>
<rect x="414.9" y="304.6" width="109.8" height="108.9" filter="url(#nz)" opacity="0.17"/>
<clipPath id="ci"><rect x="478.3" y="304.2" width="46.4" height="45.4"/></clipPath>
<g clip-path="url(#ci)">
<rect x="478.3" y="304.2" width="46.4" height="45.4" fill="#3f3f3f"/>
<circle cx="501.8" cy="327.2" r="21.3" fill="#525252" stroke="#646464" stroke-width="1.4"/>
<circle cx="501.8" cy="327.2" r="17.2" fill="#484848"/>
<rect x="478.3" y="304.2" width="46.4" height="45.4" filter="url(#nz)" opacity="0.06"/>
<circle cx="501.8" cy="327.3" r="15.6" fill="#ad3273" stroke="#6e3a55" stroke-width="0.7"/>
<circle cx="495.5" cy="331.5" r="0.6" fill="#7d1f4b"/><circle cx="507" cy="322" r="0.5" fill="#8a2554"/>
</g>
<rect x="515.6" y="344.8" width="6.6" height="3.8" fill="#fff"/>
</g>
<g>
<text x="561.8" y="310.2" font-size="18" font-weight="bold" fill="#000" stroke="#000" stroke-width="0.7">e</text>
<text x="609.3" y="318.2" font-size="13" text-anchor="start" fill="#1a1a1a"  textLength="86" lengthAdjust="spacingAndGlyphs">Resistance (Ω)</text>
<text x="707.2" y="308.4" font-size="11.5" text-anchor="start" fill="#1a1a1a"  textLength="15.6" lengthAdjust="spacingAndGlyphs">10<tspan font-size="7.59" dy="-5.06">6</tspan></text>
<text x="757.6" y="308.4" font-size="11.5" text-anchor="start" fill="#1a1a1a"  textLength="18" lengthAdjust="spacingAndGlyphs">10<tspan font-size="7.59" dy="-5.06">13</tspan></text>
<rect x="714.7" y="316.6" width="7.61" height="4.8" fill="#e8201a"/>
<rect x="722.11" y="316.6" width="7.61" height="4.8" fill="#b81f3e"/>
<rect x="729.53" y="316.6" width="7.61" height="4.8" fill="#8e2363"/>
<rect x="736.94" y="316.6" width="7.61" height="4.8" fill="#5b2a86"/>
<rect x="744.36" y="316.6" width="7.61" height="4.8" fill="#323896"/>
<rect x="751.77" y="316.6" width="7.61" height="4.8" fill="#2a3d9a"/>
<rect x="759.19" y="316.6" width="7.61" height="4.8" fill="#1f52a8"/>
<rect x="714.7" y="316.6" width="51.9" height="4.8" fill="none" stroke="#555" stroke-width="0.5"/>
<line x1="714.7" y1="314.4" x2="714.7" y2="316.6" stroke="#555" stroke-width="0.6" />
<line x1="722.11" y1="314.4" x2="722.11" y2="316.6" stroke="#555" stroke-width="0.6" />
<line x1="729.53" y1="314.4" x2="729.53" y2="316.6" stroke="#555" stroke-width="0.6" />
<line x1="736.94" y1="314.4" x2="736.94" y2="316.6" stroke="#555" stroke-width="0.6" />
<line x1="744.36" y1="314.4" x2="744.36" y2="316.6" stroke="#555" stroke-width="0.6" />
<line x1="751.77" y1="314.4" x2="751.77" y2="316.6" stroke="#555" stroke-width="0.6" />
<line x1="759.19" y1="314.4" x2="759.19" y2="316.6" stroke="#555" stroke-width="0.6" />
<line x1="766.6" y1="314.4" x2="766.6" y2="316.6" stroke="#555" stroke-width="0.6" />
<rect x="561.2" y="327.4" width="42.3" height="40.8" fill="#2b3990"/>
<rect x="561.2" y="327.4" width="16.92" height="8.16" fill="#4a2d8e"/>
<rect x="578.12" y="351.88" width="8.46" height="8.16" fill="#4a2d8e"/>
<rect x="578.12" y="343.72" width="8.46" height="8.16" fill="#1c55a6"/>
<rect x="595.04" y="343.72" width="8.46" height="8.16" fill="#1c55a6"/>
<rect x="578.12" y="360.04" width="8.46" height="8.16" fill="#1c55a6"/>
<rect x="561.65" y="327.85" width="41.4" height="39.9" fill="none" stroke="#1b2480" stroke-width="0.9"/>
<rect x="606.3" y="327.4" width="42.3" height="40.8" fill="#2b3990"/>
<rect x="623.22" y="327.4" width="8.46" height="8.16" fill="#4a2d8e"/>
<rect x="640.14" y="360.04" width="8.46" height="8.16" fill="#4a2d8e"/>
<rect x="606.75" y="327.85" width="41.4" height="39.9" fill="none" stroke="#1b2480" stroke-width="0.9"/>
<rect x="651.8" y="327.4" width="42.3" height="40.8" fill="#2b3990"/>
<rect x="685.64" y="335.56" width="8.46" height="8.16" fill="#4a2d8e"/>
<rect x="677.18" y="343.72" width="16.92" height="8.16" fill="#4a2d8e"/>
<rect x="677.18" y="360.04" width="8.46" height="8.16" fill="#4a2d8e"/>
<rect x="685.64" y="335.56" width="8.46" height="16.32" fill="#4a2d8e"/>
<rect x="668.72" y="335.56" width="8.46" height="8.16" fill="#1c55a6"/>
<rect x="652.25" y="327.85" width="41.4" height="39.9" fill="none" stroke="#1b2480" stroke-width="0.9"/>
<rect x="696.8" y="327.4" width="42.3" height="40.8" fill="#2b3990"/>
<rect x="730.64" y="327.4" width="8.46" height="8.16" fill="#4a2d8e"/>
<rect x="696.8" y="343.72" width="8.46" height="8.16" fill="#4a2d8e"/>
<rect x="730.64" y="343.72" width="8.46" height="8.16" fill="#1c55a6"/>
<rect x="697.25" y="327.85" width="41.4" height="39.9" fill="none" stroke="#1b2480" stroke-width="0.9"/>
<rect x="742" y="327.4" width="42.3" height="40.8" fill="#2b3990"/>
<rect x="758.92" y="327.4" width="8.46" height="8.16" fill="#4a2d8e"/>
<rect x="742" y="351.88" width="8.46" height="8.16" fill="#4a2d8e"/>
<rect x="775.84" y="327.4" width="8.46" height="8.16" fill="#1c55a6"/>
<rect x="775.84" y="343.72" width="8.46" height="8.16" fill="#1c55a6"/>
<rect x="742" y="360.04" width="8.46" height="8.16" fill="#1c55a6"/>
<rect x="742.45" y="327.85" width="41.4" height="39.9" fill="none" stroke="#1b2480" stroke-width="0.9"/>
<rect x="561.2" y="373.4" width="42.3" height="40.8" fill="#2b3990"/>
<rect x="569.66" y="373.4" width="8.46" height="8.16" fill="#4a2d8e"/>
<rect x="578.12" y="397.88" width="8.46" height="8.16" fill="#4a2d8e"/>
<rect x="595.04" y="389.72" width="8.46" height="8.16" fill="#1c55a6"/>
<rect x="578.12" y="406.04" width="8.46" height="8.16" fill="#1c55a6"/>
<rect x="561.2" y="373.4" width="8.46" height="8.16" fill="#e8221b"/>
<rect x="586.58" y="373.4" width="8.46" height="8.16" fill="#e8221b"/>
<rect x="561.2" y="381.56" width="8.46" height="8.16" fill="#e8221b"/>
<rect x="578.12" y="381.56" width="8.46" height="8.16" fill="#e8221b"/>
<rect x="561.2" y="389.72" width="33.84" height="8.16" fill="#e8221b"/>
<rect x="561.2" y="397.88" width="8.46" height="8.16" fill="#e8221b"/>
<rect x="595.04" y="397.88" width="8.46" height="8.16" fill="#e8221b"/>
<rect x="561.2" y="406.04" width="8.46" height="8.16" fill="#e8221b"/>
<rect x="595.04" y="406.04" width="8.46" height="8.16" fill="#e8221b"/>
<rect x="561.2" y="373.4" width="8.46" height="40.8" fill="#e8221b"/>
<rect x="578.12" y="381.56" width="8.46" height="16.32" fill="#e8221b"/>
<rect x="595.04" y="397.88" width="8.46" height="16.32" fill="#e8221b"/>
<rect x="606.3" y="373.4" width="42.3" height="40.8" fill="#2b3990"/>
<rect x="614.76" y="373.4" width="25.38" height="8.16" fill="#e8221b"/>
<rect x="606.3" y="381.56" width="8.46" height="8.16" fill="#e8221b"/>
<rect x="640.14" y="381.56" width="8.46" height="8.16" fill="#e8221b"/>
<rect x="606.3" y="389.72" width="42.3" height="8.16" fill="#e8221b"/>
<rect x="606.3" y="397.88" width="8.46" height="8.16" fill="#e8221b"/>
<rect x="640.14" y="397.88" width="8.46" height="8.16" fill="#e8221b"/>
<rect x="606.3" y="406.04" width="8.46" height="8.16" fill="#e8221b"/>
<rect x="640.14" y="406.04" width="8.46" height="8.16" fill="#e8221b"/>
<rect x="606.3" y="381.56" width="8.46" height="32.64" fill="#e8221b"/>
<rect x="640.14" y="381.56" width="8.46" height="32.64" fill="#e8221b"/>
<rect x="651.8" y="373.4" width="42.3" height="40.8" fill="#2b3990"/>
<rect x="677.18" y="389.72" width="8.46" height="8.16" fill="#4a2d8e"/>
<rect x="668.72" y="381.56" width="8.46" height="8.16" fill="#1c55a6"/>
<rect x="651.8" y="373.4" width="8.46" height="8.16" fill="#e8221b"/>
<rect x="685.64" y="373.4" width="8.46" height="8.16" fill="#e8221b"/>
<rect x="651.8" y="381.56" width="8.46" height="8.16" fill="#e8221b"/>
<rect x="685.64" y="381.56" width="8.46" height="8.16" fill="#e8221b"/>
<rect x="651.8" y="389.72" width="8.46" height="8.16" fill="#e8221b"/>
<rect x="685.64" y="389.72" width="8.46" height="8.16" fill="#e8221b"/>
<rect x="651.8" y="397.88" width="8.46" height="8.16" fill="#e8221b"/>
<rect x="685.64" y="397.88" width="8.46" height="8.16" fill="#e8221b"/>
<rect x="660.26" y="406.04" width="25.38" height="8.16" fill="#e8221b"/>
<rect x="651.8" y="373.4" width="8.46" height="32.64" fill="#e8221b"/>
<rect x="685.64" y="373.4" width="8.46" height="32.64" fill="#e8221b"/>
<rect x="696.8" y="373.4" width="42.3" height="40.8" fill="#2b3990"/>
<rect x="696.8" y="389.72" width="8.46" height="8.16" fill="#4a2d8e"/>
<rect x="730.64" y="389.72" width="8.46" height="8.16" fill="#1c55a6"/>
<rect x="705.26" y="373.4" width="33.84" height="8.16" fill="#e8221b"/>
<rect x="696.8" y="381.56" width="8.46" height="8.16" fill="#e8221b"/>
<rect x="705.26" y="389.72" width="25.38" height="8.16" fill="#e8221b"/>
<rect x="730.64" y="397.88" width="8.46" height="8.16" fill="#e8221b"/>
<rect x="696.8" y="406.04" width="33.84" height="8.16" fill="#e8221b"/>
<rect x="742" y="373.4" width="42.3" height="40.8" fill="#2b3990"/>
<rect x="742" y="397.88" width="8.46" height="8.16" fill="#4a2d8e"/>
<rect x="775.84" y="389.72" width="8.46" height="8.16" fill="#1c55a6"/>
<rect x="742" y="406.04" width="8.46" height="8.16" fill="#1c55a6"/>
<rect x="742" y="373.4" width="42.3" height="8.16" fill="#e8221b"/>
<rect x="758.92" y="381.56" width="8.46" height="8.16" fill="#e8221b"/>
<rect x="758.92" y="389.72" width="8.46" height="8.16" fill="#e8221b"/>
<rect x="758.92" y="397.88" width="8.46" height="8.16" fill="#e8221b"/>
<rect x="758.92" y="406.04" width="8.46" height="8.16" fill="#e8221b"/>
<rect x="758.92" y="373.4" width="8.46" height="40.8" fill="#e8221b"/>
</g>
<g>
<text x="22.3" y="450" font-size="18" font-weight="bold" fill="#000" stroke="#000" stroke-width="0.7">f</text>
<defs><pattern id="hb" width="2" height="2" patternUnits="userSpaceOnUse" patternTransform="rotate(-50)"><rect width="2" height="2" fill="#eef0ff"/><rect width="2" height="0.75" fill="#6f78ff"/></pattern><pattern id="hr" width="2" height="2" patternUnits="userSpaceOnUse" patternTransform="rotate(-50)"><rect width="2" height="2" fill="#fff0f0"/><rect width="2" height="0.7" fill="#ff7f7f"/></pattern></defs>
<rect x="55" y="627.93" width="6.7" height="11.07" fill="url(#hb)" stroke="#7d86ff" stroke-width="0.5"/>
<rect x="61.7" y="619.93" width="6.7" height="19.07" fill="url(#hb)" stroke="#7d86ff" stroke-width="0.5"/>
<rect x="68.4" y="587.65" width="6.7" height="51.35" fill="url(#hb)" stroke="#7d86ff" stroke-width="0.5"/>
<rect x="75.1" y="587.65" width="6.7" height="51.35" fill="url(#hb)" stroke="#7d86ff" stroke-width="0.5"/>
<rect x="81.8" y="589.8" width="6.7" height="49.2" fill="url(#hb)" stroke="#7d86ff" stroke-width="0.5"/>
<rect x="88.5" y="595.64" width="6.7" height="43.36" fill="url(#hb)" stroke="#7d86ff" stroke-width="0.5"/>
<rect x="95.2" y="608.87" width="6.7" height="30.13" fill="url(#hb)" stroke="#7d86ff" stroke-width="0.5"/>
<rect x="101.9" y="619.93" width="6.7" height="19.07" fill="url(#hb)" stroke="#7d86ff" stroke-width="0.5"/>
<rect x="108.6" y="631.31" width="6.7" height="7.69" fill="url(#hb)" stroke="#7d86ff" stroke-width="0.5"/>
<rect x="115.3" y="637.46" width="6.7" height="1.54" fill="url(#hb)" stroke="#7d86ff" stroke-width="0.5"/>
<rect x="131.7" y="631.31" width="9.5" height="7.69" fill="url(#hr)" stroke="#ff8c8c" stroke-width="0.5"/>
<rect x="141.2" y="616.25" width="9.5" height="22.75" fill="url(#hr)" stroke="#ff8c8c" stroke-width="0.5"/>
<rect x="150.7" y="575.65" width="9.5" height="63.34" fill="url(#hr)" stroke="#ff8c8c" stroke-width="0.5"/>
<rect x="160.2" y="502.16" width="9.5" height="136.84" fill="url(#hr)" stroke="#ff8c8c" stroke-width="0.5"/>
<rect x="169.7" y="588.26" width="9.5" height="50.74" fill="url(#hr)" stroke="#ff8c8c" stroke-width="0.5"/>
<rect x="179.2" y="635" width="9.5" height="4" fill="url(#hr)" stroke="#ff8c8c" stroke-width="0.5"/>
<path d="M58.25 626.47 C58.5 626.06 59.25 624.89 59.75 624.03 C60.25 623.17 60.75 622.26 61.25 621.31 C61.75 620.36 62.25 619.37 62.75 618.34 C63.25 617.31 63.75 616.23 64.25 615.14 C64.75 614.04 65.25 612.9 65.75 611.75 C66.25 610.6 66.75 609.41 67.25 608.23 C67.75 607.04 68.25 605.84 68.75 604.64 C69.25 603.45 69.75 602.25 70.25 601.07 C70.75 599.9 71.25 598.73 71.75 597.61 C72.25 596.48 72.75 595.37 73.25 594.33 C73.75 593.28 74.25 592.27 74.75 591.33 C75.25 590.4 75.75 589.51 76.25 588.71 C76.75 587.91 77.25 587.18 77.75 586.54 C78.25 585.9 78.75 585.34 79.25 584.89 C79.75 584.44 80.25 584.07 80.75 583.82 C81.25 583.56 81.75 583.41 82.25 583.36 C82.75 583.31 83.25 583.37 83.75 583.53 C84.25 583.69 84.75 583.95 85.25 584.32 C85.75 584.68 86.25 585.15 86.75 585.7 C87.25 586.26 87.75 586.91 88.25 587.64 C88.75 588.36 89.25 589.18 89.75 590.06 C90.25 590.93 90.75 591.89 91.25 592.89 C91.75 593.89 92.25 594.96 92.75 596.05 C93.25 597.14 93.75 598.28 94.25 599.44 C94.75 600.59 95.25 601.78 95.75 602.97 C96.25 604.16 96.75 605.37 97.25 606.56 C97.75 607.75 98.25 608.95 98.75 610.12 C99.25 611.29 99.75 612.45 100.25 613.57 C100.75 614.7 101.25 615.81 101.75 616.87 C102.25 617.93 102.75 618.97 103.25 619.96 C103.75 620.94 104.25 621.89 104.75 622.8 C105.25 623.7 105.75 624.56 106.25 625.37 C106.75 626.18 107.25 626.94 107.75 627.66 C108.25 628.38 108.75 629.05 109.25 629.67 C109.75 630.3 110.25 630.88 110.75 631.41 C111.25 631.95 111.75 632.44 112.25 632.9 C112.75 633.36 113.25 633.77 113.75 634.15 C114.25 634.53 114.75 634.87 115.25 635.19 C115.75 635.5 116.25 635.78 116.75 636.04 C117.25 636.29 117.75 636.52 118.25 636.72 C118.75 636.93 119.25 637.11 119.75 637.27 C120.25 637.43 121 637.63 121.25 637.7" fill="none" stroke="#0a14ff" stroke-width="1.7" stroke-linejoin="round" stroke-linecap="round" />
<path d="M127 638.96 C127.17 638.95 127.67 638.94 128 638.93 C128.33 638.92 128.67 638.91 129 638.89 C129.33 638.87 129.67 638.86 130 638.83 C130.33 638.81 130.67 638.78 131 638.74 C131.33 638.71 131.67 638.66 132 638.61 C132.33 638.56 132.67 638.5 133 638.42 C133.33 638.34 133.67 638.26 134 638.15 C134.33 638.04 134.67 637.92 135 637.76 C135.33 637.61 135.67 637.44 136 637.23 C136.33 637.02 136.67 636.79 137 636.51 C137.33 636.23 137.67 635.91 138 635.54 C138.33 635.16 138.67 634.75 139 634.25 C139.33 633.76 139.67 633.22 140 632.58 C140.33 631.95 140.67 631.25 141 630.44 C141.33 629.64 141.67 628.75 142 627.74 C142.33 626.74 142.67 625.64 143 624.4 C143.33 623.16 143.67 621.81 144 620.32 C144.33 618.83 144.67 617.21 145 615.43 C145.33 613.65 145.67 611.74 146 609.67 C146.33 607.6 146.67 605.37 147 603 C147.33 600.63 147.67 598.09 148 595.42 C148.33 592.75 148.67 589.92 149 586.98 C149.33 584.03 149.67 580.93 150 577.75 C150.33 574.56 150.67 571.24 151 567.87 C151.33 564.5 151.67 561.02 152 557.54 C152.33 554.06 152.67 550.5 153 546.99 C153.33 543.48 153.67 539.93 154 536.5 C154.33 533.06 154.67 529.64 155 526.38 C155.33 523.13 155.67 519.94 156 516.97 C156.33 514 156.67 511.16 157 508.59 C157.33 506.02 157.67 503.62 158 501.54 C158.33 499.47 158.67 497.62 159 496.11 C159.33 494.61 159.67 493.38 160 492.51 C160.33 491.64 160.67 491.08 161 490.88 C161.33 490.67 161.67 490.81 162 491.29 C162.33 491.76 162.67 492.59 163 493.72 C163.33 494.85 163.67 496.33 164 498.08 C164.33 499.82 164.67 501.9 165 504.18 C165.33 506.47 165.67 509.05 166 511.8 C166.33 514.54 166.67 517.53 167 520.63 C167.33 523.72 167.67 527.02 168 530.36 C168.33 533.7 168.67 537.19 169 540.67 C169.33 544.14 169.67 547.71 170 551.22 C170.33 554.73 170.67 558.27 171 561.71 C171.33 565.16 171.67 568.59 172 571.89 C172.33 575.19 172.67 578.43 173 581.53 C173.33 584.62 173.67 587.62 174 590.46 C174.33 593.3 174.67 596.01 175 598.56 C175.33 601.12 175.67 603.52 176 605.78 C176.33 608.03 176.67 610.13 177 612.08 C177.33 614.03 177.67 615.83 178 617.49 C178.33 619.15 178.67 620.66 179 622.04 C179.33 623.43 179.67 624.68 180 625.82 C180.33 626.96 180.67 627.97 181 628.9 C181.33 629.82 181.67 630.63 182 631.36 C182.33 632.09 182.67 632.73 183 633.3 C183.33 633.88 183.67 634.37 184 634.81 C184.33 635.25 184.83 635.77 185 635.96" fill="none" stroke="#ff1414" stroke-width="1.7" stroke-linejoin="round" stroke-linecap="round" />
<line x1="122" y1="454.5" x2="122" y2="639" stroke="#7a7a7a" stroke-width="1" />
<line x1="55" y1="639" x2="188.8" y2="639" stroke="#7a7a7a" stroke-width="1" />
<line x1="119.4" y1="577.5" x2="122" y2="577.5" stroke="#7a7a7a" stroke-width="0.9" />
<text x="115.2" y="581.1" font-size="9.8" text-anchor="end" fill="#1a1a1a" >200</text>
<line x1="119.4" y1="516" x2="122" y2="516" stroke="#7a7a7a" stroke-width="0.9" />
<text x="115.2" y="519.6" font-size="9.8" text-anchor="end" fill="#1a1a1a" >400</text>
<line x1="119.4" y1="454.5" x2="122" y2="454.5" stroke="#7a7a7a" stroke-width="0.9" />
<text x="115.2" y="458.1" font-size="9.8" text-anchor="end" fill="#1a1a1a" >600</text>
<line x1="58.25" y1="639" x2="58.25" y2="643.5" stroke="#7a7a7a" stroke-width="0.9" />
<text transform="translate(64.25,655) rotate(-45)" font-size="11.8" text-anchor="end" fill="#1a1a1a" textLength="12.74" lengthAdjust="spacingAndGlyphs">−5</text>
<line x1="85.13" y1="639" x2="85.13" y2="643.5" stroke="#7a7a7a" stroke-width="0.9" />
<text transform="translate(91.13,655) rotate(-45)" font-size="11.8" text-anchor="end" fill="#1a1a1a" textLength="12.74" lengthAdjust="spacingAndGlyphs">−3</text>
<line x1="112.01" y1="639" x2="112.01" y2="643.5" stroke="#7a7a7a" stroke-width="0.9" />
<text transform="translate(118.01,655) rotate(-45)" font-size="11.8" text-anchor="end" fill="#1a1a1a" textLength="10.38" lengthAdjust="spacingAndGlyphs">−1</text>
<line x1="127" y1="639" x2="127" y2="643.5" stroke="#7a7a7a" stroke-width="0.9" />
<text transform="translate(133,655) rotate(-45)" font-size="11.8" text-anchor="end" fill="#1a1a1a" textLength="6.84" lengthAdjust="spacingAndGlyphs">6</text>
<line x1="146.08" y1="639" x2="146.08" y2="643.5" stroke="#7a7a7a" stroke-width="0.9" />
<text transform="translate(152.08,655) rotate(-45)" font-size="11.8" text-anchor="end" fill="#1a1a1a" textLength="6.84" lengthAdjust="spacingAndGlyphs">8</text>
<line x1="165.16" y1="639" x2="165.16" y2="643.5" stroke="#7a7a7a" stroke-width="0.9" />
<text transform="translate(171.16,655) rotate(-45)" font-size="11.8" text-anchor="end" fill="#1a1a1a" textLength="11.8" lengthAdjust="spacingAndGlyphs">10</text>
<line x1="184.24" y1="639" x2="184.24" y2="643.5" stroke="#7a7a7a" stroke-width="0.9" />
<text transform="translate(190.24,655) rotate(-45)" font-size="11.8" text-anchor="end" fill="#1a1a1a" textLength="11.33" lengthAdjust="spacingAndGlyphs">12</text>
<text x="122.7" y="693.3" font-size="13" text-anchor="middle" fill="#1a1a1a"  textLength="66.5" lengthAdjust="spacingAndGlyphs">Voltage (V)</text>
<text x="37.3" y="465.3" font-size="10.3" text-anchor="start" fill="#1a1a1a" ><tspan font-style="italic">µ</tspan> = −3.2</text>
<text x="37.3" y="479.5" font-size="10.3" text-anchor="start" fill="#1a1a1a" ><tspan font-style="italic">σ</tspan> = 0.8</text>
<text x="37.3" y="494" font-size="10.3" text-anchor="start" fill="#1a1a1a" ><tspan font-style="italic">C</tspan><tspan font-size="6.6" dy="2">V</tspan><tspan dy="-2">​</tspan> = 25.0%</text>
<text x="139.2" y="465.3" font-size="10.3" text-anchor="start" fill="#1a1a1a" ><tspan font-style="italic">µ</tspan> = 9.1</text>
<text x="139.2" y="479.5" font-size="10.3" text-anchor="start" fill="#1a1a1a" ><tspan font-style="italic">σ</tspan> = 1.3</text>
<text x="139.2" y="494" font-size="10.3" text-anchor="start" fill="#1a1a1a" ><tspan font-style="italic">C</tspan><tspan font-size="6.6" dy="2">V</tspan><tspan dy="-2">​</tspan> = 14.5%</text>
<text x="59.3" y="540.3" font-size="10.3" text-anchor="start" fill="#1a1a1a" ><tspan font-style="italic">V</tspan><tspan font-size="6.6" dy="2">RESET</tspan><tspan dy="-2">​</tspan></text>
<text x="124" y="540.3" font-size="10.3" text-anchor="start" fill="#1a1a1a" ><tspan font-style="italic">V</tspan><tspan font-size="6.6" dy="2">SET</tspan><tspan dy="-2">​</tspan></text>
</g>
<g>
<text x="210.8" y="450.3" font-size="18" font-weight="bold" fill="#000" stroke="#000" stroke-width="0.7">g</text>
<clipPath id="cg"><rect x="267" y="456.3" width="96" height="182.5"/></clipPath>
<g clip-path="url(#cg)">
<path d="M266.92 517.31V572.22M267.54 520.66V572.22M268.2 526.75V572.22M268.56 513.63V572.22M269.35 519.6V572.22M269.81 536.04V572.22M270.39 533V572.22M270.98 529.12V572.22M271.39 529.34V572.22M272.19 527.5V572.22M272.92 531.29V572.22M273.29 533.46V572.22M273.94 523.96V572.22M274.28 536.55V572.22M274.87 533.78V572.22M275.68 534.29V572.22M276.51 527.94V572.22M277.27 529.59V572.22M278.11 539.72V572.22M278.49 523.76V572.22M278.94 542.23V572.22M279.51 535.25V572.22M280 533.01V572.22M280.54 529.99V572.22M281.19 535.58V572.22M282.01 538.33V572.22M282.84 542.77V572.22M283.71 539.38V572.22M284.13 543.83V572.22M284.98 545.43V572.22M285.62 541.74V572.22M286.07 544.65V572.22M286.71 533.18V572.22M287.07 545.89V572.22M287.94 529.81V572.22M288.7 537.42V572.22M289.11 535.18V572.22M289.86 548.39V572.22M290.21 543.01V572.22M290.57 545.55V572.22M291.08 549.48V572.22M291.94 541.92V572.22M292.81 538.3V572.22M293.18 544.92V572.22M293.53 536.38V572.22M294.08 545.82V572.22M294.49 533.72V572.22M295.29 546.37V572.22M296.15 556.72V572.22M296.68 548.97V572.22M297.29 552.23V572.22M297.95 550.73V572.22M298.61 557.5V572.22M299.22 548.46V572.22M299.94 545.02V572.22M300.43 558.16V572.22M301.04 550.54V572.22M301.38 548.17V572.22M302.02 541.15V572.22M302.69 552.03V572.22M303.05 551.94V572.22M303.63 552.86V572.22M304.15 553.35V572.22M304.88 541.19V572.22M305.24 552.8V572.22M306.1 545.26V572.22M306.67 551.32V572.22M307.18 547.26V572.22M307.68 547.35V572.22M308.33 546.13V572.22M308.86 554.51V572.22M309.21 550.91V572.22M309.94 546.3V572.22M310.39 555.07V572.22M310.84 544.13V572.22M311.41 553.2V572.22M311.79 546.52V572.22M312.3 555.6V572.22M312.87 555.99V572.22M313.29 546.78V572.22M313.97 556.51V572.22M314.55 544.79V572.22M314.94 550.2V572.22M315.37 555.13V572.22M316.16 544.06V572.22M316.64 555.13V572.22M317.32 555.12V572.22M317.84 543.1V572.22M318.32 554.9V572.22M318.8 546.95V572.22M319.35 548.25V572.22M319.91 557.15V572.22M320.32 540.88V572.22" stroke="#e3e3e3" stroke-width="0.55" fill="none"/>
<path d="M266.92 533.97 L271.56 544.9 L278.39 557.19 L289.32 562.66 L302.98 561.29 L316.64 559.92 L318.01 572.22 L266.92 572.22 Z" fill="#e6e6e6" stroke="#e3e3e3" stroke-width="0.3" stroke-linejoin="round" stroke-linecap="round" />
<path d="M266.92 542.16 L270.74 553.64 L275.66 560.74 L281.67 566.75 L289.32 570.03 L300.25 568.94 L309.81 565.39 L316.1 563.48 L315.83 542.16 L317.46 521.67 L320.2 502.55 L324.3 485.33 L329.21 477.68 L333.58 475.22 L343.97 475.22 L341.78 479.32 L340.14 484.79 L335.22 492.98 L330.31 512.11 L327.03 533.97 L324.3 555.83 L323.2 564.57 L331.67 564.57 L335.22 557.19 L338.5 533.97 L340.42 506.64 L341.51 484.79 L342.87 475.22 L354.35 475.22 L353.8 490.25 L352.71 514.84 L349.98 539.43 L345.33 559.92 L340.69 572.22 L337.96 583.15 L336.86 605.01 L336.32 620.8 L335.66 621.09 L335.01 619.58 L334.35 620.99 L333.69 620.93 L333.04 619 L332.38 620.43 L331.73 620.68 L331.07 620.2 L330.42 619.81 L329.76 619.18 L329.1 619.33 L328.45 619.01 L327.79 618.58 L327.14 620 L326.48 619.18 L325.83 620.61 L325.17 618.52 L324.51 620.86 L323.86 620.29 L323.2 620.92 L322.55 620.84 L321.89 620.85 L321.23 619.97 L320.58 618.43 L319.92 620.43 L319.27 618.86 L318.61 619.21 L317.96 620.2 L317.3 619.83 L316.64 619.52 L315.99 620.96 L315.33 620.07 L314.68 619.33 L314.02 619.08 L313.37 620.75 L312.71 619.7 L312.05 620.53 L311.4 619.35 L310.74 618.93 L310.09 619.85 L309.43 620.63 L308.78 618.86 L308.12 620.56 L307.46 620.91 L306.81 620.6 L306.15 620.64 L305.5 618.41 L304.84 620.11 L304.19 620.75 L303.53 618.53 L302.87 619.13 L302.22 619.13 L301.56 619.83 L300.91 619.55 L300.25 619.69 L299.6 620.52 L298.94 618.4 L298.28 618.54 L297.63 618.74 L296.97 618.73 L296.32 618.58 L295.66 621.06 L295.01 620.73 L294.35 618.63 L293.69 619.77 L293.04 619.26 L292.38 619.25 L291.73 619.35 L291.07 620.16 L290.42 620 L289.76 619.38 L289.1 618.92 L288.45 619.29 L287.79 618.73 L287.14 619.91 L286.48 620.35 L285.83 619.43 L285.17 618.61 L284.51 618.88 L283.86 619.41 L283.2 620.04 L282.55 620.53 L281.89 619.43 L281.23 620.58 L280.58 620.1 L279.92 619.57 L279.27 619.41 L278.61 619.75 L277.96 620.31 L277.3 619.54 L276.64 620.29 L275.99 619.65 L275.33 619.06 L274.57 605.01 L272.38 588.61 L270.2 572.22 L268.01 555.83 L266.92 550.36 Z" fill="#d0d0d0" stroke="#d0d0d0" stroke-width="0.5" stroke-linejoin="round" stroke-linecap="round" />
<path d="M272.93 615.93V622.9M274.05 615.93V621.13M274.94 615.93V622.48M276.21 615.93V624.43M277.06 615.93V624.29M278.26 615.93V621.86M279.18 615.93V621.32M280.4 615.93V623.39M281.67 615.93V623.88M282.76 615.93V623.66M283.77 615.93V621.25M284.8 615.93V620.87M285.46 615.93V623.81M286.05 615.93V621.2M286.67 615.93V624.22M287.37 615.93V620.94M288.6 615.93V621.32M289.84 615.93V623.43M291.07 615.93V624.5M292.09 615.93V623.91M292.67 615.93V623.79M293.64 615.93V623.59M294.27 615.93V623.72M295.58 615.93V621.09M296.4 615.93V623.01M297.62 615.93V621.78M298.31 615.93V621.81M299.37 615.93V623.73M300.23 615.93V622.26M301.11 615.93V622.19M302 615.93V621.17M302.95 615.93V624.57M303.84 615.93V623.71M304.52 615.93V623.5M305.68 615.93V623.43M306.65 615.93V622.7M307.73 615.93V624.29M308.39 615.93V621.22M309.55 615.93V624.36M310.52 615.93V622.55M311.66 615.93V621.56M312.43 615.93V621.61M313.45 615.93V622.06M314.19 615.93V623.5M315.52 615.93V621.98M316.64 615.93V622.43M317.89 615.93V623.09M318.65 615.93V621.68M319.22 615.93V622.69M320.08 615.93V621.51M320.92 615.93V622.08M322.1 615.93V621.4M323.46 615.93V622.69M324.5 615.93V622.64M325.73 615.93V624M326.73 615.93V622.69M327.87 615.93V624.13M328.74 615.93V623.66M330.08 615.93V622.64M330.81 615.93V621.75M331.95 615.93V623.44M333.28 615.93V624.12M334.02 615.93V621.58M334.78 615.93V621.57M335.91 615.93V624.14" stroke="#dadada" stroke-width="0.5" fill="none"/>
<path d="M325.06 562.66 C325.7 557.87 327.66 543.3 328.89 533.97 C330.11 524.63 331.11 514.39 332.43 506.64 C333.75 498.9 335.43 492.3 336.8 487.52 C338.17 482.74 340.01 479.55 340.66 477.96" fill="none" stroke="#e6e6e6" stroke-width="0.5" stroke-linejoin="round" stroke-linecap="round" />
<path d="M326.9 562.66 C327.53 557.87 329.43 543.3 330.72 533.97 C332.01 524.63 333.25 514.39 334.63 506.64 C336.01 498.9 337.81 492.3 339 487.52 C340.19 482.74 341.3 479.55 341.76 477.96" fill="none" stroke="#e6e6e6" stroke-width="0.5" stroke-linejoin="round" stroke-linecap="round" />
<path d="M325.24 562.66 C325.87 557.87 327.83 543.3 329.06 533.97 C330.3 524.63 331.31 514.39 332.64 506.64 C333.96 498.9 335.66 492.3 337.01 487.52 C338.36 482.74 340.14 479.55 340.76 477.96" fill="none" stroke="#e6e6e6" stroke-width="0.5" stroke-linejoin="round" stroke-linecap="round" />
<path d="M333.56 475.28 L363 475.28" fill="none" stroke="#1a9fe9" stroke-width="1.45" stroke-linejoin="round" stroke-linecap="round" />
<path d="M333.56 475.28 C333.02 475.95 331.29 477.26 330.3 479.3 C329.3 481.33 328.58 483.86 327.58 487.51 C326.57 491.16 325.28 496.18 324.28 501.19 C323.28 506.21 322.38 512.14 321.56 517.62 C320.74 523.1 319.98 528.6 319.38 534.04 C318.79 539.49 318.33 544.84 318.01 550.29 C317.69 555.73 317.55 563.98 317.46 566.71" fill="none" stroke="#1a9fe9" stroke-width="1.45" stroke-linejoin="round" stroke-linecap="round" />
<path d="M317.46 566.71 L317.24 578.57" fill="none" stroke="#1a9fe9" stroke-width="1.45" stroke-linejoin="round" stroke-linecap="round" />
<path d="M346.68 475.28 L346.68 542.07" fill="none" stroke="#1a9fe9" stroke-width="1.45" stroke-linejoin="round" stroke-linecap="round" />
<path d="M346.68 542.07 C346.59 542.99 346.62 544.81 346.17 547.55 C345.71 550.29 344.78 555.31 343.96 558.5 C343.14 561.69 342.01 564.43 341.24 566.71 C340.47 568.99 339.85 570.21 339.32 572.19 C338.79 574.16 338.25 577.51 338.04 578.57" fill="none" stroke="#1a9fe9" stroke-width="1.45" stroke-linejoin="round" stroke-linecap="round" />
<path d="M267.48 542.07 C268.15 544.14 270.12 551.29 271.48 554.49 C272.84 557.68 274.04 558.96 275.64 561.24 C277.24 563.52 279.27 566.35 281.08 568.17 C282.89 570 284.71 571.27 286.52 572.19 C288.33 573.1 290.68 573.19 291.96 573.65 C293.24 574.1 293.83 574.71 294.2 574.92" fill="none" stroke="#1a9fe9" stroke-width="1.45" stroke-linejoin="round" stroke-linecap="round" />
<path d="M267.48 542.07 C267.93 544.81 269.05 553.94 270.2 558.5 C271.35 563.06 272.97 566.47 274.36 569.45 C275.75 572.43 277.83 575.23 278.52 576.38" fill="none" stroke="#1a9fe9" stroke-width="1.45" stroke-linejoin="round" stroke-linecap="round" />
<path d="M278.52 576.38 L279.48 587.7 L280.44 578.57 L281.4 584.05 L282.36 579.49 L283.64 589.52 L284.92 581.31 L286.2 596.82 L287.48 582.22 L288.76 602.3 L289.72 607.77 L290.68 589.52 L291.96 600.47 L293.24 578.57 L294.52 587.7 L295.8 576.75 L297.08 582.22 L298.36 574.92 L299.64 585.88 L300.92 576.75 L302.2 593.17 L303.16 605.95 L304.12 578.57 L305.4 591.35 L306.36 571.27 L307.32 598.65 L308.28 563.98 L309.24 587.7 L310.2 571.27 L311.16 595 L312.12 573.1 L313.08 589.52 L314.04 574.92 L315 584.05 L315.96 563.98 L316.92 582.22 L317.88 571.27 L319.16 582.22 L320.44 578.57 L322.04 579.49 L323.32 589.52 L324.6 578.57 L325.88 587.7 L327.16 576.75 L328.44 582.22 L329.72 579.49 L331 602.3 L331.96 576.75 L333.24 582.22 L334.84 590.44 L336.12 591.35 L337.4 584.05 L338.36 574.92 L339.32 580.4 L340.6 589.52 L340.92 573.1" fill="none" stroke="#1a9fe9" stroke-width="1.3" stroke-linejoin="round" stroke-linecap="round" />
<path d="M294.2 574.92 L295.8 576.75 L297.4 584.05 L299 575.84 L300.6 578.57 L302.2 574.01 L303.8 576.75 L305.4 571.27 L307 578.57 L308.6 573.1 L310.2 576.75 L311.8 571.27 L313.4 576.75 L315 574.01 L317.4 576.75" fill="none" stroke="#1a9fe9" stroke-width="1.3" stroke-linejoin="round" stroke-linecap="round" />
</g>
<line x1="271.5" y1="475.28" x2="333.56" y2="475.28" stroke="#c0c0c0" stroke-width="1.3" stroke-dasharray="4 2.6"/>
<rect x="267" y="456.3" width="96" height="182.5" fill="none" stroke="#707070" stroke-width="1.1"/>
<path d="M262.6 456.3H267M263.4 469.06H267M263.4 465.84H267M263.4 463.56H267M263.4 461.79H267M263.4 460.35H267M263.4 459.13H267M263.4 458.07H267M263.4 457.14H267M262.8 474.55H267M263.4 487.31H267M263.4 484.09H267M263.4 481.81H267M263.4 480.04H267M263.4 478.6H267M263.4 477.38H267M263.4 476.32H267M263.4 475.39H267M262.6 492.8H267M263.4 505.56H267M263.4 502.34H267M263.4 500.06H267M263.4 498.29H267M263.4 496.85H267M263.4 495.63H267M263.4 494.57H267M263.4 493.64H267M262.8 511.05H267M263.4 523.81H267M263.4 520.59H267M263.4 518.31H267M263.4 516.54H267M263.4 515.1H267M263.4 513.88H267M263.4 512.82H267M263.4 511.89H267M262.6 529.3H267M263.4 542.06H267M263.4 538.84H267M263.4 536.56H267M263.4 534.79H267M263.4 533.35H267M263.4 532.13H267M263.4 531.07H267M263.4 530.14H267M262.8 547.55H267M263.4 560.31H267M263.4 557.09H267M263.4 554.81H267M263.4 553.04H267M263.4 551.6H267M263.4 550.38H267M263.4 549.32H267M263.4 548.39H267M262.6 565.8H267M263.4 578.56H267M263.4 575.34H267M263.4 573.06H267M263.4 571.29H267M263.4 569.85H267M263.4 568.63H267M263.4 567.57H267M263.4 566.64H267M262.8 584.05H267M263.4 596.81H267M263.4 593.59H267M263.4 591.31H267M263.4 589.54H267M263.4 588.1H267M263.4 586.88H267M263.4 585.82H267M263.4 584.89H267M262.6 602.3H267M263.4 615.06H267M263.4 611.84H267M263.4 609.56H267M263.4 607.79H267M263.4 606.35H267M263.4 605.13H267M263.4 604.07H267M263.4 603.14H267M262.8 620.55H267M263.4 633.31H267M263.4 630.09H267M263.4 627.81H267M263.4 626.04H267M263.4 624.6H267M263.4 623.38H267M263.4 622.32H267M263.4 621.39H267M262.6 638.8H267" stroke="#3a3a3a" stroke-width="0.8" fill="none"/>
<text x="257.5" y="461.16" font-size="11" text-anchor="end" fill="#1a1a1a"  textLength="20.27" lengthAdjust="spacingAndGlyphs">10<tspan font-size="8.58" dy="-4.31">−6</tspan></text>
<text x="257.5" y="497.66" font-size="11" text-anchor="end" fill="#1a1a1a"  textLength="20.27" lengthAdjust="spacingAndGlyphs">10<tspan font-size="8.58" dy="-4.31">−8</tspan></text>
<text x="257.5" y="534.16" font-size="11" text-anchor="end" fill="#1a1a1a"  textLength="23.87" lengthAdjust="spacingAndGlyphs">10<tspan font-size="8.58" dy="-4.31">−10</tspan></text>
<text x="257.5" y="570.66" font-size="11" text-anchor="end" fill="#1a1a1a"  textLength="23.53" lengthAdjust="spacingAndGlyphs">10<tspan font-size="8.58" dy="-4.31">−12</tspan></text>
<text x="257.5" y="607.16" font-size="11" text-anchor="end" fill="#1a1a1a"  textLength="23.53" lengthAdjust="spacingAndGlyphs">10<tspan font-size="8.58" dy="-4.31">−14</tspan></text>
<text x="257.5" y="643.66" font-size="11" text-anchor="end" fill="#1a1a1a"  textLength="23.53" lengthAdjust="spacingAndGlyphs">10<tspan font-size="8.58" dy="-4.31">−16</tspan></text>
<line x1="283" y1="638.8" x2="283" y2="643.8" stroke="#707070" stroke-width="1" />
<text transform="translate(289,655) rotate(-45)" font-size="11.8" text-anchor="end" fill="#1a1a1a" textLength="17.7" lengthAdjust="spacingAndGlyphs">−10</text>
<line x1="299" y1="638.8" x2="299" y2="643.8" stroke="#707070" stroke-width="1" />
<text transform="translate(305,655) rotate(-45)" font-size="11.8" text-anchor="end" fill="#1a1a1a" textLength="12.74" lengthAdjust="spacingAndGlyphs">−5</text>
<line x1="315" y1="638.8" x2="315" y2="643.8" stroke="#707070" stroke-width="1" />
<text transform="translate(321,655) rotate(-45)" font-size="11.8" text-anchor="end" fill="#1a1a1a" textLength="7.32" lengthAdjust="spacingAndGlyphs">0</text>
<line x1="331" y1="638.8" x2="331" y2="643.8" stroke="#707070" stroke-width="1" />
<text transform="translate(337,655) rotate(-45)" font-size="11.8" text-anchor="end" fill="#1a1a1a" textLength="6.84" lengthAdjust="spacingAndGlyphs">5</text>
<line x1="347" y1="638.8" x2="347" y2="643.8" stroke="#707070" stroke-width="1" />
<text transform="translate(353,655) rotate(-45)" font-size="11.8" text-anchor="end" fill="#1a1a1a" textLength="11.8" lengthAdjust="spacingAndGlyphs">10</text>
<line x1="363" y1="638.8" x2="363" y2="643.8" stroke="#707070" stroke-width="1" />
<text transform="translate(369,655) rotate(-45)" font-size="11.8" text-anchor="end" fill="#1a1a1a" textLength="11.33" lengthAdjust="spacingAndGlyphs">15</text>
<text x="315.7" y="693.3" font-size="13" text-anchor="middle" fill="#1a1a1a"  textLength="66.5" lengthAdjust="spacingAndGlyphs">Voltage (V)</text>
<text transform="translate(223.3,548.4) rotate(-90)" font-size="13" text-anchor="middle" fill="#1a1a1a" textLength="72.8" lengthAdjust="spacingAndGlyphs">|Current| (A)</text>
<text x="270.2" y="471.6" font-size="11" text-anchor="start" fill="#1a1a1a"  textLength="62.3" lengthAdjust="spacingAndGlyphs">CC = 100 nA</text>
</g>
<g>
<text x="388.8" y="450.3" font-size="18" font-weight="bold" fill="#000" stroke="#000" stroke-width="0.7">h</text>
<path d="M450.18 501.52h0.01M450.65 502.77h0.01M450.35 499.89h0.01M450.62 502.8h0.01M451.13 502.86h0.01M451.25 503.17h0.01M451.67 501.77h0.01M451.57 504.57h0.01M451.84 505.39h0.01M452.54 504.08h0.01M452.62 502.19h0.01M452.99 499.66h0.01M452.89 499.27h0.01M453.54 500.44h0.01M453.64 498.34h0.01M453.8 496.89h0.01M454.12 495.56h0.01M454.9 493.91h0.01M455.32 495.27h0.01M455.51 493.97h0.01M455.65 490.58h0.01M456.13 493.68h0.01M456.84 493.06h0.01M457.44 492.45h0.01M457.45 491.27h0.01M458.07 490.92h0.01M458.18 492.29h0.01M459.14 491.92h0.01M459.27 489.88h0.01M459.49 492.52h0.01M460.2 492.4h0.01M460.85 493.25h0.01M460.73 490.27h0.01M461.21 491.44h0.01M461.71 496.56h0.01M462.04 492.16h0.01M462.81 493.31h0.01M463.18 492.3h0.01M463.26 491.47h0.01M464.01 494.26h0.01M464.54 493.99h0.01M465.02 492.9h0.01M465.27 490.39h0.01M465.93 491.27h0.01M466.11 492.41h0.01M466.38 489.74h0.01M466.87 489.09h0.01M467.22 489.4h0.01M467.5 486.98h0.01M468.26 486.53h0.01M468.14 486.97h0.01M468.76 483.88h0.01M469.23 485.71h0.01M469.39 487.31h0.01M469.61 486.08h0.01M470.04 484.14h0.01M470.67 482.74h0.01M470.62 486.06h0.01M471.39 485.38h0.01M471.83 486.51h0.01M471.72 490.27h0.01M472.34 486.31h0.01M472.35 489.01h0.01M472.94 489.24h0.01M473.44 490.77h0.01M473.44 490.65h0.01M473.98 492.5h0.01M474.25 493.83h0.01M474.62 495.94h0.01M474.9 496.5h0.01M475.22 495.28h0.01M475.15 500.24h0.01M475.76 500.1h0.01M475.85 498.46h0.01M475.84 503.74h0.01M476.1 504.01h0.01M476.6 506.69h0.01M476.58 507.18h0.01M476.68 507.96h0.01M477.24 509.84h0.01M477.36 510.54h0.01M477.89 509.32h0.01M477.84 506.5h0.01M478.31 504.28h0.01M478.45 501.1h0.01M478.43 500.32h0.01M478.85 500.55h0.01M478.83 497.8h0.01M478.88 494.94h0.01M479.18 492.44h0.01M479.96 492.17h0.01M480.35 493.14h0.01M480.42 490.91h0.01M481.34 490.3h0.01M481.37 491.08h0.01M482.03 487.53h0.01M482.6 490.14h0.01M482.73 488.6h0.01M483.05 487.54h0.01M483.03 487.92h0.01M483.57 487.57h0.01M483.7 487.51h0.01M484.05 486.53h0.01M484.51 486.47h0.01M484.53 486.28h0.01M485.32 485.67h0.01M485.52 489.03h0.01M486.09 484.44h0.01M486.08 484.04h0.01M486.9 484.88h0.01M486.97 483.83h0.01M487.35 483.89h0.01M488.26 484.07h0.01M488.57 483.12h0.01M488.83 482.53h0.01M489.35 483.98h0.01M489.53 484.5h0.01M489.93 486.49h0.01M490.5 485.66h0.01M490.72 485.74h0.01M491.56 487.14h0.01M492.01 486.31h0.01M492.28 485.77h0.01M492.51 485.83h0.01M492.94 486.18h0.01M493.66 481.61h0.01M494.15 486.88h0.01M494.58 483.2h0.01M495.03 484.91h0.01M494.88 484.89h0.01M495.38 483.41h0.01M495.8 484.9h0.01M495.82 485.38h0.01M496.13 486.38h0.01M496.5 484.46h0.01M496.53 485.41h0.01M496.94 485.9h0.01M497.31 488.34h0.01M497.38 488.63h0.01M497.63 488.69h0.01M498.2 491.16h0.01M498.47 494.44h0.01M498.85 496.2h0.01M498.8 494.74h0.01M499.28 497.38h0.01M499.56 498.56h0.01M499.8 499.93h0.01M500.3 499.21h0.01M500.38 502.49h0.01M500.53 502.88h0.01M500.96 502.73h0.01M501.47 503.49h0.01M501.23 504.69h0.01M501.68 504.57h0.01M502.54 505.5h0.01M502.7 503.35h0.01M503.42 502.45h0.01M503.72 502.82h0.01M503.95 502.43h0.01M504.39 503.37h0.01M504.69 500.09h0.01M505.34 500.08h0.01M505.43 501.34h0.01M506.13 500.93h0.01M506.78 499.67h0.01M507.14 498.14h0.01M507.27 501.16h0.01M507.94 501.11h0.01M508.09 498.74h0.01M508.58 501h0.01M509.16 495.87h0.01M509.23 497.25h0.01M509.75 497.83h0.01M510.12 495.11h0.01M510.56 496.76h0.01M511.45 497.33h0.01M511.46 495.81h0.01M511.86 496.79h0.01M512.4 497.62h0.01M512.6 494.39h0.01M512.75 496.23h0.01M512.97 494.69h0.01M513.29 491.39h0.01M513.63 490.9h0.01M514.13 493.51h0.01M514.21 493.3h0.01M514.95 494.2h0.01M514.95 490.99h0.01M515.58 496.11h0.01M516.09 494.47h0.01M516.69 495.73h0.01M517.04 496.33h0.01M517.3 497.1h0.01M517.54 499.19h0.01M517.87 497.4h0.01M518.46 498.39h0.01M519.11 495.53h0.01M519.09 500.11h0.01M519.59 500.76h0.01M520.02 501.6h0.01M520.73 499.24h0.01M521.11 501.2h0.01M521.36 502.63h0.01M521.4 502.23h0.01M522.03 502.31h0.01M522.02 504.31h0.01M522.12 505.28h0.01M522.35 503.36h0.01M523.15 504.43h0.01M523.37 504.97h0.01M523.99 504.69h0.01M523.96 504.7h0.01M524.3 503.19h0.01M525.2 503.78h0.01M525.23 505.08h0.01M525.6 503.54h0.01M526.14 503.25h0.01M526.76 504.18h0.01M527.36 502.47h0.01M527.41 505.27h0.01M528.19 503.96h0.01M528.51 504.43h0.01M528.61 505.05h0.01M529.41 505.17h0.01M529.75 504.37h0.01M530.03 505.63h0.01M529.93 502.87h0.01M530.74 500.53h0.01M530.49 500.1h0.01M531.24 499.8h0.01M531.23 498.08h0.01M531.5 496.21h0.01M531.89 497.76h0.01M532.39 496.31h0.01M532.21 494.54h0.01M532.73 494.82h0.01M532.8 493.55h0.01M533.23 491.99h0.01M533.42 491.22h0.01M533.31 489.81h0.01M533.65 492.47h0.01M533.73 490.15h0.01M534.17 488.96h0.01M534.19 489.16h0.01M534.21 486.6h0.01M534.2 486.22h0.01M534.29 488.58h0.01M534.74 483.56h0.01" stroke="#0a0aff" stroke-width="2.5" stroke-linecap="round" fill="none"/>
<path d="M485.3 470.95h0.01M486.2 469.38h0.01M487.1 473.88h0.01M488 467.13h0.01M489.35 466.68h0.01M490.7 466h0.01M491.6 467.13h0.01M487.55 475h0.01M496.1 476.8h0.01M497 477.93h0.01M507.13 488.95h0.01M507.8 488.05h0.01M534.35 484.45h0.01M533.9 488.95h0.01M455.38 489.63h0.01M458.75 488.95h0.01M516.13 494.13h0.01M512.75 491.88h0.01" stroke="#0a0aff" stroke-width="2.5" stroke-linecap="round" fill="none"/>
<path d="M450.49 618.92h0.01M450.44 618.79h0.01M450.64 619.31h0.01M451.12 619.02h0.01M451.73 617.31h0.01M452.31 618.22h0.01M452.21 618.35h0.01M452.86 616.4h0.01M452.91 616.93h0.01M453.37 615.04h0.01M453.95 616.63h0.01M454.54 616.49h0.01M454.9 616.97h0.01M455.4 619.09h0.01M455.64 616.65h0.01M456.07 617.22h0.01M456.25 616.67h0.01M457.06 618.8h0.01M457.09 616.24h0.01M457.79 617.46h0.01M457.98 616.07h0.01M458.63 615.49h0.01M459.3 616.3h0.01M459.32 616.08h0.01M460 618.15h0.01M460.28 616.84h0.01M460.6 615.37h0.01M460.94 615.13h0.01M461.01 613.62h0.01M461.44 614.9h0.01M461.49 614.27h0.01M462.13 613.32h0.01M462.24 613.15h0.01M462.92 614.94h0.01M463.15 613.5h0.01M464.09 612.39h0.01M464.23 615.13h0.01M465.12 613.72h0.01M465.24 614.38h0.01M466.25 616.16h0.01M466.6 616.54h0.01M467.25 615.49h0.01M467.7 614.39h0.01M468.06 614.01h0.01M468.53 613.36h0.01M468.61 614.18h0.01M468.89 612.44h0.01M469.33 611.35h0.01M470.25 612.76h0.01M470.47 611.77h0.01M470.41 609.76h0.01M470.97 610.2h0.01M471.41 609.08h0.01M471.43 607.4h0.01M471.63 607.82h0.01M471.82 606.67h0.01M472.37 606.78h0.01M472.81 609.01h0.01M472.91 606.53h0.01M473.3 604.52h0.01M473.94 602.03h0.01M474.29 601.59h0.01M474.81 602.03h0.01M475.11 600.47h0.01M475.81 598.68h0.01M475.66 602.91h0.01M475.94 601.37h0.01M476.39 603.92h0.01M476.58 602.06h0.01M477.29 605.73h0.01M477.39 605.98h0.01M477.39 608.34h0.01M477.61 608.22h0.01M478.09 608.09h0.01M478.91 610.22h0.01M478.93 611.04h0.01M479.8 611.11h0.01M479.73 611.64h0.01M480.65 614.16h0.01M480.94 615.05h0.01M481.3 613.72h0.01M481.54 614.89h0.01M482.18 615.42h0.01M482.37 615.67h0.01M482.86 615.75h0.01M483.45 613.93h0.01M483.87 616.5h0.01M484.43 614.77h0.01M484.77 612.84h0.01M485.31 613.78h0.01M485.34 613.81h0.01M485.6 613.42h0.01M486.15 612.05h0.01M486.68 611.3h0.01M486.86 608.6h0.01M487.71 610.06h0.01M487.73 609.04h0.01M488.69 607.78h0.01M489.1 606.69h0.01M489.81 606.72h0.01M489.85 606.86h0.01M490.29 605.21h0.01M490.87 606.74h0.01M491.36 604.64h0.01M492.1 603.36h0.01M492.56 605.28h0.01M492.76 605.01h0.01M492.85 607.68h0.01M493.13 606.21h0.01M493.9 605.88h0.01M494.19 610.63h0.01M494.45 608.44h0.01M494.56 609.32h0.01M495.3 610.17h0.01M495.5 611.68h0.01M495.8 611.8h0.01M496.58 611.47h0.01M496.75 611.22h0.01M497.42 611.68h0.01M497.52 613.58h0.01M498.42 612.57h0.01M498.23 614.67h0.01M498.66 613.88h0.01M499.12 615.76h0.01M499.15 615.15h0.01M499.31 615.82h0.01M500.01 618.21h0.01M500.29 618.48h0.01M500.15 618.63h0.01M501.07 619.73h0.01M501.5 618.92h0.01M501.84 619.95h0.01M502.07 618.24h0.01M502.23 618.91h0.01M502.63 619.83h0.01M503.38 618.69h0.01M503.49 620.81h0.01M504.26 616.57h0.01M504.79 618.33h0.01M505.59 615.82h0.01M505.81 616.29h0.01M506.3 614.94h0.01M506.86 615.53h0.01M507.55 615.9h0.01M508.5 614.2h0.01M508.44 615.44h0.01M508.83 614.45h0.01M509.26 616.18h0.01M509.95 615.77h0.01M510.35 616.32h0.01M510.58 617.15h0.01M511.16 618.23h0.01M511.54 615.47h0.01M512.12 616.59h0.01M512.74 617.09h0.01M513.16 616.53h0.01M513.02 617.76h0.01M513.66 618.17h0.01M514.07 616.76h0.01M514.49 618.89h0.01M514.99 617.12h0.01M515.61 615.51h0.01M515.6 614.69h0.01M516.22 618.47h0.01M516.58 616.5h0.01M516.64 615.86h0.01M516.91 612.41h0.01M517.3 614.73h0.01M517.7 613.03h0.01M518.01 615.52h0.01M518.07 616.59h0.01M518.74 616.34h0.01M518.73 616.58h0.01M519.18 617.58h0.01M519.44 619.23h0.01M519.71 617.95h0.01M520.01 621.14h0.01M520.54 618.09h0.01M521.3 619.47h0.01M522.52 619.53h0.01M523.38 617.79h0.01M523.99 619.52h0.01M524.77 617.63h0.01M525.35 621.21h0.01M526.01 621.37h0.01M526.84 619.94h0.01M527.31 619.24h0.01M527.44 618.01h0.01M527.81 618.39h0.01M528.24 617.97h0.01M528.87 617.63h0.01M528.97 617.28h0.01M529.43 617.23h0.01M529.77 618.32h0.01M530.67 615.86h0.01M530.81 617.73h0.01M531.52 619.16h0.01M531.58 618.92h0.01M532.17 616.46h0.01M532.61 617.41h0.01M533.13 619.3h0.01M533.17 618.37h0.01M533.41 619.07h0.01M533.26 618.68h0.01M533.4 620.19h0.01M533.64 618.31h0.01M534.12 618.56h0.01M534.01 617.61h0.01" stroke="#19ff19" stroke-width="2.5" stroke-linecap="round" fill="none"/>
<path d="M461.45 605.3h0.01M462.8 604.85h0.01M466.63 605.75h0.01M516.13 604.63h0.01M517.03 603.5h0.01M521.75 605.75h0.01M522.65 606.43h0.01M534.35 600.8h0.01M534.35 604.18h0.01M463.25 611.38h0.01M492.5 601.7h0.01M475.4 599h0.01" stroke="#19ff19" stroke-width="2.5" stroke-linecap="round" fill="none"/>
<rect x="443.5" y="457.5" width="96.7" height="182" fill="none" stroke="#6a6a6a" stroke-width="1"/>
<path d="M438.5 457.5H443.5M439.9 473.4H443.5M439.9 469.4H443.5M439.9 466.55H443.5M439.9 464.35H443.5M439.9 462.55H443.5M439.9 461.02H443.5M439.9 459.7H443.5M439.9 458.54H443.5M438.7 480.25H443.5M439.9 496.15H443.5M439.9 492.15H443.5M439.9 489.3H443.5M439.9 487.1H443.5M439.9 485.3H443.5M439.9 483.77H443.5M439.9 482.45H443.5M439.9 481.29H443.5M438.5 503H443.5M439.9 518.9H443.5M439.9 514.9H443.5M439.9 512.05H443.5M439.9 509.85H443.5M439.9 508.05H443.5M439.9 506.52H443.5M439.9 505.2H443.5M439.9 504.04H443.5M438.7 525.75H443.5M439.9 541.65H443.5M439.9 537.65H443.5M439.9 534.8H443.5M439.9 532.6H443.5M439.9 530.8H443.5M439.9 529.27H443.5M439.9 527.95H443.5M439.9 526.79H443.5M438.5 548.5H443.5M439.9 564.4H443.5M439.9 560.4H443.5M439.9 557.55H443.5M439.9 555.35H443.5M439.9 553.55H443.5M439.9 552.02H443.5M439.9 550.7H443.5M439.9 549.54H443.5M438.7 571.25H443.5M439.9 587.15H443.5M439.9 583.15H443.5M439.9 580.3H443.5M439.9 578.1H443.5M439.9 576.3H443.5M439.9 574.77H443.5M439.9 573.45H443.5M439.9 572.29H443.5M438.5 594H443.5M439.9 609.9H443.5M439.9 605.9H443.5M439.9 603.05H443.5M439.9 600.85H443.5M439.9 599.05H443.5M439.9 597.52H443.5M439.9 596.2H443.5M439.9 595.04H443.5M438.7 616.75H443.5M439.9 632.65H443.5M439.9 628.65H443.5M439.9 625.8H443.5M439.9 623.6H443.5M439.9 621.8H443.5M439.9 620.27H443.5M439.9 618.95H443.5M439.9 617.79H443.5M438.5 639.5H443.5" stroke="#555" stroke-width="0.8" fill="none"/>
<text x="432.2" y="461.39" font-size="10.8" text-anchor="end" fill="#1a1a1a"  textLength="17.64" lengthAdjust="spacingAndGlyphs">10<tspan font-size="7.13" dy="-4.75">15</tspan></text>
<text x="432.2" y="506.89" font-size="10.8" text-anchor="end" fill="#1a1a1a"  textLength="17.64" lengthAdjust="spacingAndGlyphs">10<tspan font-size="7.13" dy="-4.75">13</tspan></text>
<text x="432.2" y="552.39" font-size="10.8" text-anchor="end" fill="#1a1a1a"  textLength="16.22" lengthAdjust="spacingAndGlyphs">10<tspan font-size="7.13" dy="-4.75">11</tspan></text>
<text x="432.2" y="597.89" font-size="10.8" text-anchor="end" fill="#1a1a1a"  textLength="14.93" lengthAdjust="spacingAndGlyphs">10<tspan font-size="7.13" dy="-4.75">9</tspan></text>
<text x="432.2" y="643.39" font-size="10.8" text-anchor="end" fill="#1a1a1a"  textLength="14.93" lengthAdjust="spacingAndGlyphs">10<tspan font-size="7.13" dy="-4.75">7</tspan></text>
<line x1="450.2" y1="639.5" x2="450.2" y2="644.5" stroke="#707070" stroke-width="1" />
<text transform="translate(456.2,655.6) rotate(-45)" font-size="11.8" text-anchor="end" fill="#1a1a1a" textLength="7.32" lengthAdjust="spacingAndGlyphs">0</text>
<line x1="477.95" y1="639.5" x2="477.95" y2="644.5" stroke="#707070" stroke-width="1" />
<text transform="translate(483.95,655.6) rotate(-45)" font-size="11.8" text-anchor="end" fill="#1a1a1a" textLength="21.48" lengthAdjust="spacingAndGlyphs">400</text>
<line x1="505.7" y1="639.5" x2="505.7" y2="644.5" stroke="#707070" stroke-width="1" />
<text transform="translate(511.7,655.6) rotate(-45)" font-size="11.8" text-anchor="end" fill="#1a1a1a" textLength="21.48" lengthAdjust="spacingAndGlyphs">800</text>
<line x1="533.45" y1="639.5" x2="533.45" y2="644.5" stroke="#707070" stroke-width="1" />
<text transform="translate(539.45,655.6) rotate(-45)" font-size="11.8" text-anchor="end" fill="#1a1a1a" textLength="28.79" lengthAdjust="spacingAndGlyphs">1,200</text>
<text x="490.3" y="693.3" font-size="13" text-anchor="middle" fill="#1a1a1a"  textLength="85.5" lengthAdjust="spacingAndGlyphs">Cycle number</text>
<text transform="translate(398.6,548.2) rotate(-90)" font-size="13" text-anchor="middle" fill="#1a1a1a" textLength="86.5" lengthAdjust="spacingAndGlyphs">Resistance (Ω)</text>
<text x="448" y="474.5" font-size="10.2" text-anchor="start" fill="#1a1a1a" >HRS</text>
<text x="450.5" y="632.5" font-size="10.2" text-anchor="start" fill="#1a1a1a" >LRS</text>
</g>
<g>
<defs><radialGradient id="gR" cx="0.38" cy="0.32" r="0.75"><stop offset="0" stop-color="#ff8f8f"/><stop offset="0.45" stop-color="#d81420"/><stop offset="1" stop-color="#7a0a10"/></radialGradient><radialGradient id="gN" cx="0.38" cy="0.32" r="0.75"><stop offset="0" stop-color="#8f96e0"/><stop offset="0.45" stop-color="#2a3398"/><stop offset="1" stop-color="#141a5c"/></radialGradient><radialGradient id="gY" cx="0.38" cy="0.32" r="0.75"><stop offset="0" stop-color="#ffffb0"/><stop offset="0.5" stop-color="#ecd820"/><stop offset="1" stop-color="#8f8208"/></radialGradient><radialGradient id="gG" cx="0.38" cy="0.32" r="0.75"><stop offset="0" stop-color="#8fe0a0"/><stop offset="0.5" stop-color="#14903c"/><stop offset="1" stop-color="#0a4c20"/></radialGradient><linearGradient id="gSiL" x1="0" y1="0" x2="0" y2="1"><stop offset="0" stop-color="#bebebe"/><stop offset="0.8" stop-color="#cbcbcb"/><stop offset="1" stop-color="#d8d8d8"/></linearGradient><linearGradient id="gSiR" x1="0" y1="0" x2="0" y2="1"><stop offset="0" stop-color="#b2b2b2"/><stop offset="0.8" stop-color="#c0c0c0"/><stop offset="1" stop-color="#d2d2d2"/></linearGradient><linearGradient id="gPlL" x1="0" y1="0" x2="1" y2="0"><stop offset="0" stop-color="#7c7c7c"/><stop offset="1" stop-color="#a8a8a8"/></linearGradient><linearGradient id="gRb" x1="0" y1="0" x2="1" y2="0"><stop offset="0.05" stop-color="#3060e8"/><stop offset="0.25" stop-color="#9a30d8"/><stop offset="0.4" stop-color="#e8209a"/><stop offset="0.55" stop-color="#f03030"/><stop offset="0.7" stop-color="#f89020"/><stop offset="0.84" stop-color="#ece030"/><stop offset="1" stop-color="#48c850"/></linearGradient><linearGradient id="gFade" x1="0" y1="0" x2="0" y2="1"><stop offset="0" stop-color="#fff" stop-opacity="0"/><stop offset="0.7" stop-color="#fff" stop-opacity="0.05"/><stop offset="1" stop-color="#fff" stop-opacity="0.45"/></linearGradient></defs>
<text x="563.8" y="449.5" font-size="18" font-weight="bold" fill="#000" stroke="#000" stroke-width="0.7">i</text>
<text x="680.2" y="449.5" font-size="18" font-weight="bold" fill="#000" stroke="#000" stroke-width="0.7">j</text>
<text x="564.8" y="561.5" font-size="18" font-weight="bold" fill="#000" stroke="#000" stroke-width="0.7">k</text>
<text x="682.5" y="562" font-size="18" font-weight="bold" fill="#000" stroke="#000" stroke-width="0.7">l</text>
<polygon points="563.9,514.9 633.7,520.6 633.7,534.5 563.9,530.8" fill="url(#gSiL)" />
<polygon points="633.7,520.6 673.1,510.6 673.1,524.8 633.7,534.5" fill="url(#gSiR)" />
<polygon points="563.9,508 633.7,512.8 633.7,520.6 563.9,514.9" fill="#8fc2e8" />
<polygon points="633.7,512.8 673.1,503.8 673.1,510.6 633.7,520.6" fill="#b4d8ee" />
<polygon points="563.9,472 633.7,472.7 633.7,512.8 563.9,508" fill="#d1d6ea" />
<polygon points="633.7,472.7 673.1,470.7 673.1,503.8 633.7,512.8" fill="#ccd2e8" />
<polygon points="563.9,508 611.4,499.6 673.1,503.8 633.7,512.8" fill="#4d8fd8" />
<polygon points="602.29,510.64 633,501.07 671.87,503.72 633,512.75" fill="#3473cb" opacity="0.8"/>
<polygon points="563.9,508 611.4,499.6 633,501.07 602.29,510.64" fill="#66a6e4" opacity="0.55"/>
<path d="M621.8 471.7 c0.4 4.8 1.6 8.5 0.2 11.8 c-1.6 3.4 -7.8 3.8 -7.2 7 c0.6 3 8.2 3 7.8 6.2 c-0.4 2.9 -7.6 2.9 -7 6.1 c0.5 2.5 5.6 3.4 8.6 5.4" fill="none" stroke="#767b82" stroke-width="3.5" stroke-linecap="round"/>
<path d="M621.8 471.7 c0.4 4.8 1.6 8.5 0.2 11.8 c-1.6 3.4 -7.8 3.8 -7.2 7 c0.6 3 8.2 3 7.8 6.2 c-0.4 2.9 -7.6 2.9 -7 6.1 c0.5 2.5 5.6 3.4 8.6 5.4" fill="none" stroke="#8d9299" stroke-width="1.3" stroke-linecap="round" transform="translate(-0.5,-0.2)"/>
<polygon points="563.9,469.2 611.4,466.6 673.1,467.9 633.7,469.9" fill="#303030" />
<polygon points="563.9,469.2 633.7,469.9 633.7,472.7 563.9,472" fill="url(#gPlL)" />
<polygon points="633.7,469.9 673.1,467.9 673.1,470.7 633.7,472.7" fill="#b2b2b2" />
<circle cx="566.25" cy="475.1" r="1.7" fill="url(#gN)"/>
<circle cx="570.25" cy="475.1" r="1.7" fill="url(#gN)"/>
<circle cx="568.25" cy="472.9" r="1.6" fill="url(#gR)"/>
<circle cx="575.25" cy="475.1" r="1.7" fill="url(#gN)"/>
<circle cx="579.25" cy="475.1" r="1.7" fill="url(#gN)"/>
<circle cx="577.25" cy="472.9" r="1.6" fill="url(#gR)"/>
<circle cx="584.25" cy="475.1" r="1.7" fill="url(#gN)"/>
<circle cx="588.25" cy="475.1" r="1.7" fill="url(#gN)"/>
<circle cx="586.25" cy="472.9" r="1.6" fill="url(#gR)"/>
<circle cx="593.25" cy="475.1" r="1.7" fill="url(#gN)"/>
<circle cx="597.25" cy="475.1" r="1.7" fill="url(#gN)"/>
<circle cx="595.25" cy="472.9" r="1.6" fill="url(#gR)"/>
<circle cx="603" cy="475.1" r="1.7" fill="url(#gN)"/>
<circle cx="607" cy="475.1" r="1.7" fill="url(#gN)"/>
<circle cx="605" cy="472.9" r="1.6" fill="url(#gR)"/>
<circle cx="612" cy="475.1" r="1.7" fill="url(#gN)"/>
<circle cx="616" cy="475.1" r="1.7" fill="url(#gN)"/>
<circle cx="614" cy="472.9" r="1.6" fill="url(#gR)"/>
<circle cx="626.25" cy="475" r="1.7" fill="url(#gN)"/>
<circle cx="630.25" cy="475" r="1.7" fill="url(#gN)"/>
<circle cx="628.25" cy="472.8" r="1.6" fill="url(#gR)"/>
<circle cx="635.25" cy="474.82" r="1.7" fill="url(#gN)"/>
<circle cx="639.25" cy="474.82" r="1.7" fill="url(#gN)"/>
<circle cx="637.25" cy="472.62" r="1.6" fill="url(#gR)"/>
<circle cx="643.5" cy="474.64" r="1.7" fill="url(#gN)"/>
<circle cx="647.5" cy="474.64" r="1.7" fill="url(#gN)"/>
<circle cx="645.5" cy="472.44" r="1.6" fill="url(#gR)"/>
<circle cx="651" cy="474.46" r="1.7" fill="url(#gN)"/>
<circle cx="655" cy="474.46" r="1.7" fill="url(#gN)"/>
<circle cx="653" cy="472.26" r="1.6" fill="url(#gR)"/>
<circle cx="658.5" cy="474.28" r="1.7" fill="url(#gN)"/>
<circle cx="662.5" cy="474.28" r="1.7" fill="url(#gN)"/>
<circle cx="660.5" cy="472.08" r="1.6" fill="url(#gR)"/>
<circle cx="666.75" cy="474.1" r="1.7" fill="url(#gN)"/>
<circle cx="670.75" cy="474.1" r="1.7" fill="url(#gN)"/>
<circle cx="668.75" cy="471.9" r="1.6" fill="url(#gR)"/>
<line x1="621.9" y1="457.2" x2="621.9" y2="468.7" stroke="#333" stroke-width="0.8" />
<circle cx="621.9" cy="452.2" r="5.1" fill="#fff" stroke="#222" stroke-width="0.9"/>
<line x1="621.9" y1="533" x2="621.9" y2="539.2" stroke="#858585" stroke-width="1.1" />
<line x1="614.5" y1="539.4" x2="629.3" y2="539.4" stroke="#8a8a8a" stroke-width="1.5" />
<line x1="617.3" y1="541.5" x2="626.5" y2="541.5" stroke="#9a9a9a" stroke-width="1.4" />
<line x1="619.7" y1="543.4" x2="624.1" y2="543.4" stroke="#a8a8a8" stroke-width="1.3" />
<polygon points="679,513.4 748.8,518.2 748.8,532 679,526.8" fill="url(#gSiL)" />
<polygon points="748.8,518.2 788.2,507.6 788.2,522 748.8,532" fill="url(#gSiR)" />
<polygon points="679,506.2 748.8,510 748.8,518.2 679,513.4" fill="#8fc2e8" />
<polygon points="748.8,510 788.2,499.8 788.2,507.6 748.8,518.2" fill="#b4d8ee" />
<polygon points="679,470.2 748.8,470.9 748.8,510 679,506.2" fill="#d1d6ea" />
<polygon points="748.8,470.9 788.2,468.9 788.2,499.8 748.8,510" fill="#ccd2e8" />
<polygon points="679,506.2 726.5,497.8 788.2,499.8 748.8,510" fill="#4d8fd8" />
<polygon points="717.39,508.29 748.1,498.5 786.97,499.76 748.1,509.96" fill="#3473cb" opacity="0.8"/>
<polygon points="679,506.2 726.5,497.8 748.1,498.5 717.39,508.29" fill="#66a6e4" opacity="0.55"/>
<path d="M734.4 469.9 c0.4 4.8 1.6 8.5 0.2 11.8 c-1.6 3.4 -7.8 3.8 -7.2 7 c0.6 3 8.2 3 7.8 6.2 c-0.4 2.9 -7.6 2.9 -7 6.1 c0.5 2.5 5.6 3.4 8.6 5.4" fill="none" stroke="#767b82" stroke-width="3.5" stroke-linecap="round"/>
<path d="M734.4 469.9 c0.4 4.8 1.6 8.5 0.2 11.8 c-1.6 3.4 -7.8 3.8 -7.2 7 c0.6 3 8.2 3 7.8 6.2 c-0.4 2.9 -7.6 2.9 -7 6.1 c0.5 2.5 5.6 3.4 8.6 5.4" fill="none" stroke="#8d9299" stroke-width="1.3" stroke-linecap="round" transform="translate(-0.5,-0.2)"/>
<circle cx="734.7" cy="473.4" r="1.35" fill="url(#gN)"/>
<circle cx="735" cy="479.1" r="1.35" fill="url(#gN)"/>
<circle cx="733.4" cy="483.9" r="1.35" fill="url(#gN)"/>
<circle cx="729.4" cy="491.9" r="1.35" fill="url(#gN)"/>
<circle cx="734.8" cy="494.9" r="1.35" fill="url(#gN)"/>
<circle cx="728.6" cy="503.3" r="1.35" fill="url(#gN)"/>
<circle cx="731.8" cy="506.5" r="1.35" fill="url(#gN)"/>
<polygon points="679,467.4 726.5,464.8 788.2,466.1 748.8,468.1" fill="#303030" />
<polygon points="679,467.4 748.8,468.1 748.8,470.9 679,470.2" fill="url(#gPlL)" />
<polygon points="748.8,468.1 788.2,466.1 788.2,468.9 748.8,470.9" fill="#b2b2b2" />
<circle cx="687.4" cy="476.3" r="1.7" fill="url(#gN)"/>
<circle cx="684.8" cy="473.8" r="1.85" fill="url(#gR)"/>
<circle cx="704" cy="476.3" r="1.7" fill="url(#gN)"/>
<circle cx="701.4" cy="473.8" r="1.85" fill="url(#gR)"/>
<circle cx="719.6" cy="477" r="1.7" fill="url(#gN)"/>
<circle cx="717" cy="474.5" r="1.85" fill="url(#gR)"/>
<circle cx="755.7" cy="476.4" r="1.7" fill="url(#gN)"/>
<circle cx="753.1" cy="473.9" r="1.85" fill="url(#gR)"/>
<circle cx="770.5" cy="475.2" r="1.7" fill="url(#gN)"/>
<circle cx="767.9" cy="472.7" r="1.85" fill="url(#gR)"/>
<circle cx="782" cy="474.6" r="1.7" fill="url(#gN)"/>
<circle cx="779.4" cy="472.1" r="1.85" fill="url(#gR)"/>
<line x1="734.5" y1="455.4" x2="734.5" y2="466.9" stroke="#333" stroke-width="0.8" />
<circle cx="734.5" cy="450.4" r="5.1" fill="#fff" stroke="#222" stroke-width="0.9"/>
<line x1="731.5" y1="450.4" x2="737.5" y2="450.4" stroke="#111" stroke-width="1.0" />
<line x1="734.5" y1="447.4" x2="734.5" y2="453.4" stroke="#111" stroke-width="1.0" />
<line x1="734.5" y1="530.5" x2="734.5" y2="536.7" stroke="#858585" stroke-width="1.1" />
<line x1="727.1" y1="536.9" x2="741.9" y2="536.9" stroke="#8a8a8a" stroke-width="1.5" />
<line x1="729.9" y1="539" x2="739.1" y2="539" stroke="#9a9a9a" stroke-width="1.4" />
<line x1="732.3" y1="540.9" x2="736.7" y2="540.9" stroke="#a8a8a8" stroke-width="1.3" />
<polygon points="562.8,622.7 634.7,625.8 634.7,639.8 562.8,636.7" fill="url(#gSiL)" />
<polygon points="634.7,625.8 672.2,616.4 672.2,628.1 634.7,639.8" fill="url(#gSiR)" />
<polygon points="562.8,615.6 634.7,619.5 634.7,625.8 562.8,622.7" fill="#8fc2e8" />
<polygon points="634.7,619.5 672.2,610.2 672.2,616.4 634.7,625.8" fill="#b4d8ee" />
<polygon points="562.8,579.6 634.7,580.3 634.7,619.5 562.8,615.6" fill="#d1d6ea" />
<polygon points="634.7,580.3 672.2,578.3 672.2,610.2 634.7,619.5" fill="#ccd2e8" />
<polygon points="562.8,615.6 610.3,607 672.2,610.2 634.7,619.5" fill="#4d8fd8" />
<polygon points="602.34,617.75 631.96,608.12 670.96,610.14 633.98,619.46" fill="#3473cb" opacity="0.8"/>
<polygon points="562.8,615.6 610.3,607 631.96,608.12 602.34,617.75" fill="#66a6e4" opacity="0.55"/>
<path d="M621.5 579.3 c0.4 4.8 1.6 8.5 0.2 11.8 c-1.6 3.4 -7.8 3.8 -7.2 7 c0.6 3 8.2 3 7.8 6.2 c-0.4 2.9 -7.6 2.9 -7 6.1 c0.5 2.5 5.6 3.4 8.6 5.4" fill="none" stroke="#767b82" stroke-width="3.5" stroke-linecap="round"/>
<path d="M621.5 579.3 c0.4 4.8 1.6 8.5 0.2 11.8 c-1.6 3.4 -7.8 3.8 -7.2 7 c0.6 3 8.2 3 7.8 6.2 c-0.4 2.9 -7.6 2.9 -7 6.1 c0.5 2.5 5.6 3.4 8.6 5.4" fill="none" stroke="#8d9299" stroke-width="1.3" stroke-linecap="round" transform="translate(-0.5,-0.2)"/>
<circle cx="621.8" cy="582.8" r="1.35" fill="url(#gN)"/>
<circle cx="622.1" cy="588.5" r="1.35" fill="url(#gY)"/>
<circle cx="620.5" cy="593.3" r="1.35" fill="url(#gN)"/>
<circle cx="615.3" cy="597.5" r="1.35" fill="url(#gY)"/>
<circle cx="616.5" cy="601.3" r="1.35" fill="url(#gN)"/>
<circle cx="621.9" cy="604.3" r="1.35" fill="url(#gY)"/>
<circle cx="619.9" cy="608.9" r="1.35" fill="url(#gN)"/>
<circle cx="615.7" cy="612.7" r="1.35" fill="url(#gY)"/>
<circle cx="618.9" cy="615.9" r="1.35" fill="url(#gN)"/>
<circle cx="623.1" cy="617.9" r="1.35" fill="url(#gY)"/>
<circle cx="570.6" cy="625" r="1.85" fill="url(#gY)"/>
<circle cx="570.6" cy="632.8" r="1.85" fill="url(#gG)"/>
<circle cx="581.3" cy="625.88" r="1.85" fill="url(#gY)"/>
<circle cx="581.3" cy="633.74" r="1.85" fill="url(#gG)"/>
<circle cx="591.7" cy="626.76" r="1.85" fill="url(#gY)"/>
<circle cx="591.7" cy="634.68" r="1.85" fill="url(#gG)"/>
<circle cx="601.6" cy="627.64" r="1.85" fill="url(#gY)"/>
<circle cx="601.6" cy="635.62" r="1.85" fill="url(#gG)"/>
<circle cx="612.8" cy="628.52" r="1.85" fill="url(#gY)"/>
<circle cx="612.8" cy="636.56" r="1.85" fill="url(#gG)"/>
<circle cx="623.4" cy="629.4" r="1.85" fill="url(#gY)"/>
<circle cx="623.4" cy="637.5" r="1.85" fill="url(#gG)"/>
<circle cx="637.8" cy="628.9" r="1.85" fill="url(#gY)"/>
<circle cx="637.8" cy="637" r="1.85" fill="url(#gG)"/>
<circle cx="645.9" cy="626.9" r="1.85" fill="url(#gY)"/>
<circle cx="645.9" cy="634" r="1.85" fill="url(#gG)"/>
<circle cx="653" cy="624.7" r="1.85" fill="url(#gY)"/>
<circle cx="653" cy="631.7" r="1.85" fill="url(#gG)"/>
<circle cx="660.5" cy="622.3" r="1.85" fill="url(#gY)"/>
<circle cx="660.5" cy="629.2" r="1.85" fill="url(#gG)"/>
<circle cx="668.3" cy="619.8" r="1.85" fill="url(#gY)"/>
<circle cx="668.3" cy="626.9" r="1.85" fill="url(#gG)"/>
<polygon points="562.8,576.8 610.3,574.2 672.2,575.5 634.7,577.5" fill="#303030" />
<polygon points="562.8,576.8 634.7,577.5 634.7,580.3 562.8,579.6" fill="url(#gPlL)" />
<polygon points="634.7,577.5 672.2,575.5 672.2,578.3 634.7,580.3" fill="#b2b2b2" />
<circle cx="571.2" cy="585.7" r="1.7" fill="url(#gN)"/>
<circle cx="568.6" cy="583.2" r="1.85" fill="url(#gR)"/>
<circle cx="587.8" cy="585.7" r="1.7" fill="url(#gN)"/>
<circle cx="585.2" cy="583.2" r="1.85" fill="url(#gR)"/>
<circle cx="603.4" cy="586.4" r="1.7" fill="url(#gN)"/>
<circle cx="600.8" cy="583.9" r="1.85" fill="url(#gR)"/>
<circle cx="639.5" cy="585.8" r="1.7" fill="url(#gN)"/>
<circle cx="636.9" cy="583.3" r="1.85" fill="url(#gR)"/>
<circle cx="654.3" cy="584.6" r="1.7" fill="url(#gN)"/>
<circle cx="651.7" cy="582.1" r="1.85" fill="url(#gR)"/>
<circle cx="665.8" cy="584" r="1.7" fill="url(#gN)"/>
<circle cx="663.2" cy="581.5" r="1.85" fill="url(#gR)"/>
<line x1="621.6" y1="564.8" x2="621.6" y2="576.3" stroke="#333" stroke-width="0.8" />
<circle cx="621.6" cy="559.8" r="5.1" fill="#fff" stroke="#222" stroke-width="0.9"/>
<line x1="618.6" y1="559.8" x2="624.6" y2="559.8" stroke="#111" stroke-width="1.0" />
<line x1="621.6" y1="556.8" x2="621.6" y2="562.8" stroke="#111" stroke-width="1.0" />
<line x1="621.6" y1="638.3" x2="621.6" y2="644.5" stroke="#858585" stroke-width="1.1" />
<line x1="614.2" y1="644.7" x2="629" y2="644.7" stroke="#8a8a8a" stroke-width="1.5" />
<line x1="617" y1="646.8" x2="626.2" y2="646.8" stroke="#9a9a9a" stroke-width="1.4" />
<line x1="619.4" y1="648.7" x2="623.8" y2="648.7" stroke="#a8a8a8" stroke-width="1.3" />
<polygon points="647.7,556.8 654.9,556.8 658.5,570.8 644.1,570.8" fill="url(#gRb)"/>
<polygon points="647.7,556.8 654.9,556.8 658.5,570.8 644.1,570.8" fill="url(#gFade)"/>
<polygon points="680.9,621 750,624.6 750,638.2 680.9,633.5" fill="url(#gSiL)" />
<polygon points="750,624.6 787.5,615.5 787.5,626.5 750,638.2" fill="url(#gSiR)" />
<polygon points="680.9,613.65 750,617.9 750,624.6 680.9,621" fill="#8fc2e8" />
<polygon points="750,617.9 787.5,608.5 787.5,615.5 750,624.6" fill="#b4d8ee" />
<polygon points="680.9,578.3 750,579 750,617.9 680.9,613.65" fill="#d1d6ea" />
<polygon points="750,579 787.5,577 787.5,608.5 750,617.9" fill="#ccd2e8" />
<polygon points="680.9,613.65 728.4,605.4 787.5,608.5 750,617.9" fill="#4d8fd8" />
<polygon points="718.9,615.99 749.09,606.49 786.32,608.44 749.31,617.86" fill="#3473cb" opacity="0.8"/>
<polygon points="680.9,613.65 728.4,605.4 749.09,606.49 718.9,615.99" fill="#66a6e4" opacity="0.55"/>
<path d="M734.9 578 c0.4 4.8 1.6 8.5 0.2 11.8 c-1.6 3.4 -7.8 3.8 -7.2 7 c0.6 3 8.2 3 7.8 6.2 c-0.4 2.9 -7.6 2.9 -7 6.1 c0.5 2.5 5.6 3.4 8.6 5.4" fill="none" stroke="#767b82" stroke-width="3.5" stroke-linecap="round"/>
<path d="M734.9 578 c0.4 4.8 1.6 8.5 0.2 11.8 c-1.6 3.4 -7.8 3.8 -7.2 7 c0.6 3 8.2 3 7.8 6.2 c-0.4 2.9 -7.6 2.9 -7 6.1 c0.5 2.5 5.6 3.4 8.6 5.4" fill="none" stroke="#8d9299" stroke-width="1.3" stroke-linecap="round" transform="translate(-0.5,-0.2)"/>
<circle cx="728.7" cy="596.2" r="1.4" fill="url(#gG)"/>
<circle cx="735.3" cy="603" r="1.4" fill="url(#gG)"/>
<circle cx="729.1" cy="611.4" r="1.4" fill="url(#gG)"/>
<circle cx="736.5" cy="616.6" r="1.4" fill="url(#gG)"/>
<circle cx="732.3" cy="582.4" r="1.15" fill="url(#gN)"/>
<circle cx="735.1" cy="580.6" r="1.15" fill="url(#gN)"/>
<circle cx="737.5" cy="581.4" r="1.15" fill="url(#gN)"/>
<circle cx="734.5" cy="583.6" r="1.15" fill="url(#gN)"/>
<circle cx="736.9" cy="584.6" r="1.15" fill="url(#gN)"/>
<circle cx="738.3" cy="579.6" r="1.15" fill="url(#gN)"/>
<circle cx="735.5" cy="587.4" r="1.15" fill="url(#gN)"/>
<circle cx="733.7" cy="579.2" r="1.15" fill="url(#gN)"/>
<circle cx="686.7" cy="623.75" r="1.85" fill="url(#gG)"/>
<circle cx="686.7" cy="631.7" r="1.85" fill="url(#gY)"/>
<circle cx="696.9" cy="624.62" r="1.85" fill="url(#gG)"/>
<circle cx="696.9" cy="632.54" r="1.85" fill="url(#gY)"/>
<circle cx="707" cy="625.49" r="1.85" fill="url(#gG)"/>
<circle cx="707" cy="633.38" r="1.85" fill="url(#gY)"/>
<circle cx="717.5" cy="626.36" r="1.85" fill="url(#gG)"/>
<circle cx="717.5" cy="634.22" r="1.85" fill="url(#gY)"/>
<circle cx="728.1" cy="627.23" r="1.85" fill="url(#gG)"/>
<circle cx="728.1" cy="635.06" r="1.85" fill="url(#gY)"/>
<circle cx="738.3" cy="628.1" r="1.85" fill="url(#gG)"/>
<circle cx="738.3" cy="635.9" r="1.85" fill="url(#gY)"/>
<circle cx="753.9" cy="627.8" r="1.85" fill="url(#gG)"/>
<circle cx="753.9" cy="635.2" r="1.85" fill="url(#gY)"/>
<circle cx="761.7" cy="625" r="1.85" fill="url(#gG)"/>
<circle cx="761.7" cy="632.5" r="1.85" fill="url(#gY)"/>
<circle cx="768.4" cy="622.7" r="1.85" fill="url(#gG)"/>
<circle cx="768.4" cy="630" r="1.85" fill="url(#gY)"/>
<circle cx="776.25" cy="620" r="1.85" fill="url(#gG)"/>
<circle cx="776.25" cy="627.3" r="1.85" fill="url(#gY)"/>
<circle cx="783.9" cy="617.2" r="1.85" fill="url(#gG)"/>
<circle cx="783.9" cy="624.7" r="1.85" fill="url(#gY)"/>
<polygon points="680.9,575.5 728.4,572.9 787.5,574.2 750,576.2" fill="#303030" />
<polygon points="680.9,575.5 750,576.2 750,579 680.9,578.3" fill="url(#gPlL)" />
<polygon points="750,576.2 787.5,574.2 787.5,577 750,579" fill="#b2b2b2" />
<circle cx="689.3" cy="583.8" r="1.7" fill="url(#gN)"/>
<circle cx="686.7" cy="581.3" r="1.85" fill="url(#gR)"/>
<circle cx="705.9" cy="583.8" r="1.7" fill="url(#gN)"/>
<circle cx="703.3" cy="581.3" r="1.85" fill="url(#gR)"/>
<circle cx="721.5" cy="584.5" r="1.7" fill="url(#gN)"/>
<circle cx="718.9" cy="582" r="1.85" fill="url(#gR)"/>
<circle cx="757.6" cy="583.9" r="1.7" fill="url(#gN)"/>
<circle cx="755" cy="581.4" r="1.85" fill="url(#gR)"/>
<circle cx="772.4" cy="582.7" r="1.7" fill="url(#gN)"/>
<circle cx="769.8" cy="580.2" r="1.85" fill="url(#gR)"/>
<circle cx="783.9" cy="582.1" r="1.7" fill="url(#gN)"/>
<circle cx="781.3" cy="579.6" r="1.85" fill="url(#gR)"/>
<line x1="735" y1="563.5" x2="735" y2="575" stroke="#333" stroke-width="0.8" />
<circle cx="735" cy="558.5" r="5.1" fill="#fff" stroke="#222" stroke-width="0.9"/>
<line x1="732" y1="558.5" x2="738" y2="558.5" stroke="#111" stroke-width="1.1" />
<line x1="735" y1="636.7" x2="735" y2="642.9" stroke="#858585" stroke-width="1.1" />
<line x1="727.6" y1="643.1" x2="742.4" y2="643.1" stroke="#8a8a8a" stroke-width="1.5" />
<line x1="730.4" y1="645.2" x2="739.6" y2="645.2" stroke="#9a9a9a" stroke-width="1.4" />
<line x1="732.8" y1="647.1" x2="737.2" y2="647.1" stroke="#a8a8a8" stroke-width="1.3" />
<polygon points="766.6,555.5 773.8,555.5 777.4,569.5 763,569.5" fill="url(#gRb)"/>
<polygon points="766.6,555.5 773.8,555.5 777.4,569.5 763,569.5" fill="url(#gFade)"/>
<text x="570.7" y="465.5" font-size="10.6" text-anchor="start" fill="#1a1a1a" >Ti</text>
<text x="565.5" y="495.3" font-size="10.8" text-anchor="start" fill="#1a1a1a" >hBN</text>
<text x="565" y="514.8" font-size="10.6" text-anchor="start" fill="#1a1a1a" >SiO<tspan font-size="6.5" dy="2">x</tspan><tspan dy="-2">N</tspan><tspan font-size="6.5" dy="2" font-style="italic">y</tspan></text>
<text x="566" y="525" font-size="10.6" text-anchor="start" fill="#1a1a1a" >p-Si</text>
<text x="640" y="495.3" font-size="10.8" text-anchor="start" fill="#1a1a1a" >GB</text>
<line x1="625" y1="497.8" x2="638.8" y2="490.4" stroke="#222" stroke-width="0.8" />
<text x="756.3" y="496" font-size="10.8" text-anchor="start" fill="#1a1a1a" >HRS</text>
<text x="644.2" y="603.9" font-size="10.8" text-anchor="start" fill="#1a1a1a" >LRS</text>
<text x="756.5" y="603.9" font-size="10.8" text-anchor="start" fill="#1a1a1a" >HRS</text>
<circle cx="610.5" cy="667.9" r="2.2" fill="url(#gN)"/>
<circle cx="615.9" cy="667.9" r="2.2" fill="url(#gN)"/>
<circle cx="613.2" cy="665.1" r="2.5" fill="url(#gR)"/>
<text x="622" y="671.6" font-size="13.2" text-anchor="start" fill="#1a1a1a"  textLength="24.5" lengthAdjust="spacingAndGlyphs">H<tspan font-size="8.2" dy="2.8">2</tspan><tspan dy="-2.8">O</tspan></text>
<circle cx="666.2" cy="667" r="1.6" fill="url(#gN)"/>
<text x="671.4" y="671.6" font-size="13.2" text-anchor="start" fill="#1a1a1a" >H<tspan font-size="8.2" dy="-5.4">+</tspan></text>
<circle cx="709.8" cy="668.4" r="2.1" fill="url(#gN)"/>
<circle cx="706.6" cy="665.2" r="2.4" fill="url(#gR)"/>
<text x="718.5" y="671.6" font-size="13.2" text-anchor="start" fill="#1a1a1a" >OH<tspan font-size="8.2" dy="-5.4">−</tspan></text>
<circle cx="614.2" cy="689.2" r="1.7" fill="url(#gY)"/>
<text x="622" y="694.4" font-size="13.2" text-anchor="start" fill="#1a1a1a"  textLength="49" lengthAdjust="spacingAndGlyphs">Electron</text>
<circle cx="692.4" cy="688.6" r="1.7" fill="url(#gG)"/>
<text x="701.5" y="694.4" font-size="13.2" text-anchor="start" fill="#1a1a1a"  textLength="27.6" lengthAdjust="spacingAndGlyphs">Hole</text>
</g>
</svg>
</body></html>
